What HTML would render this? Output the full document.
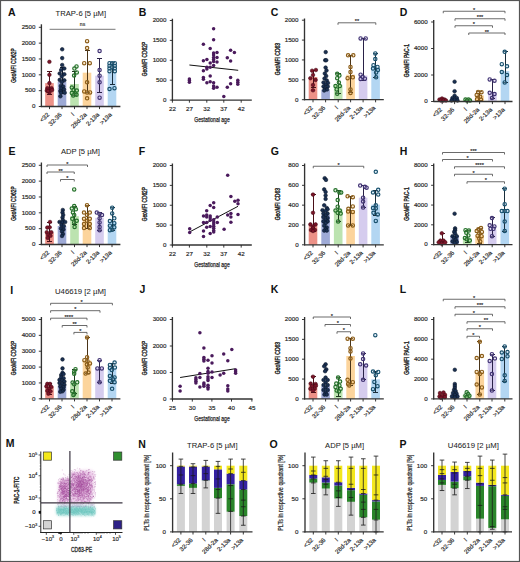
<!DOCTYPE html>
<html><head><meta charset="utf-8"><style>
html,body{margin:0;padding:0;background:#fff;}
svg{display:block;}
text{font-family:"Liberation Sans", sans-serif;stroke:#2a2a2a;stroke-width:0.18px;}
</style></head><body>
<svg width="520" height="562" viewBox="0 0 520 562">
<rect x="0" y="0" width="520" height="562" fill="#fff"/>
<text x="8.10" y="15.90" font-size="10.5" text-anchor="start" font-weight="bold" fill="#111"  style="stroke-width:0.04px">A</text>
<text x="80.80" y="15.60" font-size="7.4" text-anchor="middle" font-weight="normal" fill="#222" textLength="50.5" lengthAdjust="spacingAndGlyphs"  style="stroke-width:0.04px">TRAP-6 [5 µM]</text>
<line x1="41.40" y1="24.30" x2="41.40" y2="107.10" stroke="#333" stroke-width="1.35"/>
<line x1="38.80" y1="106.50" x2="41.40" y2="106.50" stroke="#222" stroke-width="0.9"/>
<text x="35.40" y="108.30" font-size="6.2" text-anchor="end" font-weight="normal" fill="#222" >0</text>
<line x1="38.80" y1="90.66" x2="41.40" y2="90.66" stroke="#222" stroke-width="0.9"/>
<text x="35.40" y="92.46" font-size="6.2" text-anchor="end" font-weight="normal" fill="#222" >500</text>
<line x1="38.80" y1="74.82" x2="41.40" y2="74.82" stroke="#222" stroke-width="0.9"/>
<text x="35.40" y="76.62" font-size="6.2" text-anchor="end" font-weight="normal" fill="#222" >1000</text>
<line x1="38.80" y1="58.98" x2="41.40" y2="58.98" stroke="#222" stroke-width="0.9"/>
<text x="35.40" y="60.78" font-size="6.2" text-anchor="end" font-weight="normal" fill="#222" >1500</text>
<line x1="38.80" y1="43.14" x2="41.40" y2="43.14" stroke="#222" stroke-width="0.9"/>
<text x="35.40" y="44.94" font-size="6.2" text-anchor="end" font-weight="normal" fill="#222" >2000</text>
<line x1="38.80" y1="27.30" x2="41.40" y2="27.30" stroke="#222" stroke-width="0.9"/>
<text x="35.40" y="29.10" font-size="6.2" text-anchor="end" font-weight="normal" fill="#222" >2500</text>
<text x="0" y="0" font-size="6.6" text-anchor="middle" fill="#222" textLength="34.3" lengthAdjust="spacingAndGlyphs" style="stroke-width:0.42px" transform="translate(15.60,65.50) rotate(-90)">GeoMFI CD62P</text>
<rect x="45.20" y="83.10" width="8.6" height="23.40" fill="#ec9187"/>
<rect x="57.70" y="81.70" width="8.6" height="24.80" fill="#9eaad6"/>
<rect x="70.20" y="84.00" width="8.6" height="22.50" fill="#bce3b0"/>
<rect x="82.70" y="72.70" width="8.6" height="33.80" fill="#fcd49c"/>
<rect x="95.20" y="75.70" width="8.6" height="30.80" fill="#d5ccee"/>
<rect x="107.70" y="72.50" width="8.6" height="34.00" fill="#b3d6f2"/>
<line x1="49.50" y1="71.50" x2="49.50" y2="94.50" stroke="#4a1018" stroke-width="1.0"/>
<line x1="47.00" y1="71.50" x2="52.00" y2="71.50" stroke="#4a1018" stroke-width="1.0"/>
<line x1="47.00" y1="94.50" x2="52.00" y2="94.50" stroke="#4a1018" stroke-width="1.0"/>
<line x1="62.50" y1="67.50" x2="62.50" y2="93.50" stroke="#101c30" stroke-width="1.0"/>
<line x1="60.00" y1="67.50" x2="65.00" y2="67.50" stroke="#101c30" stroke-width="1.0"/>
<line x1="60.00" y1="93.50" x2="65.00" y2="93.50" stroke="#101c30" stroke-width="1.0"/>
<line x1="74.50" y1="71.50" x2="74.50" y2="95.50" stroke="#1e3a1e" stroke-width="1.0"/>
<line x1="72.00" y1="71.50" x2="77.00" y2="71.50" stroke="#1e3a1e" stroke-width="1.0"/>
<line x1="72.00" y1="95.50" x2="77.00" y2="95.50" stroke="#1e3a1e" stroke-width="1.0"/>
<line x1="87.50" y1="50.50" x2="87.50" y2="92.50" stroke="#4a3418" stroke-width="1.0"/>
<line x1="85.00" y1="50.50" x2="90.00" y2="50.50" stroke="#4a3418" stroke-width="1.0"/>
<line x1="85.00" y1="92.50" x2="90.00" y2="92.50" stroke="#4a3418" stroke-width="1.0"/>
<line x1="99.50" y1="58.50" x2="99.50" y2="92.50" stroke="#2a2248" stroke-width="1.0"/>
<line x1="97.00" y1="58.50" x2="102.00" y2="58.50" stroke="#2a2248" stroke-width="1.0"/>
<line x1="97.00" y1="92.50" x2="102.00" y2="92.50" stroke="#2a2248" stroke-width="1.0"/>
<line x1="112.50" y1="62.50" x2="112.50" y2="84.50" stroke="#1a2e3c" stroke-width="1.0"/>
<line x1="110.00" y1="62.50" x2="115.00" y2="62.50" stroke="#1a2e3c" stroke-width="1.0"/>
<line x1="110.00" y1="84.50" x2="115.00" y2="84.50" stroke="#1a2e3c" stroke-width="1.0"/>
<circle cx="49.40" cy="61.80" r="1.8" fill="#7c1529" stroke="#480a16" stroke-width="0.6"/>
<circle cx="49.40" cy="74.80" r="1.8" fill="#7c1529" stroke="#480a16" stroke-width="0.6"/>
<circle cx="49.40" cy="83.10" r="1.8" fill="#7c1529" stroke="#480a16" stroke-width="0.6"/>
<circle cx="47.40" cy="88.20" r="1.8" fill="#7c1529" stroke="#480a16" stroke-width="0.6"/>
<circle cx="51.50" cy="88.20" r="1.8" fill="#7c1529" stroke="#480a16" stroke-width="0.6"/>
<circle cx="46.80" cy="90.60" r="1.8" fill="#7c1529" stroke="#480a16" stroke-width="0.6"/>
<circle cx="52.10" cy="90.00" r="1.8" fill="#7c1529" stroke="#480a16" stroke-width="0.6"/>
<circle cx="49.40" cy="92.40" r="1.8" fill="#7c1529" stroke="#480a16" stroke-width="0.6"/>
<circle cx="48.00" cy="91.00" r="1.8" fill="#7c1529" stroke="#480a16" stroke-width="0.6"/>
<circle cx="62.20" cy="49.30" r="1.8" fill="#1a3052" stroke="#0a1628" stroke-width="0.6"/>
<circle cx="62.20" cy="58.10" r="1.8" fill="#1a3052" stroke="#0a1628" stroke-width="0.6"/>
<circle cx="62.20" cy="65.00" r="1.8" fill="#1a3052" stroke="#0a1628" stroke-width="0.6"/>
<circle cx="64.30" cy="68.50" r="1.8" fill="#1a3052" stroke="#0a1628" stroke-width="0.6"/>
<circle cx="61.10" cy="70.00" r="1.8" fill="#1a3052" stroke="#0a1628" stroke-width="0.6"/>
<circle cx="59.70" cy="73.50" r="1.8" fill="#1a3052" stroke="#0a1628" stroke-width="0.6"/>
<circle cx="64.30" cy="74.20" r="1.8" fill="#1a3052" stroke="#0a1628" stroke-width="0.6"/>
<circle cx="61.80" cy="76.40" r="1.8" fill="#1a3052" stroke="#0a1628" stroke-width="0.6"/>
<circle cx="59.70" cy="79.90" r="1.8" fill="#1a3052" stroke="#0a1628" stroke-width="0.6"/>
<circle cx="64.30" cy="80.30" r="1.8" fill="#1a3052" stroke="#0a1628" stroke-width="0.6"/>
<circle cx="61.80" cy="82.00" r="1.8" fill="#1a3052" stroke="#0a1628" stroke-width="0.6"/>
<circle cx="60.80" cy="86.00" r="1.8" fill="#1a3052" stroke="#0a1628" stroke-width="0.6"/>
<circle cx="63.20" cy="86.50" r="1.8" fill="#1a3052" stroke="#0a1628" stroke-width="0.6"/>
<circle cx="61.10" cy="88.50" r="1.8" fill="#1a3052" stroke="#0a1628" stroke-width="0.6"/>
<circle cx="64.00" cy="89.50" r="1.8" fill="#1a3052" stroke="#0a1628" stroke-width="0.6"/>
<circle cx="60.40" cy="91.00" r="1.8" fill="#1a3052" stroke="#0a1628" stroke-width="0.6"/>
<circle cx="61.10" cy="92.80" r="1.8" fill="#1a3052" stroke="#0a1628" stroke-width="0.6"/>
<circle cx="64.70" cy="92.70" r="1.8" fill="#1a3052" stroke="#0a1628" stroke-width="0.6"/>
<circle cx="60.40" cy="96.30" r="1.8" fill="#1a3052" stroke="#0a1628" stroke-width="0.6"/>
<circle cx="76.50" cy="66.40" r="1.68" fill="#a8d89a" fill-opacity="0.35" stroke="#24702a" stroke-width="1.15"/>
<circle cx="74.40" cy="68.60" r="1.68" fill="#a8d89a" fill-opacity="0.35" stroke="#24702a" stroke-width="1.15"/>
<circle cx="76.80" cy="72.40" r="1.68" fill="#a8d89a" fill-opacity="0.35" stroke="#24702a" stroke-width="1.15"/>
<circle cx="74.10" cy="75.50" r="1.68" fill="#a8d89a" fill-opacity="0.35" stroke="#24702a" stroke-width="1.15"/>
<circle cx="71.80" cy="87.60" r="1.68" fill="#a8d89a" fill-opacity="0.35" stroke="#24702a" stroke-width="1.15"/>
<circle cx="73.60" cy="90.00" r="1.68" fill="#a8d89a" fill-opacity="0.35" stroke="#24702a" stroke-width="1.15"/>
<circle cx="76.80" cy="90.60" r="1.68" fill="#a8d89a" fill-opacity="0.35" stroke="#24702a" stroke-width="1.15"/>
<circle cx="71.80" cy="93.00" r="1.68" fill="#a8d89a" fill-opacity="0.35" stroke="#24702a" stroke-width="1.15"/>
<circle cx="75.30" cy="93.60" r="1.68" fill="#a8d89a" fill-opacity="0.35" stroke="#24702a" stroke-width="1.15"/>
<circle cx="73.20" cy="95.40" r="1.68" fill="#a8d89a" fill-opacity="0.35" stroke="#24702a" stroke-width="1.15"/>
<circle cx="76.50" cy="94.80" r="1.68" fill="#a8d89a" fill-opacity="0.35" stroke="#24702a" stroke-width="1.15"/>
<circle cx="87.10" cy="41.20" r="1.68" fill="#f8c880" fill-opacity="0.35" stroke="#8a5c18" stroke-width="1.15"/>
<circle cx="87.10" cy="48.10" r="1.68" fill="#f8c880" fill-opacity="0.35" stroke="#8a5c18" stroke-width="1.15"/>
<circle cx="84.20" cy="63.20" r="1.68" fill="#f8c880" fill-opacity="0.35" stroke="#8a5c18" stroke-width="1.15"/>
<circle cx="89.80" cy="63.20" r="1.68" fill="#f8c880" fill-opacity="0.35" stroke="#8a5c18" stroke-width="1.15"/>
<circle cx="87.10" cy="82.30" r="1.68" fill="#f8c880" fill-opacity="0.35" stroke="#8a5c18" stroke-width="1.15"/>
<circle cx="84.20" cy="91.40" r="1.68" fill="#f8c880" fill-opacity="0.35" stroke="#8a5c18" stroke-width="1.15"/>
<circle cx="87.10" cy="92.40" r="1.68" fill="#f8c880" fill-opacity="0.35" stroke="#8a5c18" stroke-width="1.15"/>
<circle cx="90.10" cy="92.40" r="1.68" fill="#f8c880" fill-opacity="0.35" stroke="#8a5c18" stroke-width="1.15"/>
<circle cx="87.10" cy="98.30" r="1.68" fill="#f8c880" fill-opacity="0.35" stroke="#8a5c18" stroke-width="1.15"/>
<circle cx="99.60" cy="51.00" r="1.68" fill="#cfc4ec" fill-opacity="0.35" stroke="#3f3272" stroke-width="1.15"/>
<circle cx="99.60" cy="70.00" r="1.68" fill="#cfc4ec" fill-opacity="0.35" stroke="#3f3272" stroke-width="1.15"/>
<circle cx="99.60" cy="75.70" r="1.68" fill="#cfc4ec" fill-opacity="0.35" stroke="#3f3272" stroke-width="1.15"/>
<circle cx="99.60" cy="82.30" r="1.68" fill="#cfc4ec" fill-opacity="0.35" stroke="#3f3272" stroke-width="1.15"/>
<circle cx="99.60" cy="97.70" r="1.68" fill="#cfc4ec" fill-opacity="0.35" stroke="#3f3272" stroke-width="1.15"/>
<circle cx="109.50" cy="63.20" r="1.68" fill="#a8d0f0" fill-opacity="0.35" stroke="#18506c" stroke-width="1.15"/>
<circle cx="112.10" cy="63.20" r="1.68" fill="#a8d0f0" fill-opacity="0.35" stroke="#18506c" stroke-width="1.15"/>
<circle cx="114.80" cy="63.20" r="1.68" fill="#a8d0f0" fill-opacity="0.35" stroke="#18506c" stroke-width="1.15"/>
<circle cx="109.50" cy="65.90" r="1.68" fill="#a8d0f0" fill-opacity="0.35" stroke="#18506c" stroke-width="1.15"/>
<circle cx="114.80" cy="65.90" r="1.68" fill="#a8d0f0" fill-opacity="0.35" stroke="#18506c" stroke-width="1.15"/>
<circle cx="112.10" cy="67.40" r="1.68" fill="#a8d0f0" fill-opacity="0.35" stroke="#18506c" stroke-width="1.15"/>
<circle cx="109.50" cy="68.60" r="1.68" fill="#a8d0f0" fill-opacity="0.35" stroke="#18506c" stroke-width="1.15"/>
<circle cx="114.80" cy="68.60" r="1.68" fill="#a8d0f0" fill-opacity="0.35" stroke="#18506c" stroke-width="1.15"/>
<circle cx="109.50" cy="71.20" r="1.68" fill="#a8d0f0" fill-opacity="0.35" stroke="#18506c" stroke-width="1.15"/>
<circle cx="114.80" cy="71.20" r="1.68" fill="#a8d0f0" fill-opacity="0.35" stroke="#18506c" stroke-width="1.15"/>
<circle cx="109.50" cy="89.00" r="1.68" fill="#a8d0f0" fill-opacity="0.35" stroke="#18506c" stroke-width="1.15"/>
<circle cx="114.50" cy="88.20" r="1.68" fill="#a8d0f0" fill-opacity="0.35" stroke="#18506c" stroke-width="1.15"/>
<line x1="40.60" y1="106.50" x2="120.40" y2="106.50" stroke="#333" stroke-width="1.3"/>
<line x1="49.50" y1="106.50" x2="49.50" y2="109.10" stroke="#222" stroke-width="0.9"/>
<text x="0" y="0" font-size="6.2" text-anchor="end" fill="#222" transform="translate(49.70,115.10) rotate(-45)">&lt;32</text>
<line x1="62.00" y1="106.50" x2="62.00" y2="109.10" stroke="#222" stroke-width="0.9"/>
<text x="0" y="0" font-size="6.2" text-anchor="end" fill="#222" transform="translate(62.20,115.10) rotate(-45)">32-36</text>
<line x1="74.50" y1="106.50" x2="74.50" y2="109.10" stroke="#222" stroke-width="0.9"/>
<text x="0" y="0" font-size="6.2" text-anchor="end" fill="#222" transform="translate(74.70,115.10) rotate(-45)">I</text>
<line x1="87.00" y1="106.50" x2="87.00" y2="109.10" stroke="#222" stroke-width="0.9"/>
<text x="0" y="0" font-size="6.2" text-anchor="end" fill="#222" transform="translate(87.20,115.10) rotate(-45)">28d-2a</text>
<line x1="99.50" y1="106.50" x2="99.50" y2="109.10" stroke="#222" stroke-width="0.9"/>
<text x="0" y="0" font-size="6.2" text-anchor="end" fill="#222" transform="translate(99.70,115.10) rotate(-45)">2-13a</text>
<line x1="112.00" y1="106.50" x2="112.00" y2="109.10" stroke="#222" stroke-width="0.9"/>
<text x="0" y="0" font-size="6.2" text-anchor="end" fill="#222" transform="translate(112.20,115.10) rotate(-45)">&gt;13a</text>
<line x1="49.60" y1="29.30" x2="115.50" y2="29.30" stroke="#555" stroke-width="0.8"/>
<text x="82.50" y="26.30" font-size="5.0" text-anchor="middle" font-weight="normal" fill="#444" >ns</text>
<text x="138.80" y="15.90" font-size="10.5" text-anchor="start" font-weight="bold" fill="#111"  style="stroke-width:0.04px">B</text>
<line x1="172.40" y1="18.70" x2="172.40" y2="100.70" stroke="#333" stroke-width="1.35"/>
<line x1="169.80" y1="100.10" x2="172.40" y2="100.10" stroke="#222" stroke-width="0.9"/>
<text x="166.40" y="101.90" font-size="6.2" text-anchor="end" font-weight="normal" fill="#222" >0</text>
<line x1="169.80" y1="80.20" x2="172.40" y2="80.20" stroke="#222" stroke-width="0.9"/>
<text x="166.40" y="82.00" font-size="6.2" text-anchor="end" font-weight="normal" fill="#222" >500</text>
<line x1="169.80" y1="60.30" x2="172.40" y2="60.30" stroke="#222" stroke-width="0.9"/>
<text x="166.40" y="62.10" font-size="6.2" text-anchor="end" font-weight="normal" fill="#222" >1000</text>
<line x1="169.80" y1="40.40" x2="172.40" y2="40.40" stroke="#222" stroke-width="0.9"/>
<text x="166.40" y="42.20" font-size="6.2" text-anchor="end" font-weight="normal" fill="#222" >1500</text>
<line x1="169.80" y1="20.50" x2="172.40" y2="20.50" stroke="#222" stroke-width="0.9"/>
<text x="166.40" y="22.30" font-size="6.2" text-anchor="end" font-weight="normal" fill="#222" >2000</text>
<text x="0" y="0" font-size="6.6" text-anchor="middle" fill="#222" textLength="34.3" lengthAdjust="spacingAndGlyphs" style="stroke-width:0.42px" transform="translate(147.40,59.00) rotate(-90)">GeoMFI CD62P</text>
<line x1="171.80" y1="100.10" x2="251.80" y2="100.10" stroke="#333" stroke-width="1.3"/>
<line x1="172.40" y1="100.10" x2="172.40" y2="102.70" stroke="#222" stroke-width="0.9"/>
<text x="172.40" y="110.70" font-size="6.2" text-anchor="middle" font-weight="normal" fill="#222" >22</text>
<line x1="189.40" y1="100.10" x2="189.40" y2="102.70" stroke="#222" stroke-width="0.9"/>
<text x="189.40" y="110.70" font-size="6.2" text-anchor="middle" font-weight="normal" fill="#222" >27</text>
<line x1="206.80" y1="100.10" x2="206.80" y2="102.70" stroke="#222" stroke-width="0.9"/>
<text x="206.80" y="110.70" font-size="6.2" text-anchor="middle" font-weight="normal" fill="#222" >32</text>
<line x1="223.80" y1="100.10" x2="223.80" y2="102.70" stroke="#222" stroke-width="0.9"/>
<text x="223.80" y="110.70" font-size="6.2" text-anchor="middle" font-weight="normal" fill="#222" >37</text>
<line x1="241.20" y1="100.10" x2="241.20" y2="102.70" stroke="#222" stroke-width="0.9"/>
<text x="241.20" y="110.70" font-size="6.2" text-anchor="middle" font-weight="normal" fill="#222" >42</text>
<text x="212.00" y="121.80" font-size="7.0" text-anchor="middle" font-weight="normal" fill="#222" textLength="35.5" lengthAdjust="spacingAndGlyphs" style="stroke-width:0.25px">Gestational age</text>
<line x1="189.40" y1="65.00" x2="238.20" y2="70.30" stroke="#111" stroke-width="1.0"/>
<circle cx="213.60" cy="28.80" r="1.75" fill="#4a1a5c"/>
<circle cx="213.60" cy="39.70" r="1.75" fill="#4a1a5c"/>
<circle cx="203.40" cy="44.20" r="1.75" fill="#4a1a5c"/>
<circle cx="210.20" cy="48.40" r="1.75" fill="#4a1a5c"/>
<circle cx="213.60" cy="53.00" r="1.75" fill="#4a1a5c"/>
<circle cx="217.00" cy="52.50" r="1.75" fill="#4a1a5c"/>
<circle cx="213.60" cy="55.10" r="1.75" fill="#4a1a5c"/>
<circle cx="213.60" cy="57.50" r="1.75" fill="#4a1a5c"/>
<circle cx="217.00" cy="57.50" r="1.75" fill="#4a1a5c"/>
<circle cx="213.60" cy="59.60" r="1.75" fill="#4a1a5c"/>
<circle cx="213.60" cy="61.60" r="1.75" fill="#4a1a5c"/>
<circle cx="217.00" cy="62.00" r="1.75" fill="#4a1a5c"/>
<circle cx="203.40" cy="60.80" r="1.75" fill="#4a1a5c"/>
<circle cx="206.90" cy="59.60" r="1.75" fill="#4a1a5c"/>
<circle cx="210.20" cy="63.10" r="1.75" fill="#4a1a5c"/>
<circle cx="213.60" cy="65.40" r="1.75" fill="#4a1a5c"/>
<circle cx="210.20" cy="67.20" r="1.75" fill="#4a1a5c"/>
<circle cx="206.90" cy="67.20" r="1.75" fill="#4a1a5c"/>
<circle cx="206.90" cy="69.10" r="1.75" fill="#4a1a5c"/>
<circle cx="203.40" cy="70.70" r="1.75" fill="#4a1a5c"/>
<circle cx="203.40" cy="77.50" r="1.75" fill="#4a1a5c"/>
<circle cx="203.40" cy="79.30" r="1.75" fill="#4a1a5c"/>
<circle cx="210.20" cy="76.00" r="1.75" fill="#4a1a5c"/>
<circle cx="206.90" cy="82.70" r="1.75" fill="#4a1a5c"/>
<circle cx="210.20" cy="81.70" r="1.75" fill="#4a1a5c"/>
<circle cx="213.60" cy="82.70" r="1.75" fill="#4a1a5c"/>
<circle cx="213.60" cy="88.30" r="1.75" fill="#4a1a5c"/>
<circle cx="217.00" cy="87.30" r="1.75" fill="#4a1a5c"/>
<circle cx="189.40" cy="79.00" r="1.75" fill="#4a1a5c"/>
<circle cx="189.40" cy="82.30" r="1.75" fill="#4a1a5c"/>
<circle cx="189.40" cy="80.50" r="1.75" fill="#4a1a5c"/>
<circle cx="230.60" cy="50.20" r="1.75" fill="#4a1a5c"/>
<circle cx="234.40" cy="52.50" r="1.75" fill="#4a1a5c"/>
<circle cx="227.30" cy="57.80" r="1.75" fill="#4a1a5c"/>
<circle cx="230.60" cy="61.10" r="1.75" fill="#4a1a5c"/>
<circle cx="230.60" cy="77.50" r="1.75" fill="#4a1a5c"/>
<circle cx="230.60" cy="83.80" r="1.75" fill="#4a1a5c"/>
<circle cx="227.30" cy="87.30" r="1.75" fill="#4a1a5c"/>
<circle cx="223.80" cy="96.40" r="1.75" fill="#4a1a5c"/>
<circle cx="237.80" cy="80.20" r="1.75" fill="#4a1a5c"/>
<circle cx="237.80" cy="82.30" r="1.75" fill="#4a1a5c"/>
<circle cx="237.80" cy="84.30" r="1.75" fill="#4a1a5c"/>
<circle cx="213.60" cy="86.00" r="1.75" fill="#4a1a5c"/>
<text x="270.80" y="15.90" font-size="10.5" text-anchor="start" font-weight="bold" fill="#111"  style="stroke-width:0.04px">C</text>
<line x1="304.50" y1="18.50" x2="304.50" y2="100.30" stroke="#333" stroke-width="1.35"/>
<line x1="301.90" y1="99.70" x2="304.50" y2="99.70" stroke="#222" stroke-width="0.9"/>
<text x="298.50" y="101.50" font-size="6.2" text-anchor="end" font-weight="normal" fill="#222" >0</text>
<line x1="301.90" y1="79.83" x2="304.50" y2="79.83" stroke="#222" stroke-width="0.9"/>
<text x="298.50" y="81.62" font-size="6.2" text-anchor="end" font-weight="normal" fill="#222" >500</text>
<line x1="301.90" y1="59.95" x2="304.50" y2="59.95" stroke="#222" stroke-width="0.9"/>
<text x="298.50" y="61.75" font-size="6.2" text-anchor="end" font-weight="normal" fill="#222" >1000</text>
<line x1="301.90" y1="40.08" x2="304.50" y2="40.08" stroke="#222" stroke-width="0.9"/>
<text x="298.50" y="41.88" font-size="6.2" text-anchor="end" font-weight="normal" fill="#222" >1500</text>
<line x1="301.90" y1="20.20" x2="304.50" y2="20.20" stroke="#222" stroke-width="0.9"/>
<text x="298.50" y="22.00" font-size="6.2" text-anchor="end" font-weight="normal" fill="#222" >2000</text>
<text x="0" y="0" font-size="6.6" text-anchor="middle" fill="#222" textLength="32.3" lengthAdjust="spacingAndGlyphs" style="stroke-width:0.42px" transform="translate(280.20,59.00) rotate(-90)">GeoMFI CD63</text>
<rect x="308.70" y="77.00" width="8.6" height="22.70" fill="#ec9187"/>
<rect x="321.30" y="89.50" width="8.6" height="10.20" fill="#9eaad6"/>
<rect x="333.90" y="85.00" width="8.6" height="14.70" fill="#bce3b0"/>
<rect x="346.30" y="74.70" width="8.6" height="25.00" fill="#fcd49c"/>
<rect x="358.80" y="75.50" width="8.6" height="24.20" fill="#d5ccee"/>
<rect x="371.30" y="67.80" width="8.6" height="31.90" fill="#b3d6f2"/>
<line x1="313.50" y1="70.50" x2="313.50" y2="87.50" stroke="#4a1018" stroke-width="1.0"/>
<line x1="311.00" y1="70.50" x2="316.00" y2="70.50" stroke="#4a1018" stroke-width="1.0"/>
<line x1="311.00" y1="87.50" x2="316.00" y2="87.50" stroke="#4a1018" stroke-width="1.0"/>
<line x1="338.50" y1="73.50" x2="338.50" y2="93.50" stroke="#1e3a1e" stroke-width="1.0"/>
<line x1="336.00" y1="73.50" x2="341.00" y2="73.50" stroke="#1e3a1e" stroke-width="1.0"/>
<line x1="336.00" y1="93.50" x2="341.00" y2="93.50" stroke="#1e3a1e" stroke-width="1.0"/>
<line x1="350.50" y1="55.50" x2="350.50" y2="92.50" stroke="#4a3418" stroke-width="1.0"/>
<line x1="348.00" y1="55.50" x2="353.00" y2="55.50" stroke="#4a3418" stroke-width="1.0"/>
<line x1="348.00" y1="92.50" x2="353.00" y2="92.50" stroke="#4a3418" stroke-width="1.0"/>
<line x1="363.50" y1="38.50" x2="363.50" y2="80.50" stroke="#2a2248" stroke-width="1.0"/>
<line x1="361.00" y1="38.50" x2="366.00" y2="38.50" stroke="#2a2248" stroke-width="1.0"/>
<line x1="361.00" y1="80.50" x2="366.00" y2="80.50" stroke="#2a2248" stroke-width="1.0"/>
<line x1="375.50" y1="53.50" x2="375.50" y2="77.50" stroke="#1a2e3c" stroke-width="1.0"/>
<line x1="373.00" y1="53.50" x2="378.00" y2="53.50" stroke="#1a2e3c" stroke-width="1.0"/>
<line x1="373.00" y1="77.50" x2="378.00" y2="77.50" stroke="#1a2e3c" stroke-width="1.0"/>
<circle cx="312.10" cy="70.70" r="1.8" fill="#7c1529" stroke="#480a16" stroke-width="0.6"/>
<circle cx="315.90" cy="70.00" r="1.8" fill="#7c1529" stroke="#480a16" stroke-width="0.6"/>
<circle cx="310.40" cy="78.20" r="1.8" fill="#7c1529" stroke="#480a16" stroke-width="0.6"/>
<circle cx="315.60" cy="79.90" r="1.8" fill="#7c1529" stroke="#480a16" stroke-width="0.6"/>
<circle cx="313.00" cy="75.00" r="1.8" fill="#7c1529" stroke="#480a16" stroke-width="0.6"/>
<circle cx="313.00" cy="85.00" r="1.8" fill="#7c1529" stroke="#480a16" stroke-width="0.6"/>
<circle cx="313.00" cy="90.30" r="1.8" fill="#7c1529" stroke="#480a16" stroke-width="0.6"/>
<circle cx="325.70" cy="52.10" r="1.8" fill="#1a3052" stroke="#0a1628" stroke-width="0.6"/>
<circle cx="325.20" cy="60.20" r="1.8" fill="#1a3052" stroke="#0a1628" stroke-width="0.6"/>
<circle cx="326.20" cy="60.20" r="1.8" fill="#1a3052" stroke="#0a1628" stroke-width="0.6"/>
<circle cx="325.60" cy="67.60" r="1.8" fill="#1a3052" stroke="#0a1628" stroke-width="0.6"/>
<circle cx="326.50" cy="70.50" r="1.8" fill="#1a3052" stroke="#0a1628" stroke-width="0.6"/>
<circle cx="324.80" cy="73.50" r="1.8" fill="#1a3052" stroke="#0a1628" stroke-width="0.6"/>
<circle cx="326.20" cy="76.00" r="1.8" fill="#1a3052" stroke="#0a1628" stroke-width="0.6"/>
<circle cx="324.50" cy="78.50" r="1.8" fill="#1a3052" stroke="#0a1628" stroke-width="0.6"/>
<circle cx="326.80" cy="80.50" r="1.8" fill="#1a3052" stroke="#0a1628" stroke-width="0.6"/>
<circle cx="323.50" cy="82.50" r="1.8" fill="#1a3052" stroke="#0a1628" stroke-width="0.6"/>
<circle cx="328.00" cy="83.00" r="1.8" fill="#1a3052" stroke="#0a1628" stroke-width="0.6"/>
<circle cx="325.60" cy="84.50" r="1.8" fill="#1a3052" stroke="#0a1628" stroke-width="0.6"/>
<circle cx="323.50" cy="86.50" r="1.8" fill="#1a3052" stroke="#0a1628" stroke-width="0.6"/>
<circle cx="327.80" cy="86.50" r="1.8" fill="#1a3052" stroke="#0a1628" stroke-width="0.6"/>
<circle cx="325.00" cy="88.50" r="1.8" fill="#1a3052" stroke="#0a1628" stroke-width="0.6"/>
<circle cx="327.00" cy="89.50" r="1.8" fill="#1a3052" stroke="#0a1628" stroke-width="0.6"/>
<circle cx="324.20" cy="90.50" r="1.8" fill="#1a3052" stroke="#0a1628" stroke-width="0.6"/>
<circle cx="337.20" cy="73.80" r="1.68" fill="#a8d89a" fill-opacity="0.35" stroke="#24702a" stroke-width="1.15"/>
<circle cx="339.40" cy="75.60" r="1.68" fill="#a8d89a" fill-opacity="0.35" stroke="#24702a" stroke-width="1.15"/>
<circle cx="337.20" cy="78.20" r="1.68" fill="#a8d89a" fill-opacity="0.35" stroke="#24702a" stroke-width="1.15"/>
<circle cx="338.90" cy="82.50" r="1.68" fill="#a8d89a" fill-opacity="0.35" stroke="#24702a" stroke-width="1.15"/>
<circle cx="335.50" cy="86.00" r="1.68" fill="#a8d89a" fill-opacity="0.35" stroke="#24702a" stroke-width="1.15"/>
<circle cx="339.80" cy="86.00" r="1.68" fill="#a8d89a" fill-opacity="0.35" stroke="#24702a" stroke-width="1.15"/>
<circle cx="336.70" cy="89.40" r="1.68" fill="#a8d89a" fill-opacity="0.35" stroke="#24702a" stroke-width="1.15"/>
<circle cx="337.20" cy="93.70" r="1.68" fill="#a8d89a" fill-opacity="0.35" stroke="#24702a" stroke-width="1.15"/>
<circle cx="348.10" cy="55.30" r="1.68" fill="#f8c880" fill-opacity="0.35" stroke="#8a5c18" stroke-width="1.15"/>
<circle cx="353.30" cy="55.30" r="1.68" fill="#f8c880" fill-opacity="0.35" stroke="#8a5c18" stroke-width="1.15"/>
<circle cx="350.50" cy="66.90" r="1.68" fill="#f8c880" fill-opacity="0.35" stroke="#8a5c18" stroke-width="1.15"/>
<circle cx="350.50" cy="72.10" r="1.68" fill="#f8c880" fill-opacity="0.35" stroke="#8a5c18" stroke-width="1.15"/>
<circle cx="347.60" cy="78.20" r="1.68" fill="#f8c880" fill-opacity="0.35" stroke="#8a5c18" stroke-width="1.15"/>
<circle cx="352.80" cy="77.30" r="1.68" fill="#f8c880" fill-opacity="0.35" stroke="#8a5c18" stroke-width="1.15"/>
<circle cx="350.50" cy="89.40" r="1.68" fill="#f8c880" fill-opacity="0.35" stroke="#8a5c18" stroke-width="1.15"/>
<circle cx="350.50" cy="92.90" r="1.68" fill="#f8c880" fill-opacity="0.35" stroke="#8a5c18" stroke-width="1.15"/>
<circle cx="360.60" cy="38.40" r="1.68" fill="#cfc4ec" fill-opacity="0.35" stroke="#3f3272" stroke-width="1.15"/>
<circle cx="365.70" cy="38.40" r="1.68" fill="#cfc4ec" fill-opacity="0.35" stroke="#3f3272" stroke-width="1.15"/>
<circle cx="360.60" cy="74.70" r="1.68" fill="#cfc4ec" fill-opacity="0.35" stroke="#3f3272" stroke-width="1.15"/>
<circle cx="362.70" cy="76.90" r="1.68" fill="#cfc4ec" fill-opacity="0.35" stroke="#3f3272" stroke-width="1.15"/>
<circle cx="364.90" cy="78.70" r="1.68" fill="#cfc4ec" fill-opacity="0.35" stroke="#3f3272" stroke-width="1.15"/>
<circle cx="360.60" cy="79.00" r="1.68" fill="#cfc4ec" fill-opacity="0.35" stroke="#3f3272" stroke-width="1.15"/>
<circle cx="375.30" cy="53.40" r="1.68" fill="#a8d0f0" fill-opacity="0.35" stroke="#18506c" stroke-width="1.15"/>
<circle cx="375.30" cy="59.10" r="1.68" fill="#a8d0f0" fill-opacity="0.35" stroke="#18506c" stroke-width="1.15"/>
<circle cx="373.50" cy="65.20" r="1.68" fill="#a8d0f0" fill-opacity="0.35" stroke="#18506c" stroke-width="1.15"/>
<circle cx="377.50" cy="66.90" r="1.68" fill="#a8d0f0" fill-opacity="0.35" stroke="#18506c" stroke-width="1.15"/>
<circle cx="373.00" cy="68.60" r="1.68" fill="#a8d0f0" fill-opacity="0.35" stroke="#18506c" stroke-width="1.15"/>
<circle cx="377.90" cy="70.00" r="1.68" fill="#a8d0f0" fill-opacity="0.35" stroke="#18506c" stroke-width="1.15"/>
<circle cx="376.10" cy="72.40" r="1.68" fill="#a8d0f0" fill-opacity="0.35" stroke="#18506c" stroke-width="1.15"/>
<circle cx="376.10" cy="77.30" r="1.68" fill="#a8d0f0" fill-opacity="0.35" stroke="#18506c" stroke-width="1.15"/>
<line x1="303.90" y1="99.70" x2="383.80" y2="99.70" stroke="#333" stroke-width="1.3"/>
<line x1="313.00" y1="99.70" x2="313.00" y2="102.30" stroke="#222" stroke-width="0.9"/>
<text x="0" y="0" font-size="6.2" text-anchor="end" fill="#222" transform="translate(313.20,108.30) rotate(-45)">&lt;32</text>
<line x1="325.60" y1="99.70" x2="325.60" y2="102.30" stroke="#222" stroke-width="0.9"/>
<text x="0" y="0" font-size="6.2" text-anchor="end" fill="#222" transform="translate(325.80,108.30) rotate(-45)">32-36</text>
<line x1="338.20" y1="99.70" x2="338.20" y2="102.30" stroke="#222" stroke-width="0.9"/>
<text x="0" y="0" font-size="6.2" text-anchor="end" fill="#222" transform="translate(338.40,108.30) rotate(-45)">I</text>
<line x1="350.60" y1="99.70" x2="350.60" y2="102.30" stroke="#222" stroke-width="0.9"/>
<text x="0" y="0" font-size="6.2" text-anchor="end" fill="#222" transform="translate(350.80,108.30) rotate(-45)">28d-2a</text>
<line x1="363.10" y1="99.70" x2="363.10" y2="102.30" stroke="#222" stroke-width="0.9"/>
<text x="0" y="0" font-size="6.2" text-anchor="end" fill="#222" transform="translate(363.30,108.30) rotate(-45)">2-13a</text>
<line x1="375.60" y1="99.70" x2="375.60" y2="102.30" stroke="#222" stroke-width="0.9"/>
<text x="0" y="0" font-size="6.2" text-anchor="end" fill="#222" transform="translate(375.80,108.30) rotate(-45)">&gt;13a</text>
<path d="M338.00,24.80 V22.80 H375.80 V24.80" fill="none" stroke="#505050" stroke-width="0.85"/>
<text x="356.90" y="23.40" font-size="5.6" text-anchor="middle" font-weight="normal" fill="#333" >**</text>
<text x="399.80" y="15.90" font-size="10.5" text-anchor="start" font-weight="bold" fill="#111"  style="stroke-width:0.04px">D</text>
<line x1="433.70" y1="20.00" x2="433.70" y2="102.10" stroke="#333" stroke-width="1.35"/>
<line x1="431.10" y1="101.50" x2="433.70" y2="101.50" stroke="#222" stroke-width="0.9"/>
<text x="427.70" y="103.30" font-size="6.2" text-anchor="end" font-weight="normal" fill="#222" >0</text>
<line x1="431.10" y1="75.00" x2="433.70" y2="75.00" stroke="#222" stroke-width="0.9"/>
<text x="427.70" y="76.80" font-size="6.2" text-anchor="end" font-weight="normal" fill="#222" >2000</text>
<line x1="431.10" y1="48.50" x2="433.70" y2="48.50" stroke="#222" stroke-width="0.9"/>
<text x="427.70" y="50.30" font-size="6.2" text-anchor="end" font-weight="normal" fill="#222" >4000</text>
<line x1="431.10" y1="22.00" x2="433.70" y2="22.00" stroke="#222" stroke-width="0.9"/>
<text x="427.70" y="23.80" font-size="6.2" text-anchor="end" font-weight="normal" fill="#222" >6000</text>
<text x="0" y="0" font-size="6.6" text-anchor="middle" fill="#222" textLength="33.3" lengthAdjust="spacingAndGlyphs" style="stroke-width:0.42px" transform="translate(408.60,60.60) rotate(-90)">GeoMFI PAC-1</text>
<rect x="437.90" y="99.50" width="8.6" height="2.00" fill="#ec9187"/>
<rect x="450.30" y="97.50" width="8.6" height="4.00" fill="#9eaad6"/>
<rect x="462.90" y="99.80" width="8.6" height="1.70" fill="#bce3b0"/>
<rect x="475.30" y="95.40" width="8.6" height="6.10" fill="#fcd49c"/>
<rect x="488.10" y="92.50" width="8.6" height="9.00" fill="#d5ccee"/>
<rect x="500.70" y="71.10" width="8.6" height="30.40" fill="#b3d6f2"/>
<line x1="479.50" y1="91.50" x2="479.50" y2="100.50" stroke="#4a3418" stroke-width="1.0"/>
<line x1="477.00" y1="91.50" x2="482.00" y2="91.50" stroke="#4a3418" stroke-width="1.0"/>
<line x1="477.00" y1="100.50" x2="482.00" y2="100.50" stroke="#4a3418" stroke-width="1.0"/>
<line x1="492.50" y1="79.50" x2="492.50" y2="98.50" stroke="#2a2248" stroke-width="1.0"/>
<line x1="490.00" y1="79.50" x2="495.00" y2="79.50" stroke="#2a2248" stroke-width="1.0"/>
<line x1="490.00" y1="98.50" x2="495.00" y2="98.50" stroke="#2a2248" stroke-width="1.0"/>
<line x1="505.50" y1="51.50" x2="505.50" y2="82.50" stroke="#1a2e3c" stroke-width="1.0"/>
<line x1="503.00" y1="51.50" x2="508.00" y2="51.50" stroke="#1a2e3c" stroke-width="1.0"/>
<line x1="503.00" y1="82.50" x2="508.00" y2="82.50" stroke="#1a2e3c" stroke-width="1.0"/>
<circle cx="439.50" cy="99.50" r="1.8" fill="#7c1529" stroke="#480a16" stroke-width="0.6"/>
<circle cx="442.00" cy="98.50" r="1.8" fill="#7c1529" stroke="#480a16" stroke-width="0.6"/>
<circle cx="444.50" cy="99.50" r="1.8" fill="#7c1529" stroke="#480a16" stroke-width="0.6"/>
<circle cx="441.00" cy="100.50" r="1.8" fill="#7c1529" stroke="#480a16" stroke-width="0.6"/>
<circle cx="443.50" cy="100.50" r="1.8" fill="#7c1529" stroke="#480a16" stroke-width="0.6"/>
<circle cx="446.00" cy="100.50" r="1.8" fill="#7c1529" stroke="#480a16" stroke-width="0.6"/>
<circle cx="454.60" cy="81.70" r="1.8" fill="#1a3052" stroke="#0a1628" stroke-width="0.6"/>
<circle cx="454.60" cy="91.20" r="1.8" fill="#1a3052" stroke="#0a1628" stroke-width="0.6"/>
<circle cx="454.60" cy="95.70" r="1.8" fill="#1a3052" stroke="#0a1628" stroke-width="0.6"/>
<circle cx="452.50" cy="98.00" r="1.8" fill="#1a3052" stroke="#0a1628" stroke-width="0.6"/>
<circle cx="456.80" cy="98.00" r="1.8" fill="#1a3052" stroke="#0a1628" stroke-width="0.6"/>
<circle cx="454.60" cy="99.70" r="1.8" fill="#1a3052" stroke="#0a1628" stroke-width="0.6"/>
<circle cx="451.50" cy="100.50" r="1.8" fill="#1a3052" stroke="#0a1628" stroke-width="0.6"/>
<circle cx="457.50" cy="100.50" r="1.8" fill="#1a3052" stroke="#0a1628" stroke-width="0.6"/>
<circle cx="465.50" cy="99.50" r="1.68" fill="#a8d89a" fill-opacity="0.35" stroke="#24702a" stroke-width="1.15"/>
<circle cx="468.50" cy="99.50" r="1.68" fill="#a8d89a" fill-opacity="0.35" stroke="#24702a" stroke-width="1.15"/>
<circle cx="467.00" cy="100.50" r="1.68" fill="#a8d89a" fill-opacity="0.35" stroke="#24702a" stroke-width="1.15"/>
<circle cx="470.00" cy="100.50" r="1.68" fill="#a8d89a" fill-opacity="0.35" stroke="#24702a" stroke-width="1.15"/>
<circle cx="478.10" cy="91.90" r="1.68" fill="#f8c880" fill-opacity="0.35" stroke="#8a5c18" stroke-width="1.15"/>
<circle cx="481.50" cy="92.20" r="1.68" fill="#f8c880" fill-opacity="0.35" stroke="#8a5c18" stroke-width="1.15"/>
<circle cx="476.70" cy="95.00" r="1.68" fill="#f8c880" fill-opacity="0.35" stroke="#8a5c18" stroke-width="1.15"/>
<circle cx="480.20" cy="96.80" r="1.68" fill="#f8c880" fill-opacity="0.35" stroke="#8a5c18" stroke-width="1.15"/>
<circle cx="477.00" cy="99.30" r="1.68" fill="#f8c880" fill-opacity="0.35" stroke="#8a5c18" stroke-width="1.15"/>
<circle cx="481.00" cy="99.70" r="1.68" fill="#f8c880" fill-opacity="0.35" stroke="#8a5c18" stroke-width="1.15"/>
<circle cx="489.70" cy="79.40" r="1.68" fill="#cfc4ec" fill-opacity="0.35" stroke="#3f3272" stroke-width="1.15"/>
<circle cx="494.50" cy="80.70" r="1.68" fill="#cfc4ec" fill-opacity="0.35" stroke="#3f3272" stroke-width="1.15"/>
<circle cx="489.70" cy="92.80" r="1.68" fill="#cfc4ec" fill-opacity="0.35" stroke="#3f3272" stroke-width="1.15"/>
<circle cx="494.50" cy="94.00" r="1.68" fill="#cfc4ec" fill-opacity="0.35" stroke="#3f3272" stroke-width="1.15"/>
<circle cx="492.00" cy="98.00" r="1.68" fill="#cfc4ec" fill-opacity="0.35" stroke="#3f3272" stroke-width="1.15"/>
<circle cx="504.70" cy="51.80" r="1.68" fill="#a8d0f0" fill-opacity="0.35" stroke="#18506c" stroke-width="1.15"/>
<circle cx="501.80" cy="64.20" r="1.68" fill="#a8d0f0" fill-opacity="0.35" stroke="#18506c" stroke-width="1.15"/>
<circle cx="507.00" cy="66.30" r="1.68" fill="#a8d0f0" fill-opacity="0.35" stroke="#18506c" stroke-width="1.15"/>
<circle cx="501.80" cy="72.00" r="1.68" fill="#a8d0f0" fill-opacity="0.35" stroke="#18506c" stroke-width="1.15"/>
<circle cx="507.00" cy="75.00" r="1.68" fill="#a8d0f0" fill-opacity="0.35" stroke="#18506c" stroke-width="1.15"/>
<circle cx="504.70" cy="82.40" r="1.68" fill="#a8d0f0" fill-opacity="0.35" stroke="#18506c" stroke-width="1.15"/>
<line x1="433.40" y1="101.50" x2="512.50" y2="101.50" stroke="#333" stroke-width="1.3"/>
<line x1="442.20" y1="101.50" x2="442.20" y2="104.10" stroke="#222" stroke-width="0.9"/>
<text x="0" y="0" font-size="6.2" text-anchor="end" fill="#222" transform="translate(442.40,110.10) rotate(-45)">&lt;32</text>
<line x1="454.60" y1="101.50" x2="454.60" y2="104.10" stroke="#222" stroke-width="0.9"/>
<text x="0" y="0" font-size="6.2" text-anchor="end" fill="#222" transform="translate(454.80,110.10) rotate(-45)">32-36</text>
<line x1="467.20" y1="101.50" x2="467.20" y2="104.10" stroke="#222" stroke-width="0.9"/>
<text x="0" y="0" font-size="6.2" text-anchor="end" fill="#222" transform="translate(467.40,110.10) rotate(-45)">I</text>
<line x1="479.60" y1="101.50" x2="479.60" y2="104.10" stroke="#222" stroke-width="0.9"/>
<text x="0" y="0" font-size="6.2" text-anchor="end" fill="#222" transform="translate(479.80,110.10) rotate(-45)">28d-2a</text>
<line x1="492.40" y1="101.50" x2="492.40" y2="104.10" stroke="#222" stroke-width="0.9"/>
<text x="0" y="0" font-size="6.2" text-anchor="end" fill="#222" transform="translate(492.60,110.10) rotate(-45)">2-13a</text>
<line x1="505.00" y1="101.50" x2="505.00" y2="104.10" stroke="#222" stroke-width="0.9"/>
<text x="0" y="0" font-size="6.2" text-anchor="end" fill="#222" transform="translate(505.20,110.10) rotate(-45)">&gt;13a</text>
<path d="M443.25,13.25 V11.25 H505.00 V13.25" fill="none" stroke="#505050" stroke-width="0.85"/>
<text x="474.12" y="11.85" font-size="5.6" text-anchor="middle" font-weight="normal" fill="#333" >*</text>
<path d="M455.00,20.75 V18.75 H505.00 V20.75" fill="none" stroke="#505050" stroke-width="0.85"/>
<text x="480.00" y="19.35" font-size="5.6" text-anchor="middle" font-weight="normal" fill="#333" >***</text>
<path d="M455.00,27.75 V25.75 H492.50 V27.75" fill="none" stroke="#505050" stroke-width="0.85"/>
<text x="473.75" y="26.35" font-size="5.6" text-anchor="middle" font-weight="normal" fill="#333" >*</text>
<path d="M468.75,35.00 V33.00 H505.00 V35.00" fill="none" stroke="#505050" stroke-width="0.85"/>
<text x="486.88" y="33.60" font-size="5.6" text-anchor="middle" font-weight="normal" fill="#333" >**</text>
<text x="8.60" y="155.30" font-size="10.5" text-anchor="start" font-weight="bold" fill="#111"  style="stroke-width:0.04px">E</text>
<text x="80.50" y="154.40" font-size="7.4" text-anchor="middle" font-weight="normal" fill="#222" textLength="39.0" lengthAdjust="spacingAndGlyphs"  style="stroke-width:0.04px">ADP [5 µM]</text>
<line x1="41.40" y1="162.50" x2="41.40" y2="245.10" stroke="#333" stroke-width="1.35"/>
<line x1="38.80" y1="244.50" x2="41.40" y2="244.50" stroke="#222" stroke-width="0.9"/>
<text x="35.40" y="246.30" font-size="6.2" text-anchor="end" font-weight="normal" fill="#222" >0</text>
<line x1="38.80" y1="228.66" x2="41.40" y2="228.66" stroke="#222" stroke-width="0.9"/>
<text x="35.40" y="230.46" font-size="6.2" text-anchor="end" font-weight="normal" fill="#222" >500</text>
<line x1="38.80" y1="212.82" x2="41.40" y2="212.82" stroke="#222" stroke-width="0.9"/>
<text x="35.40" y="214.62" font-size="6.2" text-anchor="end" font-weight="normal" fill="#222" >1000</text>
<line x1="38.80" y1="196.98" x2="41.40" y2="196.98" stroke="#222" stroke-width="0.9"/>
<text x="35.40" y="198.78" font-size="6.2" text-anchor="end" font-weight="normal" fill="#222" >1500</text>
<line x1="38.80" y1="181.14" x2="41.40" y2="181.14" stroke="#222" stroke-width="0.9"/>
<text x="35.40" y="182.94" font-size="6.2" text-anchor="end" font-weight="normal" fill="#222" >2000</text>
<line x1="38.80" y1="165.30" x2="41.40" y2="165.30" stroke="#222" stroke-width="0.9"/>
<text x="35.40" y="167.10" font-size="6.2" text-anchor="end" font-weight="normal" fill="#222" >2500</text>
<text x="0" y="0" font-size="6.6" text-anchor="middle" fill="#222" textLength="34.3" lengthAdjust="spacingAndGlyphs" style="stroke-width:0.42px" transform="translate(15.60,203.50) rotate(-90)">GeoMFI CD62P</text>
<rect x="45.20" y="233.00" width="8.6" height="11.50" fill="#ec9187"/>
<rect x="57.70" y="226.00" width="8.6" height="18.50" fill="#9eaad6"/>
<rect x="70.20" y="216.20" width="8.6" height="28.30" fill="#bce3b0"/>
<rect x="82.70" y="218.80" width="8.6" height="25.70" fill="#fcd49c"/>
<rect x="95.20" y="217.80" width="8.6" height="26.70" fill="#d5ccee"/>
<rect x="107.70" y="221.60" width="8.6" height="22.90" fill="#b3d6f2"/>
<line x1="49.50" y1="222.50" x2="49.50" y2="241.50" stroke="#4a1018" stroke-width="1.0"/>
<line x1="47.00" y1="222.50" x2="52.00" y2="222.50" stroke="#4a1018" stroke-width="1.0"/>
<line x1="47.00" y1="241.50" x2="52.00" y2="241.50" stroke="#4a1018" stroke-width="1.0"/>
<line x1="74.50" y1="206.50" x2="74.50" y2="224.50" stroke="#1e3a1e" stroke-width="1.0"/>
<line x1="72.00" y1="206.50" x2="77.00" y2="206.50" stroke="#1e3a1e" stroke-width="1.0"/>
<line x1="72.00" y1="224.50" x2="77.00" y2="224.50" stroke="#1e3a1e" stroke-width="1.0"/>
<line x1="87.50" y1="205.50" x2="87.50" y2="228.50" stroke="#4a3418" stroke-width="1.0"/>
<line x1="85.00" y1="205.50" x2="90.00" y2="205.50" stroke="#4a3418" stroke-width="1.0"/>
<line x1="85.00" y1="228.50" x2="90.00" y2="228.50" stroke="#4a3418" stroke-width="1.0"/>
<line x1="99.50" y1="212.50" x2="99.50" y2="230.50" stroke="#2a2248" stroke-width="1.0"/>
<line x1="97.00" y1="212.50" x2="102.00" y2="212.50" stroke="#2a2248" stroke-width="1.0"/>
<line x1="97.00" y1="230.50" x2="102.00" y2="230.50" stroke="#2a2248" stroke-width="1.0"/>
<line x1="112.50" y1="207.50" x2="112.50" y2="230.50" stroke="#1a2e3c" stroke-width="1.0"/>
<line x1="110.00" y1="207.50" x2="115.00" y2="207.50" stroke="#1a2e3c" stroke-width="1.0"/>
<line x1="110.00" y1="230.50" x2="115.00" y2="230.50" stroke="#1a2e3c" stroke-width="1.0"/>
<circle cx="50.00" cy="222.00" r="1.8" fill="#7c1529" stroke="#480a16" stroke-width="0.6"/>
<circle cx="49.70" cy="227.30" r="1.8" fill="#7c1529" stroke="#480a16" stroke-width="0.6"/>
<circle cx="47.30" cy="227.60" r="1.8" fill="#7c1529" stroke="#480a16" stroke-width="0.6"/>
<circle cx="46.80" cy="232.20" r="1.8" fill="#7c1529" stroke="#480a16" stroke-width="0.6"/>
<circle cx="51.30" cy="232.20" r="1.8" fill="#7c1529" stroke="#480a16" stroke-width="0.6"/>
<circle cx="48.10" cy="234.70" r="1.8" fill="#7c1529" stroke="#480a16" stroke-width="0.6"/>
<circle cx="50.50" cy="235.80" r="1.8" fill="#7c1529" stroke="#480a16" stroke-width="0.6"/>
<circle cx="47.70" cy="237.90" r="1.8" fill="#7c1529" stroke="#480a16" stroke-width="0.6"/>
<circle cx="62.80" cy="210.00" r="1.8" fill="#1a3052" stroke="#0a1628" stroke-width="0.6"/>
<circle cx="62.50" cy="212.50" r="1.8" fill="#1a3052" stroke="#0a1628" stroke-width="0.6"/>
<circle cx="63.20" cy="215.00" r="1.8" fill="#1a3052" stroke="#0a1628" stroke-width="0.6"/>
<circle cx="62.50" cy="217.50" r="1.8" fill="#1a3052" stroke="#0a1628" stroke-width="0.6"/>
<circle cx="62.80" cy="220.00" r="1.8" fill="#1a3052" stroke="#0a1628" stroke-width="0.6"/>
<circle cx="59.50" cy="222.00" r="1.8" fill="#1a3052" stroke="#0a1628" stroke-width="0.6"/>
<circle cx="62.50" cy="222.50" r="1.8" fill="#1a3052" stroke="#0a1628" stroke-width="0.6"/>
<circle cx="65.20" cy="222.00" r="1.8" fill="#1a3052" stroke="#0a1628" stroke-width="0.6"/>
<circle cx="61.50" cy="225.00" r="1.8" fill="#1a3052" stroke="#0a1628" stroke-width="0.6"/>
<circle cx="63.80" cy="226.00" r="1.8" fill="#1a3052" stroke="#0a1628" stroke-width="0.6"/>
<circle cx="61.00" cy="228.50" r="1.8" fill="#1a3052" stroke="#0a1628" stroke-width="0.6"/>
<circle cx="63.50" cy="229.50" r="1.8" fill="#1a3052" stroke="#0a1628" stroke-width="0.6"/>
<circle cx="62.00" cy="231.50" r="1.8" fill="#1a3052" stroke="#0a1628" stroke-width="0.6"/>
<circle cx="63.00" cy="234.00" r="1.8" fill="#1a3052" stroke="#0a1628" stroke-width="0.6"/>
<circle cx="62.00" cy="236.00" r="1.8" fill="#1a3052" stroke="#0a1628" stroke-width="0.6"/>
<circle cx="74.20" cy="189.40" r="1.68" fill="#a8d89a" fill-opacity="0.35" stroke="#24702a" stroke-width="1.15"/>
<circle cx="74.20" cy="206.00" r="1.68" fill="#a8d89a" fill-opacity="0.35" stroke="#24702a" stroke-width="1.15"/>
<circle cx="71.80" cy="208.50" r="1.68" fill="#a8d89a" fill-opacity="0.35" stroke="#24702a" stroke-width="1.15"/>
<circle cx="75.90" cy="209.30" r="1.68" fill="#a8d89a" fill-opacity="0.35" stroke="#24702a" stroke-width="1.15"/>
<circle cx="72.90" cy="212.60" r="1.68" fill="#a8d89a" fill-opacity="0.35" stroke="#24702a" stroke-width="1.15"/>
<circle cx="74.20" cy="215.00" r="1.68" fill="#a8d89a" fill-opacity="0.35" stroke="#24702a" stroke-width="1.15"/>
<circle cx="72.30" cy="218.80" r="1.68" fill="#a8d89a" fill-opacity="0.35" stroke="#24702a" stroke-width="1.15"/>
<circle cx="76.70" cy="220.80" r="1.68" fill="#a8d89a" fill-opacity="0.35" stroke="#24702a" stroke-width="1.15"/>
<circle cx="74.20" cy="222.40" r="1.68" fill="#a8d89a" fill-opacity="0.35" stroke="#24702a" stroke-width="1.15"/>
<circle cx="74.60" cy="227.00" r="1.68" fill="#a8d89a" fill-opacity="0.35" stroke="#24702a" stroke-width="1.15"/>
<circle cx="87.00" cy="205.20" r="1.68" fill="#f8c880" fill-opacity="0.35" stroke="#8a5c18" stroke-width="1.15"/>
<circle cx="84.00" cy="212.60" r="1.68" fill="#f8c880" fill-opacity="0.35" stroke="#8a5c18" stroke-width="1.15"/>
<circle cx="89.80" cy="212.60" r="1.68" fill="#f8c880" fill-opacity="0.35" stroke="#8a5c18" stroke-width="1.15"/>
<circle cx="87.00" cy="215.00" r="1.68" fill="#f8c880" fill-opacity="0.35" stroke="#8a5c18" stroke-width="1.15"/>
<circle cx="84.00" cy="218.80" r="1.68" fill="#f8c880" fill-opacity="0.35" stroke="#8a5c18" stroke-width="1.15"/>
<circle cx="89.80" cy="218.80" r="1.68" fill="#f8c880" fill-opacity="0.35" stroke="#8a5c18" stroke-width="1.15"/>
<circle cx="87.00" cy="220.80" r="1.68" fill="#f8c880" fill-opacity="0.35" stroke="#8a5c18" stroke-width="1.15"/>
<circle cx="84.00" cy="224.00" r="1.68" fill="#f8c880" fill-opacity="0.35" stroke="#8a5c18" stroke-width="1.15"/>
<circle cx="89.80" cy="224.00" r="1.68" fill="#f8c880" fill-opacity="0.35" stroke="#8a5c18" stroke-width="1.15"/>
<circle cx="84.00" cy="228.10" r="1.68" fill="#f8c880" fill-opacity="0.35" stroke="#8a5c18" stroke-width="1.15"/>
<circle cx="89.80" cy="228.10" r="1.68" fill="#f8c880" fill-opacity="0.35" stroke="#8a5c18" stroke-width="1.15"/>
<circle cx="96.80" cy="212.60" r="1.68" fill="#cfc4ec" fill-opacity="0.35" stroke="#3f3272" stroke-width="1.15"/>
<circle cx="99.60" cy="213.90" r="1.68" fill="#cfc4ec" fill-opacity="0.35" stroke="#3f3272" stroke-width="1.15"/>
<circle cx="102.00" cy="215.00" r="1.68" fill="#cfc4ec" fill-opacity="0.35" stroke="#3f3272" stroke-width="1.15"/>
<circle cx="99.60" cy="218.30" r="1.68" fill="#cfc4ec" fill-opacity="0.35" stroke="#3f3272" stroke-width="1.15"/>
<circle cx="99.60" cy="222.40" r="1.68" fill="#cfc4ec" fill-opacity="0.35" stroke="#3f3272" stroke-width="1.15"/>
<circle cx="99.60" cy="227.00" r="1.68" fill="#cfc4ec" fill-opacity="0.35" stroke="#3f3272" stroke-width="1.15"/>
<circle cx="99.60" cy="230.20" r="1.68" fill="#cfc4ec" fill-opacity="0.35" stroke="#3f3272" stroke-width="1.15"/>
<circle cx="112.20" cy="207.70" r="1.68" fill="#a8d0f0" fill-opacity="0.35" stroke="#18506c" stroke-width="1.15"/>
<circle cx="112.20" cy="213.40" r="1.68" fill="#a8d0f0" fill-opacity="0.35" stroke="#18506c" stroke-width="1.15"/>
<circle cx="114.30" cy="218.30" r="1.68" fill="#a8d0f0" fill-opacity="0.35" stroke="#18506c" stroke-width="1.15"/>
<circle cx="109.90" cy="221.10" r="1.68" fill="#a8d0f0" fill-opacity="0.35" stroke="#18506c" stroke-width="1.15"/>
<circle cx="114.30" cy="223.20" r="1.68" fill="#a8d0f0" fill-opacity="0.35" stroke="#18506c" stroke-width="1.15"/>
<circle cx="109.90" cy="225.70" r="1.68" fill="#a8d0f0" fill-opacity="0.35" stroke="#18506c" stroke-width="1.15"/>
<circle cx="114.30" cy="227.30" r="1.68" fill="#a8d0f0" fill-opacity="0.35" stroke="#18506c" stroke-width="1.15"/>
<circle cx="112.20" cy="229.80" r="1.68" fill="#a8d0f0" fill-opacity="0.35" stroke="#18506c" stroke-width="1.15"/>
<circle cx="109.90" cy="230.20" r="1.68" fill="#a8d0f0" fill-opacity="0.35" stroke="#18506c" stroke-width="1.15"/>
<line x1="40.60" y1="244.50" x2="120.40" y2="244.50" stroke="#333" stroke-width="1.3"/>
<line x1="49.50" y1="244.50" x2="49.50" y2="247.10" stroke="#222" stroke-width="0.9"/>
<text x="0" y="0" font-size="6.2" text-anchor="end" fill="#222" transform="translate(49.70,253.10) rotate(-45)">&lt;32</text>
<line x1="62.00" y1="244.50" x2="62.00" y2="247.10" stroke="#222" stroke-width="0.9"/>
<text x="0" y="0" font-size="6.2" text-anchor="end" fill="#222" transform="translate(62.20,253.10) rotate(-45)">32-36</text>
<line x1="74.50" y1="244.50" x2="74.50" y2="247.10" stroke="#222" stroke-width="0.9"/>
<text x="0" y="0" font-size="6.2" text-anchor="end" fill="#222" transform="translate(74.70,253.10) rotate(-45)">I</text>
<line x1="87.00" y1="244.50" x2="87.00" y2="247.10" stroke="#222" stroke-width="0.9"/>
<text x="0" y="0" font-size="6.2" text-anchor="end" fill="#222" transform="translate(87.20,253.10) rotate(-45)">28d-2a</text>
<line x1="99.50" y1="244.50" x2="99.50" y2="247.10" stroke="#222" stroke-width="0.9"/>
<text x="0" y="0" font-size="6.2" text-anchor="end" fill="#222" transform="translate(99.70,253.10) rotate(-45)">2-13a</text>
<line x1="112.00" y1="244.50" x2="112.00" y2="247.10" stroke="#222" stroke-width="0.9"/>
<text x="0" y="0" font-size="6.2" text-anchor="end" fill="#222" transform="translate(112.20,253.10) rotate(-45)">&gt;13a</text>
<path d="M47.00,167.00 V165.00 H87.50 V167.00" fill="none" stroke="#505050" stroke-width="0.85"/>
<text x="67.25" y="165.60" font-size="5.6" text-anchor="middle" font-weight="normal" fill="#333" >*</text>
<path d="M47.00,174.00 V172.00 H74.25 V174.00" fill="none" stroke="#505050" stroke-width="0.85"/>
<text x="60.62" y="172.60" font-size="5.6" text-anchor="middle" font-weight="normal" fill="#333" >**</text>
<path d="M60.50,181.50 V179.50 H74.25 V181.50" fill="none" stroke="#505050" stroke-width="0.85"/>
<text x="67.38" y="180.10" font-size="5.6" text-anchor="middle" font-weight="normal" fill="#333" >*</text>
<text x="138.80" y="155.30" font-size="10.5" text-anchor="start" font-weight="bold" fill="#111"  style="stroke-width:0.04px">F</text>
<line x1="172.40" y1="163.50" x2="172.40" y2="245.60" stroke="#333" stroke-width="1.35"/>
<line x1="169.80" y1="245.00" x2="172.40" y2="245.00" stroke="#222" stroke-width="0.9"/>
<text x="166.40" y="246.80" font-size="6.2" text-anchor="end" font-weight="normal" fill="#222" >0</text>
<line x1="169.80" y1="225.12" x2="172.40" y2="225.12" stroke="#222" stroke-width="0.9"/>
<text x="166.40" y="226.93" font-size="6.2" text-anchor="end" font-weight="normal" fill="#222" >500</text>
<line x1="169.80" y1="205.25" x2="172.40" y2="205.25" stroke="#222" stroke-width="0.9"/>
<text x="166.40" y="207.05" font-size="6.2" text-anchor="end" font-weight="normal" fill="#222" >1000</text>
<line x1="169.80" y1="185.38" x2="172.40" y2="185.38" stroke="#222" stroke-width="0.9"/>
<text x="166.40" y="187.18" font-size="6.2" text-anchor="end" font-weight="normal" fill="#222" >1500</text>
<line x1="169.80" y1="165.50" x2="172.40" y2="165.50" stroke="#222" stroke-width="0.9"/>
<text x="166.40" y="167.30" font-size="6.2" text-anchor="end" font-weight="normal" fill="#222" >2000</text>
<text x="0" y="0" font-size="6.6" text-anchor="middle" fill="#222" textLength="34.3" lengthAdjust="spacingAndGlyphs" style="stroke-width:0.42px" transform="translate(147.40,204.20) rotate(-90)">GeoMFI CD62P</text>
<line x1="171.80" y1="245.00" x2="251.80" y2="245.00" stroke="#333" stroke-width="1.3"/>
<line x1="172.40" y1="245.00" x2="172.40" y2="247.60" stroke="#222" stroke-width="0.9"/>
<text x="172.40" y="255.60" font-size="6.2" text-anchor="middle" font-weight="normal" fill="#222" >22</text>
<line x1="189.40" y1="245.00" x2="189.40" y2="247.60" stroke="#222" stroke-width="0.9"/>
<text x="189.40" y="255.60" font-size="6.2" text-anchor="middle" font-weight="normal" fill="#222" >27</text>
<line x1="206.80" y1="245.00" x2="206.80" y2="247.60" stroke="#222" stroke-width="0.9"/>
<text x="206.80" y="255.60" font-size="6.2" text-anchor="middle" font-weight="normal" fill="#222" >32</text>
<line x1="223.80" y1="245.00" x2="223.80" y2="247.60" stroke="#222" stroke-width="0.9"/>
<text x="223.80" y="255.60" font-size="6.2" text-anchor="middle" font-weight="normal" fill="#222" >37</text>
<line x1="241.20" y1="245.00" x2="241.20" y2="247.60" stroke="#222" stroke-width="0.9"/>
<text x="241.20" y="255.60" font-size="6.2" text-anchor="middle" font-weight="normal" fill="#222" >42</text>
<text x="212.00" y="266.60" font-size="7.0" text-anchor="middle" font-weight="normal" fill="#222" textLength="35.5" lengthAdjust="spacingAndGlyphs" style="stroke-width:0.25px">Gestational age</text>
<line x1="189.70" y1="231.90" x2="238.00" y2="206.30" stroke="#111" stroke-width="1.0"/>
<circle cx="227.70" cy="175.20" r="1.75" fill="#4a1a5c"/>
<circle cx="230.90" cy="196.60" r="1.75" fill="#4a1a5c"/>
<circle cx="234.80" cy="201.30" r="1.75" fill="#4a1a5c"/>
<circle cx="238.00" cy="200.30" r="1.75" fill="#4a1a5c"/>
<circle cx="238.00" cy="203.70" r="1.75" fill="#4a1a5c"/>
<circle cx="210.20" cy="205.50" r="1.75" fill="#4a1a5c"/>
<circle cx="213.70" cy="202.70" r="1.75" fill="#4a1a5c"/>
<circle cx="213.70" cy="207.40" r="1.75" fill="#4a1a5c"/>
<circle cx="206.70" cy="210.80" r="1.75" fill="#4a1a5c"/>
<circle cx="203.50" cy="215.90" r="1.75" fill="#4a1a5c"/>
<circle cx="206.70" cy="215.10" r="1.75" fill="#4a1a5c"/>
<circle cx="206.70" cy="216.90" r="1.75" fill="#4a1a5c"/>
<circle cx="210.20" cy="215.90" r="1.75" fill="#4a1a5c"/>
<circle cx="210.20" cy="217.90" r="1.75" fill="#4a1a5c"/>
<circle cx="217.30" cy="216.90" r="1.75" fill="#4a1a5c"/>
<circle cx="227.70" cy="215.10" r="1.75" fill="#4a1a5c"/>
<circle cx="230.90" cy="213.40" r="1.75" fill="#4a1a5c"/>
<circle cx="230.90" cy="216.90" r="1.75" fill="#4a1a5c"/>
<circle cx="238.00" cy="214.50" r="1.75" fill="#4a1a5c"/>
<circle cx="203.50" cy="222.60" r="1.75" fill="#4a1a5c"/>
<circle cx="206.70" cy="222.60" r="1.75" fill="#4a1a5c"/>
<circle cx="210.20" cy="220.20" r="1.75" fill="#4a1a5c"/>
<circle cx="213.70" cy="219.80" r="1.75" fill="#4a1a5c"/>
<circle cx="213.70" cy="221.90" r="1.75" fill="#4a1a5c"/>
<circle cx="213.70" cy="224.00" r="1.75" fill="#4a1a5c"/>
<circle cx="213.70" cy="226.20" r="1.75" fill="#4a1a5c"/>
<circle cx="213.70" cy="228.30" r="1.75" fill="#4a1a5c"/>
<circle cx="213.70" cy="230.40" r="1.75" fill="#4a1a5c"/>
<circle cx="213.70" cy="232.10" r="1.75" fill="#4a1a5c"/>
<circle cx="217.30" cy="222.60" r="1.75" fill="#4a1a5c"/>
<circle cx="230.90" cy="222.20" r="1.75" fill="#4a1a5c"/>
<circle cx="206.70" cy="227.30" r="1.75" fill="#4a1a5c"/>
<circle cx="210.20" cy="226.50" r="1.75" fill="#4a1a5c"/>
<circle cx="203.50" cy="231.10" r="1.75" fill="#4a1a5c"/>
<circle cx="210.20" cy="233.60" r="1.75" fill="#4a1a5c"/>
<circle cx="203.50" cy="236.40" r="1.75" fill="#4a1a5c"/>
<circle cx="189.70" cy="228.70" r="1.75" fill="#4a1a5c"/>
<circle cx="189.70" cy="232.60" r="1.75" fill="#4a1a5c"/>
<circle cx="224.10" cy="229.30" r="1.75" fill="#4a1a5c"/>
<text x="270.80" y="155.30" font-size="10.5" text-anchor="start" font-weight="bold" fill="#111"  style="stroke-width:0.04px">G</text>
<line x1="304.60" y1="163.50" x2="304.60" y2="245.40" stroke="#333" stroke-width="1.35"/>
<line x1="302.00" y1="244.80" x2="304.60" y2="244.80" stroke="#222" stroke-width="0.9"/>
<text x="298.60" y="246.60" font-size="6.2" text-anchor="end" font-weight="normal" fill="#222" >0</text>
<line x1="302.00" y1="224.98" x2="304.60" y2="224.98" stroke="#222" stroke-width="0.9"/>
<text x="298.60" y="226.78" font-size="6.2" text-anchor="end" font-weight="normal" fill="#222" >200</text>
<line x1="302.00" y1="205.15" x2="304.60" y2="205.15" stroke="#222" stroke-width="0.9"/>
<text x="298.60" y="206.95" font-size="6.2" text-anchor="end" font-weight="normal" fill="#222" >400</text>
<line x1="302.00" y1="185.32" x2="304.60" y2="185.32" stroke="#222" stroke-width="0.9"/>
<text x="298.60" y="187.12" font-size="6.2" text-anchor="end" font-weight="normal" fill="#222" >600</text>
<line x1="302.00" y1="165.50" x2="304.60" y2="165.50" stroke="#222" stroke-width="0.9"/>
<text x="298.60" y="167.30" font-size="6.2" text-anchor="end" font-weight="normal" fill="#222" >800</text>
<text x="0" y="0" font-size="6.6" text-anchor="middle" fill="#222" textLength="32.3" lengthAdjust="spacingAndGlyphs" style="stroke-width:0.42px" transform="translate(280.20,204.20) rotate(-90)">GeoMFI CD63</text>
<rect x="308.70" y="225.40" width="8.6" height="19.40" fill="#ec9187"/>
<rect x="321.30" y="215.00" width="8.6" height="29.80" fill="#9eaad6"/>
<rect x="333.90" y="209.30" width="8.6" height="35.50" fill="#bce3b0"/>
<rect x="346.30" y="210.00" width="8.6" height="34.80" fill="#fcd49c"/>
<rect x="358.80" y="197.70" width="8.6" height="47.10" fill="#d5ccee"/>
<rect x="371.30" y="204.60" width="8.6" height="40.20" fill="#b3d6f2"/>
<line x1="313.50" y1="194.50" x2="313.50" y2="231.50" stroke="#4a1018" stroke-width="1.0"/>
<line x1="311.00" y1="194.50" x2="316.00" y2="194.50" stroke="#4a1018" stroke-width="1.0"/>
<line x1="311.00" y1="231.50" x2="316.00" y2="231.50" stroke="#4a1018" stroke-width="1.0"/>
<line x1="338.50" y1="190.50" x2="338.50" y2="221.50" stroke="#1e3a1e" stroke-width="1.0"/>
<line x1="336.00" y1="190.50" x2="341.00" y2="190.50" stroke="#1e3a1e" stroke-width="1.0"/>
<line x1="336.00" y1="221.50" x2="341.00" y2="221.50" stroke="#1e3a1e" stroke-width="1.0"/>
<line x1="350.50" y1="196.50" x2="350.50" y2="225.50" stroke="#4a3418" stroke-width="1.0"/>
<line x1="348.00" y1="196.50" x2="353.00" y2="196.50" stroke="#4a3418" stroke-width="1.0"/>
<line x1="348.00" y1="225.50" x2="353.00" y2="225.50" stroke="#4a3418" stroke-width="1.0"/>
<line x1="363.50" y1="185.50" x2="363.50" y2="207.50" stroke="#2a2248" stroke-width="1.0"/>
<line x1="361.00" y1="185.50" x2="366.00" y2="185.50" stroke="#2a2248" stroke-width="1.0"/>
<line x1="361.00" y1="207.50" x2="366.00" y2="207.50" stroke="#2a2248" stroke-width="1.0"/>
<line x1="375.50" y1="190.50" x2="375.50" y2="215.50" stroke="#1a2e3c" stroke-width="1.0"/>
<line x1="373.00" y1="190.50" x2="378.00" y2="190.50" stroke="#1a2e3c" stroke-width="1.0"/>
<line x1="373.00" y1="215.50" x2="378.00" y2="215.50" stroke="#1a2e3c" stroke-width="1.0"/>
<circle cx="313.00" cy="194.60" r="1.8" fill="#7c1529" stroke="#480a16" stroke-width="0.6"/>
<circle cx="313.00" cy="212.80" r="1.8" fill="#7c1529" stroke="#480a16" stroke-width="0.6"/>
<circle cx="310.40" cy="224.40" r="1.8" fill="#7c1529" stroke="#480a16" stroke-width="0.6"/>
<circle cx="315.60" cy="224.40" r="1.8" fill="#7c1529" stroke="#480a16" stroke-width="0.6"/>
<circle cx="313.00" cy="226.60" r="1.8" fill="#7c1529" stroke="#480a16" stroke-width="0.6"/>
<circle cx="313.00" cy="228.30" r="1.8" fill="#7c1529" stroke="#480a16" stroke-width="0.6"/>
<circle cx="311.00" cy="230.00" r="1.8" fill="#7c1529" stroke="#480a16" stroke-width="0.6"/>
<circle cx="315.00" cy="230.00" r="1.8" fill="#7c1529" stroke="#480a16" stroke-width="0.6"/>
<circle cx="313.00" cy="231.00" r="1.8" fill="#7c1529" stroke="#480a16" stroke-width="0.6"/>
<circle cx="324.70" cy="178.20" r="1.8" fill="#1a3052" stroke="#0a1628" stroke-width="0.6"/>
<circle cx="326.00" cy="179.90" r="1.8" fill="#1a3052" stroke="#0a1628" stroke-width="0.6"/>
<circle cx="324.20" cy="189.40" r="1.8" fill="#1a3052" stroke="#0a1628" stroke-width="0.6"/>
<circle cx="325.60" cy="192.00" r="1.8" fill="#1a3052" stroke="#0a1628" stroke-width="0.6"/>
<circle cx="325.60" cy="195.50" r="1.8" fill="#1a3052" stroke="#0a1628" stroke-width="0.6"/>
<circle cx="325.60" cy="198.90" r="1.8" fill="#1a3052" stroke="#0a1628" stroke-width="0.6"/>
<circle cx="324.20" cy="205.30" r="1.8" fill="#1a3052" stroke="#0a1628" stroke-width="0.6"/>
<circle cx="326.80" cy="208.00" r="1.8" fill="#1a3052" stroke="#0a1628" stroke-width="0.6"/>
<circle cx="327.60" cy="209.30" r="1.8" fill="#1a3052" stroke="#0a1628" stroke-width="0.6"/>
<circle cx="322.50" cy="210.20" r="1.8" fill="#1a3052" stroke="#0a1628" stroke-width="0.6"/>
<circle cx="325.60" cy="211.00" r="1.8" fill="#1a3052" stroke="#0a1628" stroke-width="0.6"/>
<circle cx="323.40" cy="213.60" r="1.8" fill="#1a3052" stroke="#0a1628" stroke-width="0.6"/>
<circle cx="327.60" cy="213.60" r="1.8" fill="#1a3052" stroke="#0a1628" stroke-width="0.6"/>
<circle cx="325.60" cy="215.40" r="1.8" fill="#1a3052" stroke="#0a1628" stroke-width="0.6"/>
<circle cx="323.40" cy="217.10" r="1.8" fill="#1a3052" stroke="#0a1628" stroke-width="0.6"/>
<circle cx="327.60" cy="218.00" r="1.8" fill="#1a3052" stroke="#0a1628" stroke-width="0.6"/>
<circle cx="325.60" cy="219.70" r="1.8" fill="#1a3052" stroke="#0a1628" stroke-width="0.6"/>
<circle cx="323.40" cy="221.40" r="1.8" fill="#1a3052" stroke="#0a1628" stroke-width="0.6"/>
<circle cx="327.60" cy="221.40" r="1.8" fill="#1a3052" stroke="#0a1628" stroke-width="0.6"/>
<circle cx="325.60" cy="223.20" r="1.8" fill="#1a3052" stroke="#0a1628" stroke-width="0.6"/>
<circle cx="324.20" cy="225.70" r="1.8" fill="#1a3052" stroke="#0a1628" stroke-width="0.6"/>
<circle cx="326.80" cy="227.50" r="1.8" fill="#1a3052" stroke="#0a1628" stroke-width="0.6"/>
<circle cx="325.60" cy="229.20" r="1.8" fill="#1a3052" stroke="#0a1628" stroke-width="0.6"/>
<circle cx="324.20" cy="230.60" r="1.8" fill="#1a3052" stroke="#0a1628" stroke-width="0.6"/>
<circle cx="326.80" cy="230.60" r="1.8" fill="#1a3052" stroke="#0a1628" stroke-width="0.6"/>
<circle cx="335.50" cy="190.30" r="1.68" fill="#a8d89a" fill-opacity="0.35" stroke="#24702a" stroke-width="1.15"/>
<circle cx="339.40" cy="192.50" r="1.68" fill="#a8d89a" fill-opacity="0.35" stroke="#24702a" stroke-width="1.15"/>
<circle cx="341.20" cy="192.50" r="1.68" fill="#a8d89a" fill-opacity="0.35" stroke="#24702a" stroke-width="1.15"/>
<circle cx="337.70" cy="200.10" r="1.68" fill="#a8d89a" fill-opacity="0.35" stroke="#24702a" stroke-width="1.15"/>
<circle cx="337.70" cy="206.70" r="1.68" fill="#a8d89a" fill-opacity="0.35" stroke="#24702a" stroke-width="1.15"/>
<circle cx="335.50" cy="210.50" r="1.68" fill="#a8d89a" fill-opacity="0.35" stroke="#24702a" stroke-width="1.15"/>
<circle cx="339.80" cy="210.50" r="1.68" fill="#a8d89a" fill-opacity="0.35" stroke="#24702a" stroke-width="1.15"/>
<circle cx="337.70" cy="212.80" r="1.68" fill="#a8d89a" fill-opacity="0.35" stroke="#24702a" stroke-width="1.15"/>
<circle cx="340.70" cy="213.60" r="1.68" fill="#a8d89a" fill-opacity="0.35" stroke="#24702a" stroke-width="1.15"/>
<circle cx="338.10" cy="221.40" r="1.68" fill="#a8d89a" fill-opacity="0.35" stroke="#24702a" stroke-width="1.15"/>
<circle cx="347.60" cy="196.30" r="1.68" fill="#f8c880" fill-opacity="0.35" stroke="#8a5c18" stroke-width="1.15"/>
<circle cx="352.80" cy="197.20" r="1.68" fill="#f8c880" fill-opacity="0.35" stroke="#8a5c18" stroke-width="1.15"/>
<circle cx="348.40" cy="208.80" r="1.68" fill="#f8c880" fill-opacity="0.35" stroke="#8a5c18" stroke-width="1.15"/>
<circle cx="352.80" cy="206.40" r="1.68" fill="#f8c880" fill-opacity="0.35" stroke="#8a5c18" stroke-width="1.15"/>
<circle cx="348.10" cy="211.60" r="1.68" fill="#f8c880" fill-opacity="0.35" stroke="#8a5c18" stroke-width="1.15"/>
<circle cx="352.80" cy="211.90" r="1.68" fill="#f8c880" fill-opacity="0.35" stroke="#8a5c18" stroke-width="1.15"/>
<circle cx="348.10" cy="225.40" r="1.68" fill="#f8c880" fill-opacity="0.35" stroke="#8a5c18" stroke-width="1.15"/>
<circle cx="352.80" cy="225.40" r="1.68" fill="#f8c880" fill-opacity="0.35" stroke="#8a5c18" stroke-width="1.15"/>
<circle cx="360.20" cy="185.60" r="1.68" fill="#cfc4ec" fill-opacity="0.35" stroke="#3f3272" stroke-width="1.15"/>
<circle cx="364.90" cy="186.80" r="1.68" fill="#cfc4ec" fill-opacity="0.35" stroke="#3f3272" stroke-width="1.15"/>
<circle cx="366.60" cy="187.70" r="1.68" fill="#cfc4ec" fill-opacity="0.35" stroke="#3f3272" stroke-width="1.15"/>
<circle cx="363.10" cy="197.70" r="1.68" fill="#cfc4ec" fill-opacity="0.35" stroke="#3f3272" stroke-width="1.15"/>
<circle cx="363.10" cy="201.50" r="1.68" fill="#cfc4ec" fill-opacity="0.35" stroke="#3f3272" stroke-width="1.15"/>
<circle cx="363.10" cy="207.60" r="1.68" fill="#cfc4ec" fill-opacity="0.35" stroke="#3f3272" stroke-width="1.15"/>
<circle cx="375.80" cy="171.80" r="1.68" fill="#a8d0f0" fill-opacity="0.35" stroke="#18506c" stroke-width="1.15"/>
<circle cx="373.00" cy="192.50" r="1.68" fill="#a8d0f0" fill-opacity="0.35" stroke="#18506c" stroke-width="1.15"/>
<circle cx="378.20" cy="189.80" r="1.68" fill="#a8d0f0" fill-opacity="0.35" stroke="#18506c" stroke-width="1.15"/>
<circle cx="378.20" cy="194.60" r="1.68" fill="#a8d0f0" fill-opacity="0.35" stroke="#18506c" stroke-width="1.15"/>
<circle cx="375.80" cy="205.30" r="1.68" fill="#a8d0f0" fill-opacity="0.35" stroke="#18506c" stroke-width="1.15"/>
<circle cx="373.00" cy="208.10" r="1.68" fill="#a8d0f0" fill-opacity="0.35" stroke="#18506c" stroke-width="1.15"/>
<circle cx="375.80" cy="208.40" r="1.68" fill="#a8d0f0" fill-opacity="0.35" stroke="#18506c" stroke-width="1.15"/>
<circle cx="373.50" cy="212.80" r="1.68" fill="#a8d0f0" fill-opacity="0.35" stroke="#18506c" stroke-width="1.15"/>
<circle cx="377.80" cy="214.50" r="1.68" fill="#a8d0f0" fill-opacity="0.35" stroke="#18506c" stroke-width="1.15"/>
<circle cx="375.80" cy="220.90" r="1.68" fill="#a8d0f0" fill-opacity="0.35" stroke="#18506c" stroke-width="1.15"/>
<line x1="304.00" y1="244.80" x2="383.80" y2="244.80" stroke="#333" stroke-width="1.3"/>
<line x1="313.00" y1="244.80" x2="313.00" y2="247.40" stroke="#222" stroke-width="0.9"/>
<text x="0" y="0" font-size="6.2" text-anchor="end" fill="#222" transform="translate(313.20,253.40) rotate(-45)">&lt;32</text>
<line x1="325.60" y1="244.80" x2="325.60" y2="247.40" stroke="#222" stroke-width="0.9"/>
<text x="0" y="0" font-size="6.2" text-anchor="end" fill="#222" transform="translate(325.80,253.40) rotate(-45)">32-36</text>
<line x1="338.20" y1="244.80" x2="338.20" y2="247.40" stroke="#222" stroke-width="0.9"/>
<text x="0" y="0" font-size="6.2" text-anchor="end" fill="#222" transform="translate(338.40,253.40) rotate(-45)">I</text>
<line x1="350.60" y1="244.80" x2="350.60" y2="247.40" stroke="#222" stroke-width="0.9"/>
<text x="0" y="0" font-size="6.2" text-anchor="end" fill="#222" transform="translate(350.80,253.40) rotate(-45)">28d-2a</text>
<line x1="363.10" y1="244.80" x2="363.10" y2="247.40" stroke="#222" stroke-width="0.9"/>
<text x="0" y="0" font-size="6.2" text-anchor="end" fill="#222" transform="translate(363.30,253.40) rotate(-45)">2-13a</text>
<line x1="375.60" y1="244.80" x2="375.60" y2="247.40" stroke="#222" stroke-width="0.9"/>
<text x="0" y="0" font-size="6.2" text-anchor="end" fill="#222" transform="translate(375.80,253.40) rotate(-45)">&gt;13a</text>
<path d="M313.25,168.25 V166.25 H363.75 V168.25" fill="none" stroke="#505050" stroke-width="0.85"/>
<text x="338.50" y="166.85" font-size="5.6" text-anchor="middle" font-weight="normal" fill="#333" >*</text>
<text x="399.80" y="155.30" font-size="10.5" text-anchor="start" font-weight="bold" fill="#111"  style="stroke-width:0.04px">H</text>
<line x1="433.70" y1="163.50" x2="433.70" y2="245.20" stroke="#333" stroke-width="1.35"/>
<line x1="431.10" y1="244.60" x2="433.70" y2="244.60" stroke="#222" stroke-width="0.9"/>
<text x="427.70" y="246.40" font-size="6.2" text-anchor="end" font-weight="normal" fill="#222" >0</text>
<line x1="431.10" y1="224.82" x2="433.70" y2="224.82" stroke="#222" stroke-width="0.9"/>
<text x="427.70" y="226.62" font-size="6.2" text-anchor="end" font-weight="normal" fill="#222" >2000</text>
<line x1="431.10" y1="205.05" x2="433.70" y2="205.05" stroke="#222" stroke-width="0.9"/>
<text x="427.70" y="206.85" font-size="6.2" text-anchor="end" font-weight="normal" fill="#222" >4000</text>
<line x1="431.10" y1="185.28" x2="433.70" y2="185.28" stroke="#222" stroke-width="0.9"/>
<text x="427.70" y="187.08" font-size="6.2" text-anchor="end" font-weight="normal" fill="#222" >6000</text>
<line x1="431.10" y1="165.50" x2="433.70" y2="165.50" stroke="#222" stroke-width="0.9"/>
<text x="427.70" y="167.30" font-size="6.2" text-anchor="end" font-weight="normal" fill="#222" >8000</text>
<text x="0" y="0" font-size="6.6" text-anchor="middle" fill="#222" textLength="33.3" lengthAdjust="spacingAndGlyphs" style="stroke-width:0.42px" transform="translate(408.60,204.00) rotate(-90)">GeoMFI PAC-1</text>
<rect x="437.90" y="240.60" width="8.6" height="4.00" fill="#ec9187"/>
<rect x="450.30" y="236.20" width="8.6" height="8.40" fill="#9eaad6"/>
<rect x="462.90" y="238.00" width="8.6" height="6.60" fill="#bce3b0"/>
<rect x="475.30" y="235.40" width="8.6" height="9.20" fill="#fcd49c"/>
<rect x="487.90" y="229.80" width="8.6" height="14.80" fill="#d5ccee"/>
<rect x="500.50" y="211.50" width="8.6" height="33.10" fill="#b3d6f2"/>
<line x1="442.50" y1="233.50" x2="442.50" y2="244.50" stroke="#4a1018" stroke-width="1.0"/>
<line x1="440.00" y1="233.50" x2="445.00" y2="233.50" stroke="#4a1018" stroke-width="1.0"/>
<line x1="440.00" y1="244.50" x2="445.00" y2="244.50" stroke="#4a1018" stroke-width="1.0"/>
<line x1="467.50" y1="230.50" x2="467.50" y2="242.50" stroke="#1e3a1e" stroke-width="1.0"/>
<line x1="465.00" y1="230.50" x2="470.00" y2="230.50" stroke="#1e3a1e" stroke-width="1.0"/>
<line x1="465.00" y1="242.50" x2="470.00" y2="242.50" stroke="#1e3a1e" stroke-width="1.0"/>
<line x1="479.50" y1="228.50" x2="479.50" y2="243.50" stroke="#4a3418" stroke-width="1.0"/>
<line x1="477.00" y1="228.50" x2="482.00" y2="228.50" stroke="#4a3418" stroke-width="1.0"/>
<line x1="477.00" y1="243.50" x2="482.00" y2="243.50" stroke="#4a3418" stroke-width="1.0"/>
<line x1="492.50" y1="217.50" x2="492.50" y2="236.50" stroke="#2a2248" stroke-width="1.0"/>
<line x1="490.00" y1="217.50" x2="495.00" y2="217.50" stroke="#2a2248" stroke-width="1.0"/>
<line x1="490.00" y1="236.50" x2="495.00" y2="236.50" stroke="#2a2248" stroke-width="1.0"/>
<line x1="504.50" y1="188.50" x2="504.50" y2="231.50" stroke="#1a2e3c" stroke-width="1.0"/>
<line x1="502.00" y1="188.50" x2="507.00" y2="188.50" stroke="#1a2e3c" stroke-width="1.0"/>
<line x1="502.00" y1="231.50" x2="507.00" y2="231.50" stroke="#1a2e3c" stroke-width="1.0"/>
<circle cx="441.80" cy="233.30" r="1.8" fill="#7c1529" stroke="#480a16" stroke-width="0.6"/>
<circle cx="440.40" cy="240.60" r="1.8" fill="#7c1529" stroke="#480a16" stroke-width="0.6"/>
<circle cx="443.50" cy="240.60" r="1.8" fill="#7c1529" stroke="#480a16" stroke-width="0.6"/>
<circle cx="438.70" cy="242.30" r="1.8" fill="#7c1529" stroke="#480a16" stroke-width="0.6"/>
<circle cx="445.20" cy="242.30" r="1.8" fill="#7c1529" stroke="#480a16" stroke-width="0.6"/>
<circle cx="441.80" cy="243.70" r="1.8" fill="#7c1529" stroke="#480a16" stroke-width="0.6"/>
<circle cx="454.60" cy="213.70" r="1.8" fill="#1a3052" stroke="#0a1628" stroke-width="0.6"/>
<circle cx="455.10" cy="228.40" r="1.8" fill="#1a3052" stroke="#0a1628" stroke-width="0.6"/>
<circle cx="455.10" cy="230.20" r="1.8" fill="#1a3052" stroke="#0a1628" stroke-width="0.6"/>
<circle cx="454.20" cy="231.90" r="1.8" fill="#1a3052" stroke="#0a1628" stroke-width="0.6"/>
<circle cx="455.10" cy="233.60" r="1.8" fill="#1a3052" stroke="#0a1628" stroke-width="0.6"/>
<circle cx="452.50" cy="236.20" r="1.8" fill="#1a3052" stroke="#0a1628" stroke-width="0.6"/>
<circle cx="456.80" cy="236.20" r="1.8" fill="#1a3052" stroke="#0a1628" stroke-width="0.6"/>
<circle cx="454.20" cy="238.00" r="1.8" fill="#1a3052" stroke="#0a1628" stroke-width="0.6"/>
<circle cx="455.90" cy="239.70" r="1.8" fill="#1a3052" stroke="#0a1628" stroke-width="0.6"/>
<circle cx="452.50" cy="241.40" r="1.8" fill="#1a3052" stroke="#0a1628" stroke-width="0.6"/>
<circle cx="456.80" cy="241.90" r="1.8" fill="#1a3052" stroke="#0a1628" stroke-width="0.6"/>
<circle cx="454.60" cy="243.10" r="1.8" fill="#1a3052" stroke="#0a1628" stroke-width="0.6"/>
<circle cx="465.50" cy="230.20" r="1.68" fill="#a8d89a" fill-opacity="0.35" stroke="#24702a" stroke-width="1.15"/>
<circle cx="468.90" cy="230.50" r="1.68" fill="#a8d89a" fill-opacity="0.35" stroke="#24702a" stroke-width="1.15"/>
<circle cx="466.30" cy="232.80" r="1.68" fill="#a8d89a" fill-opacity="0.35" stroke="#24702a" stroke-width="1.15"/>
<circle cx="468.40" cy="235.40" r="1.68" fill="#a8d89a" fill-opacity="0.35" stroke="#24702a" stroke-width="1.15"/>
<circle cx="464.90" cy="238.00" r="1.68" fill="#a8d89a" fill-opacity="0.35" stroke="#24702a" stroke-width="1.15"/>
<circle cx="469.80" cy="240.60" r="1.68" fill="#a8d89a" fill-opacity="0.35" stroke="#24702a" stroke-width="1.15"/>
<circle cx="466.70" cy="239.20" r="1.68" fill="#a8d89a" fill-opacity="0.35" stroke="#24702a" stroke-width="1.15"/>
<circle cx="478.40" cy="229.30" r="1.68" fill="#f8c880" fill-opacity="0.35" stroke="#8a5c18" stroke-width="1.15"/>
<circle cx="481.00" cy="228.10" r="1.68" fill="#f8c880" fill-opacity="0.35" stroke="#8a5c18" stroke-width="1.15"/>
<circle cx="476.70" cy="231.00" r="1.68" fill="#f8c880" fill-opacity="0.35" stroke="#8a5c18" stroke-width="1.15"/>
<circle cx="481.90" cy="231.90" r="1.68" fill="#f8c880" fill-opacity="0.35" stroke="#8a5c18" stroke-width="1.15"/>
<circle cx="479.30" cy="233.60" r="1.68" fill="#f8c880" fill-opacity="0.35" stroke="#8a5c18" stroke-width="1.15"/>
<circle cx="477.60" cy="235.70" r="1.68" fill="#f8c880" fill-opacity="0.35" stroke="#8a5c18" stroke-width="1.15"/>
<circle cx="481.60" cy="236.20" r="1.68" fill="#f8c880" fill-opacity="0.35" stroke="#8a5c18" stroke-width="1.15"/>
<circle cx="479.30" cy="238.80" r="1.68" fill="#f8c880" fill-opacity="0.35" stroke="#8a5c18" stroke-width="1.15"/>
<circle cx="480.20" cy="241.40" r="1.68" fill="#f8c880" fill-opacity="0.35" stroke="#8a5c18" stroke-width="1.15"/>
<circle cx="492.00" cy="218.00" r="1.68" fill="#cfc4ec" fill-opacity="0.35" stroke="#3f3272" stroke-width="1.15"/>
<circle cx="489.70" cy="225.30" r="1.68" fill="#cfc4ec" fill-opacity="0.35" stroke="#3f3272" stroke-width="1.15"/>
<circle cx="494.40" cy="226.40" r="1.68" fill="#cfc4ec" fill-opacity="0.35" stroke="#3f3272" stroke-width="1.15"/>
<circle cx="490.50" cy="228.80" r="1.68" fill="#cfc4ec" fill-opacity="0.35" stroke="#3f3272" stroke-width="1.15"/>
<circle cx="493.50" cy="228.80" r="1.68" fill="#cfc4ec" fill-opacity="0.35" stroke="#3f3272" stroke-width="1.15"/>
<circle cx="492.00" cy="236.20" r="1.68" fill="#cfc4ec" fill-opacity="0.35" stroke="#3f3272" stroke-width="1.15"/>
<circle cx="504.70" cy="188.70" r="1.68" fill="#a8d0f0" fill-opacity="0.35" stroke="#18506c" stroke-width="1.15"/>
<circle cx="504.70" cy="204.20" r="1.68" fill="#a8d0f0" fill-opacity="0.35" stroke="#18506c" stroke-width="1.15"/>
<circle cx="501.80" cy="211.10" r="1.68" fill="#a8d0f0" fill-opacity="0.35" stroke="#18506c" stroke-width="1.15"/>
<circle cx="504.70" cy="211.10" r="1.68" fill="#a8d0f0" fill-opacity="0.35" stroke="#18506c" stroke-width="1.15"/>
<circle cx="507.50" cy="211.10" r="1.68" fill="#a8d0f0" fill-opacity="0.35" stroke="#18506c" stroke-width="1.15"/>
<circle cx="504.70" cy="221.50" r="1.68" fill="#a8d0f0" fill-opacity="0.35" stroke="#18506c" stroke-width="1.15"/>
<circle cx="504.70" cy="231.00" r="1.68" fill="#a8d0f0" fill-opacity="0.35" stroke="#18506c" stroke-width="1.15"/>
<line x1="433.00" y1="244.60" x2="512.50" y2="244.60" stroke="#333" stroke-width="1.3"/>
<line x1="442.20" y1="244.60" x2="442.20" y2="247.20" stroke="#222" stroke-width="0.9"/>
<text x="0" y="0" font-size="6.2" text-anchor="end" fill="#222" transform="translate(442.40,253.20) rotate(-45)">&lt;32</text>
<line x1="454.60" y1="244.60" x2="454.60" y2="247.20" stroke="#222" stroke-width="0.9"/>
<text x="0" y="0" font-size="6.2" text-anchor="end" fill="#222" transform="translate(454.80,253.20) rotate(-45)">32-36</text>
<line x1="467.20" y1="244.60" x2="467.20" y2="247.20" stroke="#222" stroke-width="0.9"/>
<text x="0" y="0" font-size="6.2" text-anchor="end" fill="#222" transform="translate(467.40,253.20) rotate(-45)">I</text>
<line x1="479.60" y1="244.60" x2="479.60" y2="247.20" stroke="#222" stroke-width="0.9"/>
<text x="0" y="0" font-size="6.2" text-anchor="end" fill="#222" transform="translate(479.80,253.20) rotate(-45)">28d-2a</text>
<line x1="492.20" y1="244.60" x2="492.20" y2="247.20" stroke="#222" stroke-width="0.9"/>
<text x="0" y="0" font-size="6.2" text-anchor="end" fill="#222" transform="translate(492.40,253.20) rotate(-45)">2-13a</text>
<line x1="504.80" y1="244.60" x2="504.80" y2="247.20" stroke="#222" stroke-width="0.9"/>
<text x="0" y="0" font-size="6.2" text-anchor="end" fill="#222" transform="translate(505.00,253.20) rotate(-45)">&gt;13a</text>
<path d="M442.50,154.50 V152.50 H504.50 V154.50" fill="none" stroke="#505050" stroke-width="0.85"/>
<text x="473.50" y="153.10" font-size="5.6" text-anchor="middle" font-weight="normal" fill="#333" >***</text>
<path d="M442.50,161.50 V159.50 H492.50 V161.50" fill="none" stroke="#505050" stroke-width="0.85"/>
<text x="467.50" y="160.10" font-size="5.6" text-anchor="middle" font-weight="normal" fill="#333" >*</text>
<path d="M454.50,168.75 V166.75 H504.50 V168.75" fill="none" stroke="#505050" stroke-width="0.85"/>
<text x="479.50" y="167.35" font-size="5.6" text-anchor="middle" font-weight="normal" fill="#333" >****</text>
<path d="M454.50,176.25 V174.25 H492.50 V176.25" fill="none" stroke="#505050" stroke-width="0.85"/>
<text x="473.50" y="174.85" font-size="5.6" text-anchor="middle" font-weight="normal" fill="#333" >*</text>
<path d="M467.00,183.75 V181.75 H504.50 V183.75" fill="none" stroke="#505050" stroke-width="0.85"/>
<text x="485.75" y="182.35" font-size="5.6" text-anchor="middle" font-weight="normal" fill="#333" >*</text>
<text x="10.20" y="293.60" font-size="10.5" text-anchor="start" font-weight="bold" fill="#111"  style="stroke-width:0.04px">I</text>
<text x="80.50" y="293.60" font-size="7.4" text-anchor="middle" font-weight="normal" fill="#222" textLength="51.0" lengthAdjust="spacingAndGlyphs"  style="stroke-width:0.04px">U46619 [2 µM]</text>
<line x1="41.40" y1="317.00" x2="41.40" y2="399.40" stroke="#333" stroke-width="1.35"/>
<line x1="38.80" y1="398.80" x2="41.40" y2="398.80" stroke="#222" stroke-width="0.9"/>
<text x="35.40" y="400.60" font-size="6.2" text-anchor="end" font-weight="normal" fill="#222" >0</text>
<line x1="38.80" y1="382.94" x2="41.40" y2="382.94" stroke="#222" stroke-width="0.9"/>
<text x="35.40" y="384.74" font-size="6.2" text-anchor="end" font-weight="normal" fill="#222" >1000</text>
<line x1="38.80" y1="367.08" x2="41.40" y2="367.08" stroke="#222" stroke-width="0.9"/>
<text x="35.40" y="368.88" font-size="6.2" text-anchor="end" font-weight="normal" fill="#222" >2000</text>
<line x1="38.80" y1="351.22" x2="41.40" y2="351.22" stroke="#222" stroke-width="0.9"/>
<text x="35.40" y="353.02" font-size="6.2" text-anchor="end" font-weight="normal" fill="#222" >3000</text>
<line x1="38.80" y1="335.36" x2="41.40" y2="335.36" stroke="#222" stroke-width="0.9"/>
<text x="35.40" y="337.16" font-size="6.2" text-anchor="end" font-weight="normal" fill="#222" >4000</text>
<line x1="38.80" y1="319.50" x2="41.40" y2="319.50" stroke="#222" stroke-width="0.9"/>
<text x="35.40" y="321.30" font-size="6.2" text-anchor="end" font-weight="normal" fill="#222" >5000</text>
<text x="0" y="0" font-size="6.6" text-anchor="middle" fill="#222" textLength="34.3" lengthAdjust="spacingAndGlyphs" style="stroke-width:0.42px" transform="translate(15.60,358.00) rotate(-90)">GeoMFI CD62P</text>
<rect x="45.20" y="386.40" width="8.6" height="12.40" fill="#ec9187"/>
<rect x="57.70" y="385.60" width="8.6" height="13.20" fill="#9eaad6"/>
<rect x="70.20" y="384.00" width="8.6" height="14.80" fill="#bce3b0"/>
<rect x="82.70" y="360.50" width="8.6" height="38.30" fill="#fcd49c"/>
<rect x="95.20" y="367.40" width="8.6" height="31.40" fill="#d5ccee"/>
<rect x="107.70" y="368.00" width="8.6" height="30.80" fill="#b3d6f2"/>
<line x1="49.50" y1="383.50" x2="49.50" y2="394.50" stroke="#4a1018" stroke-width="1.0"/>
<line x1="47.00" y1="383.50" x2="52.00" y2="383.50" stroke="#4a1018" stroke-width="1.0"/>
<line x1="47.00" y1="394.50" x2="52.00" y2="394.50" stroke="#4a1018" stroke-width="1.0"/>
<line x1="74.50" y1="369.50" x2="74.50" y2="393.50" stroke="#1e3a1e" stroke-width="1.0"/>
<line x1="72.00" y1="369.50" x2="77.00" y2="369.50" stroke="#1e3a1e" stroke-width="1.0"/>
<line x1="72.00" y1="393.50" x2="77.00" y2="393.50" stroke="#1e3a1e" stroke-width="1.0"/>
<line x1="87.50" y1="337.50" x2="87.50" y2="373.50" stroke="#4a3418" stroke-width="1.0"/>
<line x1="85.00" y1="337.50" x2="90.00" y2="337.50" stroke="#4a3418" stroke-width="1.0"/>
<line x1="85.00" y1="373.50" x2="90.00" y2="373.50" stroke="#4a3418" stroke-width="1.0"/>
<line x1="99.50" y1="360.50" x2="99.50" y2="382.50" stroke="#2a2248" stroke-width="1.0"/>
<line x1="97.00" y1="360.50" x2="102.00" y2="360.50" stroke="#2a2248" stroke-width="1.0"/>
<line x1="97.00" y1="382.50" x2="102.00" y2="382.50" stroke="#2a2248" stroke-width="1.0"/>
<line x1="112.50" y1="363.50" x2="112.50" y2="383.50" stroke="#1a2e3c" stroke-width="1.0"/>
<line x1="110.00" y1="363.50" x2="115.00" y2="363.50" stroke="#1a2e3c" stroke-width="1.0"/>
<line x1="110.00" y1="383.50" x2="115.00" y2="383.50" stroke="#1a2e3c" stroke-width="1.0"/>
<circle cx="47.30" cy="383.90" r="1.8" fill="#7c1529" stroke="#480a16" stroke-width="0.6"/>
<circle cx="50.00" cy="383.90" r="1.8" fill="#7c1529" stroke="#480a16" stroke-width="0.6"/>
<circle cx="46.40" cy="386.40" r="1.8" fill="#7c1529" stroke="#480a16" stroke-width="0.6"/>
<circle cx="51.30" cy="386.90" r="1.8" fill="#7c1529" stroke="#480a16" stroke-width="0.6"/>
<circle cx="48.90" cy="388.80" r="1.8" fill="#7c1529" stroke="#480a16" stroke-width="0.6"/>
<circle cx="47.30" cy="390.80" r="1.8" fill="#7c1529" stroke="#480a16" stroke-width="0.6"/>
<circle cx="50.50" cy="391.30" r="1.8" fill="#7c1529" stroke="#480a16" stroke-width="0.6"/>
<circle cx="48.40" cy="393.70" r="1.8" fill="#7c1529" stroke="#480a16" stroke-width="0.6"/>
<circle cx="62.50" cy="359.40" r="1.8" fill="#1a3052" stroke="#0a1628" stroke-width="0.6"/>
<circle cx="62.50" cy="368.40" r="1.8" fill="#1a3052" stroke="#0a1628" stroke-width="0.6"/>
<circle cx="62.50" cy="372.80" r="1.8" fill="#1a3052" stroke="#0a1628" stroke-width="0.6"/>
<circle cx="61.20" cy="375.00" r="1.8" fill="#1a3052" stroke="#0a1628" stroke-width="0.6"/>
<circle cx="63.60" cy="374.10" r="1.8" fill="#1a3052" stroke="#0a1628" stroke-width="0.6"/>
<circle cx="61.20" cy="377.40" r="1.8" fill="#1a3052" stroke="#0a1628" stroke-width="0.6"/>
<circle cx="63.60" cy="378.20" r="1.8" fill="#1a3052" stroke="#0a1628" stroke-width="0.6"/>
<circle cx="59.50" cy="379.90" r="1.8" fill="#1a3052" stroke="#0a1628" stroke-width="0.6"/>
<circle cx="62.50" cy="380.70" r="1.8" fill="#1a3052" stroke="#0a1628" stroke-width="0.6"/>
<circle cx="64.40" cy="381.50" r="1.8" fill="#1a3052" stroke="#0a1628" stroke-width="0.6"/>
<circle cx="59.50" cy="383.10" r="1.8" fill="#1a3052" stroke="#0a1628" stroke-width="0.6"/>
<circle cx="62.50" cy="383.90" r="1.8" fill="#1a3052" stroke="#0a1628" stroke-width="0.6"/>
<circle cx="64.40" cy="384.80" r="1.8" fill="#1a3052" stroke="#0a1628" stroke-width="0.6"/>
<circle cx="60.30" cy="386.40" r="1.8" fill="#1a3052" stroke="#0a1628" stroke-width="0.6"/>
<circle cx="63.60" cy="387.20" r="1.8" fill="#1a3052" stroke="#0a1628" stroke-width="0.6"/>
<circle cx="61.20" cy="388.80" r="1.8" fill="#1a3052" stroke="#0a1628" stroke-width="0.6"/>
<circle cx="63.60" cy="389.70" r="1.8" fill="#1a3052" stroke="#0a1628" stroke-width="0.6"/>
<circle cx="62.50" cy="391.30" r="1.8" fill="#1a3052" stroke="#0a1628" stroke-width="0.6"/>
<circle cx="60.30" cy="391.80" r="1.8" fill="#1a3052" stroke="#0a1628" stroke-width="0.6"/>
<circle cx="75.50" cy="369.20" r="1.68" fill="#a8d89a" fill-opacity="0.35" stroke="#24702a" stroke-width="1.15"/>
<circle cx="74.20" cy="371.70" r="1.68" fill="#a8d89a" fill-opacity="0.35" stroke="#24702a" stroke-width="1.15"/>
<circle cx="74.20" cy="373.80" r="1.68" fill="#a8d89a" fill-opacity="0.35" stroke="#24702a" stroke-width="1.15"/>
<circle cx="72.60" cy="382.60" r="1.68" fill="#a8d89a" fill-opacity="0.35" stroke="#24702a" stroke-width="1.15"/>
<circle cx="77.20" cy="382.30" r="1.68" fill="#a8d89a" fill-opacity="0.35" stroke="#24702a" stroke-width="1.15"/>
<circle cx="74.20" cy="384.30" r="1.68" fill="#a8d89a" fill-opacity="0.35" stroke="#24702a" stroke-width="1.15"/>
<circle cx="72.30" cy="391.30" r="1.68" fill="#a8d89a" fill-opacity="0.35" stroke="#24702a" stroke-width="1.15"/>
<circle cx="74.20" cy="393.70" r="1.68" fill="#a8d89a" fill-opacity="0.35" stroke="#24702a" stroke-width="1.15"/>
<circle cx="73.40" cy="395.00" r="1.68" fill="#a8d89a" fill-opacity="0.35" stroke="#24702a" stroke-width="1.15"/>
<circle cx="87.10" cy="337.50" r="1.68" fill="#f8c880" fill-opacity="0.35" stroke="#8a5c18" stroke-width="1.15"/>
<circle cx="87.10" cy="357.20" r="1.68" fill="#f8c880" fill-opacity="0.35" stroke="#8a5c18" stroke-width="1.15"/>
<circle cx="84.40" cy="360.20" r="1.68" fill="#f8c880" fill-opacity="0.35" stroke="#8a5c18" stroke-width="1.15"/>
<circle cx="87.50" cy="361.20" r="1.68" fill="#f8c880" fill-opacity="0.35" stroke="#8a5c18" stroke-width="1.15"/>
<circle cx="90.00" cy="363.40" r="1.68" fill="#f8c880" fill-opacity="0.35" stroke="#8a5c18" stroke-width="1.15"/>
<circle cx="86.90" cy="364.60" r="1.68" fill="#f8c880" fill-opacity="0.35" stroke="#8a5c18" stroke-width="1.15"/>
<circle cx="87.70" cy="367.40" r="1.68" fill="#f8c880" fill-opacity="0.35" stroke="#8a5c18" stroke-width="1.15"/>
<circle cx="88.50" cy="372.60" r="1.68" fill="#f8c880" fill-opacity="0.35" stroke="#8a5c18" stroke-width="1.15"/>
<circle cx="85.60" cy="373.60" r="1.68" fill="#f8c880" fill-opacity="0.35" stroke="#8a5c18" stroke-width="1.15"/>
<circle cx="99.60" cy="360.20" r="1.68" fill="#cfc4ec" fill-opacity="0.35" stroke="#3f3272" stroke-width="1.15"/>
<circle cx="97.40" cy="368.40" r="1.68" fill="#cfc4ec" fill-opacity="0.35" stroke="#3f3272" stroke-width="1.15"/>
<circle cx="101.80" cy="368.40" r="1.68" fill="#cfc4ec" fill-opacity="0.35" stroke="#3f3272" stroke-width="1.15"/>
<circle cx="99.60" cy="382.30" r="1.68" fill="#cfc4ec" fill-opacity="0.35" stroke="#3f3272" stroke-width="1.15"/>
<circle cx="114.60" cy="362.60" r="1.68" fill="#a8d0f0" fill-opacity="0.35" stroke="#18506c" stroke-width="1.15"/>
<circle cx="109.90" cy="364.90" r="1.68" fill="#a8d0f0" fill-opacity="0.35" stroke="#18506c" stroke-width="1.15"/>
<circle cx="114.90" cy="367.60" r="1.68" fill="#a8d0f0" fill-opacity="0.35" stroke="#18506c" stroke-width="1.15"/>
<circle cx="109.90" cy="368.00" r="1.68" fill="#a8d0f0" fill-opacity="0.35" stroke="#18506c" stroke-width="1.15"/>
<circle cx="111.80" cy="369.90" r="1.68" fill="#a8d0f0" fill-opacity="0.35" stroke="#18506c" stroke-width="1.15"/>
<circle cx="109.90" cy="375.90" r="1.68" fill="#a8d0f0" fill-opacity="0.35" stroke="#18506c" stroke-width="1.15"/>
<circle cx="114.60" cy="377.40" r="1.68" fill="#a8d0f0" fill-opacity="0.35" stroke="#18506c" stroke-width="1.15"/>
<circle cx="109.90" cy="380.80" r="1.68" fill="#a8d0f0" fill-opacity="0.35" stroke="#18506c" stroke-width="1.15"/>
<circle cx="113.00" cy="379.20" r="1.68" fill="#a8d0f0" fill-opacity="0.35" stroke="#18506c" stroke-width="1.15"/>
<circle cx="114.60" cy="382.30" r="1.68" fill="#a8d0f0" fill-opacity="0.35" stroke="#18506c" stroke-width="1.15"/>
<circle cx="112.10" cy="388.80" r="1.68" fill="#a8d0f0" fill-opacity="0.35" stroke="#18506c" stroke-width="1.15"/>
<line x1="40.60" y1="398.80" x2="120.40" y2="398.80" stroke="#333" stroke-width="1.3"/>
<line x1="49.50" y1="398.80" x2="49.50" y2="401.40" stroke="#222" stroke-width="0.9"/>
<text x="0" y="0" font-size="6.2" text-anchor="end" fill="#222" transform="translate(49.70,407.40) rotate(-45)">&lt;32</text>
<line x1="62.00" y1="398.80" x2="62.00" y2="401.40" stroke="#222" stroke-width="0.9"/>
<text x="0" y="0" font-size="6.2" text-anchor="end" fill="#222" transform="translate(62.20,407.40) rotate(-45)">32-36</text>
<line x1="74.50" y1="398.80" x2="74.50" y2="401.40" stroke="#222" stroke-width="0.9"/>
<text x="0" y="0" font-size="6.2" text-anchor="end" fill="#222" transform="translate(74.70,407.40) rotate(-45)">I</text>
<line x1="87.00" y1="398.80" x2="87.00" y2="401.40" stroke="#222" stroke-width="0.9"/>
<text x="0" y="0" font-size="6.2" text-anchor="end" fill="#222" transform="translate(87.20,407.40) rotate(-45)">28d-2a</text>
<line x1="99.50" y1="398.80" x2="99.50" y2="401.40" stroke="#222" stroke-width="0.9"/>
<text x="0" y="0" font-size="6.2" text-anchor="end" fill="#222" transform="translate(99.70,407.40) rotate(-45)">2-13a</text>
<line x1="112.00" y1="398.80" x2="112.00" y2="401.40" stroke="#222" stroke-width="0.9"/>
<text x="0" y="0" font-size="6.2" text-anchor="end" fill="#222" transform="translate(112.20,407.40) rotate(-45)">&gt;13a</text>
<path d="M50.60,305.30 V303.30 H112.40 V305.30" fill="none" stroke="#505050" stroke-width="0.85"/>
<text x="81.50" y="303.90" font-size="5.6" text-anchor="middle" font-weight="normal" fill="#333" >*</text>
<path d="M50.60,312.70 V310.70 H100.00 V312.70" fill="none" stroke="#505050" stroke-width="0.85"/>
<text x="75.30" y="311.30" font-size="5.6" text-anchor="middle" font-weight="normal" fill="#333" >*</text>
<path d="M50.60,320.20 V318.20 H87.00 V320.20" fill="none" stroke="#505050" stroke-width="0.85"/>
<text x="68.80" y="318.80" font-size="5.6" text-anchor="middle" font-weight="normal" fill="#333" >****</text>
<path d="M62.20,327.50 V325.50 H87.00 V327.50" fill="none" stroke="#505050" stroke-width="0.85"/>
<text x="74.60" y="326.10" font-size="5.6" text-anchor="middle" font-weight="normal" fill="#333" >**</text>
<path d="M73.90,334.40 V332.40 H87.00 V334.40" fill="none" stroke="#505050" stroke-width="0.85"/>
<text x="80.45" y="333.00" font-size="5.6" text-anchor="middle" font-weight="normal" fill="#333" >*</text>
<text x="139.50" y="293.30" font-size="10.5" text-anchor="start" font-weight="bold" fill="#111"  style="stroke-width:0.04px">J</text>
<line x1="172.40" y1="317.00" x2="172.40" y2="399.60" stroke="#333" stroke-width="1.35"/>
<line x1="169.80" y1="399.00" x2="172.40" y2="399.00" stroke="#222" stroke-width="0.9"/>
<text x="166.40" y="400.80" font-size="6.2" text-anchor="end" font-weight="normal" fill="#222" >0</text>
<line x1="169.80" y1="372.50" x2="172.40" y2="372.50" stroke="#222" stroke-width="0.9"/>
<text x="166.40" y="374.30" font-size="6.2" text-anchor="end" font-weight="normal" fill="#222" >1000</text>
<line x1="169.80" y1="346.00" x2="172.40" y2="346.00" stroke="#222" stroke-width="0.9"/>
<text x="166.40" y="347.80" font-size="6.2" text-anchor="end" font-weight="normal" fill="#222" >2000</text>
<line x1="169.80" y1="319.50" x2="172.40" y2="319.50" stroke="#222" stroke-width="0.9"/>
<text x="166.40" y="321.30" font-size="6.2" text-anchor="end" font-weight="normal" fill="#222" >3000</text>
<text x="0" y="0" font-size="6.6" text-anchor="middle" fill="#222" textLength="34.3" lengthAdjust="spacingAndGlyphs" style="stroke-width:0.42px" transform="translate(147.40,358.00) rotate(-90)">GeoMFI CD62P</text>
<line x1="171.80" y1="399.00" x2="252.50" y2="399.00" stroke="#333" stroke-width="1.3"/>
<line x1="172.50" y1="399.00" x2="172.50" y2="401.60" stroke="#222" stroke-width="0.9"/>
<text x="172.50" y="409.60" font-size="6.2" text-anchor="middle" font-weight="normal" fill="#222" >25</text>
<line x1="192.30" y1="399.00" x2="192.30" y2="401.60" stroke="#222" stroke-width="0.9"/>
<text x="192.30" y="409.60" font-size="6.2" text-anchor="middle" font-weight="normal" fill="#222" >30</text>
<line x1="211.90" y1="399.00" x2="211.90" y2="401.60" stroke="#222" stroke-width="0.9"/>
<text x="211.90" y="409.60" font-size="6.2" text-anchor="middle" font-weight="normal" fill="#222" >35</text>
<line x1="231.50" y1="399.00" x2="231.50" y2="401.60" stroke="#222" stroke-width="0.9"/>
<text x="231.50" y="409.60" font-size="6.2" text-anchor="middle" font-weight="normal" fill="#222" >40</text>
<line x1="251.90" y1="399.00" x2="251.90" y2="401.60" stroke="#222" stroke-width="0.9"/>
<text x="251.90" y="409.60" font-size="6.2" text-anchor="middle" font-weight="normal" fill="#222" >45</text>
<text x="212.00" y="421.40" font-size="7.0" text-anchor="middle" font-weight="normal" fill="#222" textLength="35.5" lengthAdjust="spacingAndGlyphs" style="stroke-width:0.25px">Gestational age</text>
<line x1="180.10" y1="377.50" x2="235.60" y2="368.70" stroke="#111" stroke-width="1.0"/>
<circle cx="199.90" cy="332.80" r="1.75" fill="#4a1a5c"/>
<circle cx="203.90" cy="348.10" r="1.75" fill="#4a1a5c"/>
<circle cx="231.80" cy="349.50" r="1.75" fill="#4a1a5c"/>
<circle cx="223.70" cy="353.90" r="1.75" fill="#4a1a5c"/>
<circle cx="212.00" cy="355.70" r="1.75" fill="#4a1a5c"/>
<circle cx="203.90" cy="357.60" r="1.75" fill="#4a1a5c"/>
<circle cx="203.90" cy="359.30" r="1.75" fill="#4a1a5c"/>
<circle cx="203.90" cy="361.10" r="1.75" fill="#4a1a5c"/>
<circle cx="208.00" cy="360.30" r="1.75" fill="#4a1a5c"/>
<circle cx="212.00" cy="363.00" r="1.75" fill="#4a1a5c"/>
<circle cx="227.80" cy="360.70" r="1.75" fill="#4a1a5c"/>
<circle cx="208.00" cy="368.30" r="1.75" fill="#4a1a5c"/>
<circle cx="208.00" cy="371.40" r="1.75" fill="#4a1a5c"/>
<circle cx="208.00" cy="373.20" r="1.75" fill="#4a1a5c"/>
<circle cx="212.00" cy="372.10" r="1.75" fill="#4a1a5c"/>
<circle cx="199.90" cy="373.50" r="1.75" fill="#4a1a5c"/>
<circle cx="199.90" cy="377.50" r="1.75" fill="#4a1a5c"/>
<circle cx="195.90" cy="377.80" r="1.75" fill="#4a1a5c"/>
<circle cx="195.90" cy="379.50" r="1.75" fill="#4a1a5c"/>
<circle cx="195.90" cy="381.30" r="1.75" fill="#4a1a5c"/>
<circle cx="195.90" cy="382.90" r="1.75" fill="#4a1a5c"/>
<circle cx="208.00" cy="376.80" r="1.75" fill="#4a1a5c"/>
<circle cx="208.00" cy="378.80" r="1.75" fill="#4a1a5c"/>
<circle cx="208.00" cy="380.50" r="1.75" fill="#4a1a5c"/>
<circle cx="212.00" cy="377.50" r="1.75" fill="#4a1a5c"/>
<circle cx="220.10" cy="375.10" r="1.75" fill="#4a1a5c"/>
<circle cx="223.70" cy="373.20" r="1.75" fill="#4a1a5c"/>
<circle cx="235.60" cy="370.10" r="1.75" fill="#4a1a5c"/>
<circle cx="235.60" cy="371.80" r="1.75" fill="#4a1a5c"/>
<circle cx="235.60" cy="373.20" r="1.75" fill="#4a1a5c"/>
<circle cx="203.90" cy="382.90" r="1.75" fill="#4a1a5c"/>
<circle cx="203.90" cy="384.50" r="1.75" fill="#4a1a5c"/>
<circle cx="203.90" cy="386.20" r="1.75" fill="#4a1a5c"/>
<circle cx="199.90" cy="386.90" r="1.75" fill="#4a1a5c"/>
<circle cx="208.00" cy="385.30" r="1.75" fill="#4a1a5c"/>
<circle cx="208.00" cy="387.20" r="1.75" fill="#4a1a5c"/>
<circle cx="208.00" cy="388.90" r="1.75" fill="#4a1a5c"/>
<circle cx="180.10" cy="386.20" r="1.75" fill="#4a1a5c"/>
<circle cx="180.10" cy="391.00" r="1.75" fill="#4a1a5c"/>
<circle cx="227.80" cy="385.80" r="1.75" fill="#4a1a5c"/>
<circle cx="227.80" cy="388.90" r="1.75" fill="#4a1a5c"/>
<circle cx="227.80" cy="391.00" r="1.75" fill="#4a1a5c"/>
<text x="270.80" y="293.30" font-size="10.5" text-anchor="start" font-weight="bold" fill="#111"  style="stroke-width:0.04px">K</text>
<line x1="304.60" y1="317.00" x2="304.60" y2="399.50" stroke="#333" stroke-width="1.35"/>
<line x1="302.00" y1="398.90" x2="304.60" y2="398.90" stroke="#222" stroke-width="0.9"/>
<text x="298.60" y="400.70" font-size="6.2" text-anchor="end" font-weight="normal" fill="#222" >0</text>
<line x1="302.00" y1="379.05" x2="304.60" y2="379.05" stroke="#222" stroke-width="0.9"/>
<text x="298.60" y="380.85" font-size="6.2" text-anchor="end" font-weight="normal" fill="#222" >500</text>
<line x1="302.00" y1="359.20" x2="304.60" y2="359.20" stroke="#222" stroke-width="0.9"/>
<text x="298.60" y="361.00" font-size="6.2" text-anchor="end" font-weight="normal" fill="#222" >1000</text>
<line x1="302.00" y1="339.35" x2="304.60" y2="339.35" stroke="#222" stroke-width="0.9"/>
<text x="298.60" y="341.15" font-size="6.2" text-anchor="end" font-weight="normal" fill="#222" >1500</text>
<line x1="302.00" y1="319.50" x2="304.60" y2="319.50" stroke="#222" stroke-width="0.9"/>
<text x="298.60" y="321.30" font-size="6.2" text-anchor="end" font-weight="normal" fill="#222" >2000</text>
<text x="0" y="0" font-size="6.6" text-anchor="middle" fill="#222" textLength="32.3" lengthAdjust="spacingAndGlyphs" style="stroke-width:0.42px" transform="translate(280.20,358.00) rotate(-90)">GeoMFI CD63</text>
<rect x="308.70" y="384.50" width="8.6" height="14.40" fill="#ec9187"/>
<rect x="321.30" y="386.00" width="8.6" height="12.90" fill="#9eaad6"/>
<rect x="333.90" y="389.20" width="8.6" height="9.70" fill="#bce3b0"/>
<rect x="346.30" y="356.00" width="8.6" height="42.90" fill="#fcd49c"/>
<rect x="358.80" y="363.70" width="8.6" height="35.20" fill="#d5ccee"/>
<rect x="371.30" y="379.30" width="8.6" height="19.60" fill="#b3d6f2"/>
<line x1="313.50" y1="376.50" x2="313.50" y2="392.50" stroke="#4a1018" stroke-width="1.0"/>
<line x1="311.00" y1="376.50" x2="316.00" y2="376.50" stroke="#4a1018" stroke-width="1.0"/>
<line x1="311.00" y1="392.50" x2="316.00" y2="392.50" stroke="#4a1018" stroke-width="1.0"/>
<line x1="338.50" y1="377.50" x2="338.50" y2="396.50" stroke="#1e3a1e" stroke-width="1.0"/>
<line x1="336.00" y1="377.50" x2="341.00" y2="377.50" stroke="#1e3a1e" stroke-width="1.0"/>
<line x1="336.00" y1="396.50" x2="341.00" y2="396.50" stroke="#1e3a1e" stroke-width="1.0"/>
<line x1="350.50" y1="338.50" x2="350.50" y2="385.50" stroke="#4a3418" stroke-width="1.0"/>
<line x1="348.00" y1="338.50" x2="353.00" y2="338.50" stroke="#4a3418" stroke-width="1.0"/>
<line x1="348.00" y1="385.50" x2="353.00" y2="385.50" stroke="#4a3418" stroke-width="1.0"/>
<line x1="363.50" y1="353.50" x2="363.50" y2="379.50" stroke="#2a2248" stroke-width="1.0"/>
<line x1="361.00" y1="353.50" x2="366.00" y2="353.50" stroke="#2a2248" stroke-width="1.0"/>
<line x1="361.00" y1="379.50" x2="366.00" y2="379.50" stroke="#2a2248" stroke-width="1.0"/>
<line x1="375.50" y1="371.50" x2="375.50" y2="392.50" stroke="#1a2e3c" stroke-width="1.0"/>
<line x1="373.00" y1="371.50" x2="378.00" y2="371.50" stroke="#1a2e3c" stroke-width="1.0"/>
<line x1="373.00" y1="392.50" x2="378.00" y2="392.50" stroke="#1a2e3c" stroke-width="1.0"/>
<circle cx="313.00" cy="376.70" r="1.8" fill="#7c1529" stroke="#480a16" stroke-width="0.6"/>
<circle cx="310.70" cy="383.60" r="1.8" fill="#7c1529" stroke="#480a16" stroke-width="0.6"/>
<circle cx="315.60" cy="384.00" r="1.8" fill="#7c1529" stroke="#480a16" stroke-width="0.6"/>
<circle cx="312.10" cy="386.20" r="1.8" fill="#7c1529" stroke="#480a16" stroke-width="0.6"/>
<circle cx="315.90" cy="385.70" r="1.8" fill="#7c1529" stroke="#480a16" stroke-width="0.6"/>
<circle cx="310.40" cy="388.80" r="1.8" fill="#7c1529" stroke="#480a16" stroke-width="0.6"/>
<circle cx="314.70" cy="388.80" r="1.8" fill="#7c1529" stroke="#480a16" stroke-width="0.6"/>
<circle cx="313.00" cy="390.60" r="1.8" fill="#7c1529" stroke="#480a16" stroke-width="0.6"/>
<circle cx="325.60" cy="364.30" r="1.8" fill="#1a3052" stroke="#0a1628" stroke-width="0.6"/>
<circle cx="324.20" cy="366.30" r="1.8" fill="#1a3052" stroke="#0a1628" stroke-width="0.6"/>
<circle cx="326.30" cy="369.40" r="1.8" fill="#1a3052" stroke="#0a1628" stroke-width="0.6"/>
<circle cx="325.10" cy="371.20" r="1.8" fill="#1a3052" stroke="#0a1628" stroke-width="0.6"/>
<circle cx="325.60" cy="377.60" r="1.8" fill="#1a3052" stroke="#0a1628" stroke-width="0.6"/>
<circle cx="323.50" cy="380.00" r="1.8" fill="#1a3052" stroke="#0a1628" stroke-width="0.6"/>
<circle cx="327.70" cy="380.00" r="1.8" fill="#1a3052" stroke="#0a1628" stroke-width="0.6"/>
<circle cx="325.60" cy="382.50" r="1.8" fill="#1a3052" stroke="#0a1628" stroke-width="0.6"/>
<circle cx="323.50" cy="385.00" r="1.8" fill="#1a3052" stroke="#0a1628" stroke-width="0.6"/>
<circle cx="327.70" cy="385.00" r="1.8" fill="#1a3052" stroke="#0a1628" stroke-width="0.6"/>
<circle cx="325.60" cy="387.50" r="1.8" fill="#1a3052" stroke="#0a1628" stroke-width="0.6"/>
<circle cx="323.50" cy="390.00" r="1.8" fill="#1a3052" stroke="#0a1628" stroke-width="0.6"/>
<circle cx="327.70" cy="390.00" r="1.8" fill="#1a3052" stroke="#0a1628" stroke-width="0.6"/>
<circle cx="325.60" cy="392.50" r="1.8" fill="#1a3052" stroke="#0a1628" stroke-width="0.6"/>
<circle cx="324.50" cy="394.60" r="1.8" fill="#1a3052" stroke="#0a1628" stroke-width="0.6"/>
<circle cx="326.80" cy="394.60" r="1.8" fill="#1a3052" stroke="#0a1628" stroke-width="0.6"/>
<circle cx="338.10" cy="377.60" r="1.68" fill="#a8d89a" fill-opacity="0.35" stroke="#24702a" stroke-width="1.15"/>
<circle cx="340.10" cy="381.60" r="1.68" fill="#a8d89a" fill-opacity="0.35" stroke="#24702a" stroke-width="1.15"/>
<circle cx="336.30" cy="383.60" r="1.68" fill="#a8d89a" fill-opacity="0.35" stroke="#24702a" stroke-width="1.15"/>
<circle cx="339.40" cy="385.40" r="1.68" fill="#a8d89a" fill-opacity="0.35" stroke="#24702a" stroke-width="1.15"/>
<circle cx="335.50" cy="387.10" r="1.68" fill="#a8d89a" fill-opacity="0.35" stroke="#24702a" stroke-width="1.15"/>
<circle cx="340.70" cy="388.80" r="1.68" fill="#a8d89a" fill-opacity="0.35" stroke="#24702a" stroke-width="1.15"/>
<circle cx="336.70" cy="390.60" r="1.68" fill="#a8d89a" fill-opacity="0.35" stroke="#24702a" stroke-width="1.15"/>
<circle cx="338.90" cy="391.40" r="1.68" fill="#a8d89a" fill-opacity="0.35" stroke="#24702a" stroke-width="1.15"/>
<circle cx="347.60" cy="338.70" r="1.68" fill="#f8c880" fill-opacity="0.35" stroke="#8a5c18" stroke-width="1.15"/>
<circle cx="352.80" cy="338.70" r="1.68" fill="#f8c880" fill-opacity="0.35" stroke="#8a5c18" stroke-width="1.15"/>
<circle cx="350.50" cy="348.20" r="1.68" fill="#f8c880" fill-opacity="0.35" stroke="#8a5c18" stroke-width="1.15"/>
<circle cx="350.50" cy="351.60" r="1.68" fill="#f8c880" fill-opacity="0.35" stroke="#8a5c18" stroke-width="1.15"/>
<circle cx="350.50" cy="358.50" r="1.68" fill="#f8c880" fill-opacity="0.35" stroke="#8a5c18" stroke-width="1.15"/>
<circle cx="347.60" cy="379.80" r="1.68" fill="#f8c880" fill-opacity="0.35" stroke="#8a5c18" stroke-width="1.15"/>
<circle cx="348.10" cy="384.00" r="1.68" fill="#f8c880" fill-opacity="0.35" stroke="#8a5c18" stroke-width="1.15"/>
<circle cx="352.80" cy="382.20" r="1.68" fill="#f8c880" fill-opacity="0.35" stroke="#8a5c18" stroke-width="1.15"/>
<circle cx="349.30" cy="385.40" r="1.68" fill="#f8c880" fill-opacity="0.35" stroke="#8a5c18" stroke-width="1.15"/>
<circle cx="363.10" cy="353.40" r="1.68" fill="#cfc4ec" fill-opacity="0.35" stroke="#3f3272" stroke-width="1.15"/>
<circle cx="363.10" cy="359.10" r="1.68" fill="#cfc4ec" fill-opacity="0.35" stroke="#3f3272" stroke-width="1.15"/>
<circle cx="360.20" cy="364.30" r="1.68" fill="#cfc4ec" fill-opacity="0.35" stroke="#3f3272" stroke-width="1.15"/>
<circle cx="366.10" cy="365.50" r="1.68" fill="#cfc4ec" fill-opacity="0.35" stroke="#3f3272" stroke-width="1.15"/>
<circle cx="363.10" cy="379.80" r="1.68" fill="#cfc4ec" fill-opacity="0.35" stroke="#3f3272" stroke-width="1.15"/>
<circle cx="375.30" cy="335.20" r="1.68" fill="#a8d0f0" fill-opacity="0.35" stroke="#18506c" stroke-width="1.15"/>
<circle cx="373.00" cy="371.50" r="1.68" fill="#a8d0f0" fill-opacity="0.35" stroke="#18506c" stroke-width="1.15"/>
<circle cx="378.20" cy="371.90" r="1.68" fill="#a8d0f0" fill-opacity="0.35" stroke="#18506c" stroke-width="1.15"/>
<circle cx="375.80" cy="375.30" r="1.68" fill="#a8d0f0" fill-opacity="0.35" stroke="#18506c" stroke-width="1.15"/>
<circle cx="374.40" cy="381.90" r="1.68" fill="#a8d0f0" fill-opacity="0.35" stroke="#18506c" stroke-width="1.15"/>
<circle cx="377.50" cy="386.20" r="1.68" fill="#a8d0f0" fill-opacity="0.35" stroke="#18506c" stroke-width="1.15"/>
<circle cx="373.00" cy="389.20" r="1.68" fill="#a8d0f0" fill-opacity="0.35" stroke="#18506c" stroke-width="1.15"/>
<line x1="304.00" y1="398.90" x2="383.80" y2="398.90" stroke="#333" stroke-width="1.3"/>
<line x1="313.00" y1="398.90" x2="313.00" y2="401.50" stroke="#222" stroke-width="0.9"/>
<text x="0" y="0" font-size="6.2" text-anchor="end" fill="#222" transform="translate(313.20,407.50) rotate(-45)">&lt;32</text>
<line x1="325.60" y1="398.90" x2="325.60" y2="401.50" stroke="#222" stroke-width="0.9"/>
<text x="0" y="0" font-size="6.2" text-anchor="end" fill="#222" transform="translate(325.80,407.50) rotate(-45)">32-36</text>
<line x1="338.20" y1="398.90" x2="338.20" y2="401.50" stroke="#222" stroke-width="0.9"/>
<text x="0" y="0" font-size="6.2" text-anchor="end" fill="#222" transform="translate(338.40,407.50) rotate(-45)">I</text>
<line x1="350.60" y1="398.90" x2="350.60" y2="401.50" stroke="#222" stroke-width="0.9"/>
<text x="0" y="0" font-size="6.2" text-anchor="end" fill="#222" transform="translate(350.80,407.50) rotate(-45)">28d-2a</text>
<line x1="363.10" y1="398.90" x2="363.10" y2="401.50" stroke="#222" stroke-width="0.9"/>
<text x="0" y="0" font-size="6.2" text-anchor="end" fill="#222" transform="translate(363.30,407.50) rotate(-45)">2-13a</text>
<line x1="375.60" y1="398.90" x2="375.60" y2="401.50" stroke="#222" stroke-width="0.9"/>
<text x="0" y="0" font-size="6.2" text-anchor="end" fill="#222" transform="translate(375.80,407.50) rotate(-45)">&gt;13a</text>
<path d="M313.25,319.00 V317.00 H350.50 V319.00" fill="none" stroke="#505050" stroke-width="0.85"/>
<text x="331.88" y="317.60" font-size="5.6" text-anchor="middle" font-weight="normal" fill="#333" >*</text>
<path d="M325.00,326.50 V324.50 H350.50 V326.50" fill="none" stroke="#505050" stroke-width="0.85"/>
<text x="337.75" y="325.10" font-size="5.6" text-anchor="middle" font-weight="normal" fill="#333" >*</text>
<path d="M337.00,333.75 V331.75 H350.50 V333.75" fill="none" stroke="#505050" stroke-width="0.85"/>
<text x="343.75" y="332.35" font-size="5.6" text-anchor="middle" font-weight="normal" fill="#333" >*</text>
<text x="399.80" y="293.30" font-size="10.5" text-anchor="start" font-weight="bold" fill="#111"  style="stroke-width:0.04px">L</text>
<line x1="433.70" y1="317.00" x2="433.70" y2="399.50" stroke="#333" stroke-width="1.35"/>
<line x1="431.10" y1="398.90" x2="433.70" y2="398.90" stroke="#222" stroke-width="0.9"/>
<text x="427.70" y="400.70" font-size="6.2" text-anchor="end" font-weight="normal" fill="#222" >0</text>
<line x1="431.10" y1="379.05" x2="433.70" y2="379.05" stroke="#222" stroke-width="0.9"/>
<text x="427.70" y="380.85" font-size="6.2" text-anchor="end" font-weight="normal" fill="#222" >2000</text>
<line x1="431.10" y1="359.20" x2="433.70" y2="359.20" stroke="#222" stroke-width="0.9"/>
<text x="427.70" y="361.00" font-size="6.2" text-anchor="end" font-weight="normal" fill="#222" >4000</text>
<line x1="431.10" y1="339.35" x2="433.70" y2="339.35" stroke="#222" stroke-width="0.9"/>
<text x="427.70" y="341.15" font-size="6.2" text-anchor="end" font-weight="normal" fill="#222" >6000</text>
<line x1="431.10" y1="319.50" x2="433.70" y2="319.50" stroke="#222" stroke-width="0.9"/>
<text x="427.70" y="321.30" font-size="6.2" text-anchor="end" font-weight="normal" fill="#222" >8000</text>
<text x="0" y="0" font-size="6.6" text-anchor="middle" fill="#222" textLength="33.3" lengthAdjust="spacingAndGlyphs" style="stroke-width:0.42px" transform="translate(408.60,358.00) rotate(-90)">GeoMFI PAC-1</text>
<rect x="438.10" y="393.10" width="8.6" height="5.80" fill="#ec9187"/>
<rect x="450.50" y="394.00" width="8.6" height="4.90" fill="#9eaad6"/>
<rect x="462.70" y="395.00" width="8.6" height="3.90" fill="#bce3b0"/>
<rect x="475.50" y="372.40" width="8.6" height="26.50" fill="#fcd49c"/>
<rect x="487.70" y="361.10" width="8.6" height="37.80" fill="#d5ccee"/>
<rect x="500.50" y="352.50" width="8.6" height="46.40" fill="#b3d6f2"/>
<line x1="479.50" y1="341.50" x2="479.50" y2="394.50" stroke="#4a3418" stroke-width="1.0"/>
<line x1="477.00" y1="341.50" x2="482.00" y2="341.50" stroke="#4a3418" stroke-width="1.0"/>
<line x1="477.00" y1="394.50" x2="482.00" y2="394.50" stroke="#4a3418" stroke-width="1.0"/>
<line x1="492.50" y1="354.50" x2="492.50" y2="390.50" stroke="#2a2248" stroke-width="1.0"/>
<line x1="490.00" y1="354.50" x2="495.00" y2="354.50" stroke="#2a2248" stroke-width="1.0"/>
<line x1="490.00" y1="390.50" x2="495.00" y2="390.50" stroke="#2a2248" stroke-width="1.0"/>
<line x1="504.50" y1="346.50" x2="504.50" y2="381.50" stroke="#1a2e3c" stroke-width="1.0"/>
<line x1="502.00" y1="346.50" x2="507.00" y2="346.50" stroke="#1a2e3c" stroke-width="1.0"/>
<line x1="502.00" y1="381.50" x2="507.00" y2="381.50" stroke="#1a2e3c" stroke-width="1.0"/>
<circle cx="440.00" cy="393.00" r="1.8" fill="#7c1529" stroke="#480a16" stroke-width="0.6"/>
<circle cx="443.50" cy="392.50" r="1.8" fill="#7c1529" stroke="#480a16" stroke-width="0.6"/>
<circle cx="445.00" cy="395.00" r="1.8" fill="#7c1529" stroke="#480a16" stroke-width="0.6"/>
<circle cx="439.50" cy="396.50" r="1.8" fill="#7c1529" stroke="#480a16" stroke-width="0.6"/>
<circle cx="442.20" cy="396.20" r="1.8" fill="#7c1529" stroke="#480a16" stroke-width="0.6"/>
<circle cx="444.80" cy="397.20" r="1.8" fill="#7c1529" stroke="#480a16" stroke-width="0.6"/>
<circle cx="441.00" cy="397.80" r="1.8" fill="#7c1529" stroke="#480a16" stroke-width="0.6"/>
<circle cx="454.80" cy="369.80" r="1.8" fill="#1a3052" stroke="#0a1628" stroke-width="0.6"/>
<circle cx="454.80" cy="384.00" r="1.8" fill="#1a3052" stroke="#0a1628" stroke-width="0.6"/>
<circle cx="454.80" cy="386.00" r="1.8" fill="#1a3052" stroke="#0a1628" stroke-width="0.6"/>
<circle cx="454.80" cy="388.00" r="1.8" fill="#1a3052" stroke="#0a1628" stroke-width="0.6"/>
<circle cx="454.00" cy="390.00" r="1.8" fill="#1a3052" stroke="#0a1628" stroke-width="0.6"/>
<circle cx="455.60" cy="391.00" r="1.8" fill="#1a3052" stroke="#0a1628" stroke-width="0.6"/>
<circle cx="453.00" cy="393.00" r="1.8" fill="#1a3052" stroke="#0a1628" stroke-width="0.6"/>
<circle cx="456.50" cy="393.50" r="1.8" fill="#1a3052" stroke="#0a1628" stroke-width="0.6"/>
<circle cx="454.80" cy="395.00" r="1.8" fill="#1a3052" stroke="#0a1628" stroke-width="0.6"/>
<circle cx="452.00" cy="396.50" r="1.8" fill="#1a3052" stroke="#0a1628" stroke-width="0.6"/>
<circle cx="457.50" cy="396.50" r="1.8" fill="#1a3052" stroke="#0a1628" stroke-width="0.6"/>
<circle cx="454.80" cy="397.50" r="1.8" fill="#1a3052" stroke="#0a1628" stroke-width="0.6"/>
<circle cx="466.70" cy="392.30" r="1.68" fill="#a8d89a" fill-opacity="0.35" stroke="#24702a" stroke-width="1.15"/>
<circle cx="468.10" cy="394.00" r="1.68" fill="#a8d89a" fill-opacity="0.35" stroke="#24702a" stroke-width="1.15"/>
<circle cx="465.50" cy="395.40" r="1.68" fill="#a8d89a" fill-opacity="0.35" stroke="#24702a" stroke-width="1.15"/>
<circle cx="469.40" cy="395.70" r="1.68" fill="#a8d89a" fill-opacity="0.35" stroke="#24702a" stroke-width="1.15"/>
<circle cx="466.70" cy="397.10" r="1.68" fill="#a8d89a" fill-opacity="0.35" stroke="#24702a" stroke-width="1.15"/>
<circle cx="479.80" cy="341.80" r="1.68" fill="#f8c880" fill-opacity="0.35" stroke="#8a5c18" stroke-width="1.15"/>
<circle cx="476.70" cy="358.00" r="1.68" fill="#f8c880" fill-opacity="0.35" stroke="#8a5c18" stroke-width="1.15"/>
<circle cx="481.90" cy="356.00" r="1.68" fill="#f8c880" fill-opacity="0.35" stroke="#8a5c18" stroke-width="1.15"/>
<circle cx="476.70" cy="371.90" r="1.68" fill="#f8c880" fill-opacity="0.35" stroke="#8a5c18" stroke-width="1.15"/>
<circle cx="481.90" cy="371.90" r="1.68" fill="#f8c880" fill-opacity="0.35" stroke="#8a5c18" stroke-width="1.15"/>
<circle cx="479.80" cy="374.10" r="1.68" fill="#f8c880" fill-opacity="0.35" stroke="#8a5c18" stroke-width="1.15"/>
<circle cx="476.70" cy="384.50" r="1.68" fill="#f8c880" fill-opacity="0.35" stroke="#8a5c18" stroke-width="1.15"/>
<circle cx="481.90" cy="387.40" r="1.68" fill="#f8c880" fill-opacity="0.35" stroke="#8a5c18" stroke-width="1.15"/>
<circle cx="479.80" cy="394.40" r="1.68" fill="#f8c880" fill-opacity="0.35" stroke="#8a5c18" stroke-width="1.15"/>
<circle cx="491.90" cy="354.20" r="1.68" fill="#cfc4ec" fill-opacity="0.35" stroke="#3f3272" stroke-width="1.15"/>
<circle cx="489.70" cy="361.10" r="1.68" fill="#cfc4ec" fill-opacity="0.35" stroke="#3f3272" stroke-width="1.15"/>
<circle cx="494.90" cy="358.50" r="1.68" fill="#cfc4ec" fill-opacity="0.35" stroke="#3f3272" stroke-width="1.15"/>
<circle cx="491.90" cy="374.10" r="1.68" fill="#cfc4ec" fill-opacity="0.35" stroke="#3f3272" stroke-width="1.15"/>
<circle cx="491.90" cy="390.60" r="1.68" fill="#cfc4ec" fill-opacity="0.35" stroke="#3f3272" stroke-width="1.15"/>
<circle cx="504.70" cy="346.40" r="1.68" fill="#a8d0f0" fill-opacity="0.35" stroke="#18506c" stroke-width="1.15"/>
<circle cx="501.80" cy="352.50" r="1.68" fill="#a8d0f0" fill-opacity="0.35" stroke="#18506c" stroke-width="1.15"/>
<circle cx="507.50" cy="352.10" r="1.68" fill="#a8d0f0" fill-opacity="0.35" stroke="#18506c" stroke-width="1.15"/>
<circle cx="501.80" cy="359.10" r="1.68" fill="#a8d0f0" fill-opacity="0.35" stroke="#18506c" stroke-width="1.15"/>
<circle cx="507.50" cy="356.30" r="1.68" fill="#a8d0f0" fill-opacity="0.35" stroke="#18506c" stroke-width="1.15"/>
<circle cx="504.70" cy="375.30" r="1.68" fill="#a8d0f0" fill-opacity="0.35" stroke="#18506c" stroke-width="1.15"/>
<circle cx="504.70" cy="381.00" r="1.68" fill="#a8d0f0" fill-opacity="0.35" stroke="#18506c" stroke-width="1.15"/>
<line x1="433.20" y1="398.90" x2="512.50" y2="398.90" stroke="#333" stroke-width="1.3"/>
<line x1="442.40" y1="398.90" x2="442.40" y2="401.50" stroke="#222" stroke-width="0.9"/>
<text x="0" y="0" font-size="6.2" text-anchor="end" fill="#222" transform="translate(442.60,407.50) rotate(-45)">&lt;32</text>
<line x1="454.80" y1="398.90" x2="454.80" y2="401.50" stroke="#222" stroke-width="0.9"/>
<text x="0" y="0" font-size="6.2" text-anchor="end" fill="#222" transform="translate(455.00,407.50) rotate(-45)">32-36</text>
<line x1="467.00" y1="398.90" x2="467.00" y2="401.50" stroke="#222" stroke-width="0.9"/>
<text x="0" y="0" font-size="6.2" text-anchor="end" fill="#222" transform="translate(467.20,407.50) rotate(-45)">I</text>
<line x1="479.80" y1="398.90" x2="479.80" y2="401.50" stroke="#222" stroke-width="0.9"/>
<text x="0" y="0" font-size="6.2" text-anchor="end" fill="#222" transform="translate(480.00,407.50) rotate(-45)">28d-2a</text>
<line x1="492.00" y1="398.90" x2="492.00" y2="401.50" stroke="#222" stroke-width="0.9"/>
<text x="0" y="0" font-size="6.2" text-anchor="end" fill="#222" transform="translate(492.20,407.50) rotate(-45)">2-13a</text>
<line x1="504.80" y1="398.90" x2="504.80" y2="401.50" stroke="#222" stroke-width="0.9"/>
<text x="0" y="0" font-size="6.2" text-anchor="end" fill="#222" transform="translate(505.00,407.50) rotate(-45)">&gt;13a</text>
<path d="M443.25,301.25 V299.25 H505.00 V301.25" fill="none" stroke="#505050" stroke-width="0.85"/>
<text x="474.12" y="299.85" font-size="5.6" text-anchor="middle" font-weight="normal" fill="#333" >*</text>
<path d="M455.00,308.75 V306.75 H505.00 V308.75" fill="none" stroke="#505050" stroke-width="0.85"/>
<text x="480.00" y="307.35" font-size="5.6" text-anchor="middle" font-weight="normal" fill="#333" >***</text>
<path d="M455.00,316.25 V314.25 H492.50 V316.25" fill="none" stroke="#505050" stroke-width="0.85"/>
<text x="473.75" y="314.85" font-size="5.6" text-anchor="middle" font-weight="normal" fill="#333" >*</text>
<path d="M467.00,323.75 V321.75 H505.00 V323.75" fill="none" stroke="#505050" stroke-width="0.85"/>
<text x="486.00" y="322.35" font-size="5.6" text-anchor="middle" font-weight="normal" fill="#333" >**</text>
<path d="M467.00,330.75 V328.75 H492.50 V330.75" fill="none" stroke="#505050" stroke-width="0.85"/>
<text x="479.75" y="329.35" font-size="5.6" text-anchor="middle" font-weight="normal" fill="#333" >*</text>
<path d="M467.00,338.25 V336.25 H479.50 V338.25" fill="none" stroke="#505050" stroke-width="0.85"/>
<text x="473.25" y="336.85" font-size="5.6" text-anchor="middle" font-weight="normal" fill="#333" >*</text>
<text x="5.80" y="447.30" font-size="10.5" text-anchor="start" font-weight="bold" fill="#111"  style="stroke-width:0.04px">M</text>
<line x1="40.80" y1="451.50" x2="40.80" y2="533.00" stroke="#222" stroke-width="1.0"/>
<line x1="40.30" y1="532.50" x2="122.50" y2="532.50" stroke="#222" stroke-width="1.0"/>
<line x1="38.60" y1="455.00" x2="40.80" y2="455.00" stroke="#222" stroke-width="0.8"/>
<text x="37.2" y="457.10" font-size="6.0" text-anchor="end" fill="#222">10<tspan font-size="3.6" dy="-2.6">5</tspan></text>
<line x1="38.60" y1="475.80" x2="40.80" y2="475.80" stroke="#222" stroke-width="0.8"/>
<text x="37.2" y="477.90" font-size="6.0" text-anchor="end" fill="#222">10<tspan font-size="3.6" dy="-2.6">4</tspan></text>
<line x1="38.60" y1="498.00" x2="40.80" y2="498.00" stroke="#222" stroke-width="0.8"/>
<text x="37.2" y="500.10" font-size="6.0" text-anchor="end" fill="#222">10<tspan font-size="3.6" dy="-2.6">3</tspan></text>
<line x1="38.60" y1="512.00" x2="40.80" y2="512.00" stroke="#222" stroke-width="0.8"/>
<text x="35.60" y="514.10" font-size="6.0" text-anchor="end" font-weight="normal" fill="#222" >0</text>
<line x1="38.60" y1="526.30" x2="40.80" y2="526.30" stroke="#222" stroke-width="0.8"/>
<text x="37.2" y="528.40" font-size="6.0" text-anchor="end" fill="#222">−10<tspan font-size="3.6" dy="-2.6">3</tspan></text>
<line x1="39.60" y1="457.00" x2="40.80" y2="457.00" stroke="#222" stroke-width="0.5"/>
<line x1="39.60" y1="459.00" x2="40.80" y2="459.00" stroke="#222" stroke-width="0.5"/>
<line x1="39.60" y1="461.00" x2="40.80" y2="461.00" stroke="#222" stroke-width="0.5"/>
<line x1="39.60" y1="463.00" x2="40.80" y2="463.00" stroke="#222" stroke-width="0.5"/>
<line x1="39.60" y1="466.00" x2="40.80" y2="466.00" stroke="#222" stroke-width="0.5"/>
<line x1="39.60" y1="469.00" x2="40.80" y2="469.00" stroke="#222" stroke-width="0.5"/>
<line x1="39.60" y1="478.00" x2="40.80" y2="478.00" stroke="#222" stroke-width="0.5"/>
<line x1="39.60" y1="480.00" x2="40.80" y2="480.00" stroke="#222" stroke-width="0.5"/>
<line x1="39.60" y1="482.00" x2="40.80" y2="482.00" stroke="#222" stroke-width="0.5"/>
<line x1="39.60" y1="484.00" x2="40.80" y2="484.00" stroke="#222" stroke-width="0.5"/>
<line x1="39.60" y1="487.00" x2="40.80" y2="487.00" stroke="#222" stroke-width="0.5"/>
<line x1="39.60" y1="490.00" x2="40.80" y2="490.00" stroke="#222" stroke-width="0.5"/>
<line x1="39.60" y1="500.00" x2="40.80" y2="500.00" stroke="#222" stroke-width="0.5"/>
<line x1="39.60" y1="501.50" x2="40.80" y2="501.50" stroke="#222" stroke-width="0.5"/>
<line x1="46.30" y1="532.50" x2="46.30" y2="534.80" stroke="#222" stroke-width="0.8"/>
<text x="47.90" y="540.5" font-size="6.0" text-anchor="middle" fill="#222">−10<tspan font-size="3.6" dy="-2.6">3</tspan></text>
<line x1="60.80" y1="532.50" x2="60.80" y2="534.80" stroke="#222" stroke-width="0.8"/>
<text x="60.80" y="540.50" font-size="6.0" text-anchor="middle" font-weight="normal" fill="#222" >0</text>
<line x1="73.80" y1="532.50" x2="73.80" y2="534.80" stroke="#222" stroke-width="0.8"/>
<text x="74.80" y="540.5" font-size="6.0" text-anchor="middle" fill="#222">10<tspan font-size="3.6" dy="-2.6">3</tspan></text>
<line x1="96.30" y1="532.50" x2="96.30" y2="534.80" stroke="#222" stroke-width="0.8"/>
<text x="97.30" y="540.5" font-size="6.0" text-anchor="middle" fill="#222">10<tspan font-size="3.6" dy="-2.6">4</tspan></text>
<line x1="115.50" y1="532.50" x2="115.50" y2="534.80" stroke="#222" stroke-width="0.8"/>
<text x="116.50" y="540.5" font-size="6.0" text-anchor="middle" fill="#222">10<tspan font-size="3.6" dy="-2.6">5</tspan></text>
<line x1="76.00" y1="532.50" x2="76.00" y2="533.80" stroke="#222" stroke-width="0.5"/>
<line x1="78.00" y1="532.50" x2="78.00" y2="533.80" stroke="#222" stroke-width="0.5"/>
<line x1="80.00" y1="532.50" x2="80.00" y2="533.80" stroke="#222" stroke-width="0.5"/>
<line x1="82.00" y1="532.50" x2="82.00" y2="533.80" stroke="#222" stroke-width="0.5"/>
<line x1="85.00" y1="532.50" x2="85.00" y2="533.80" stroke="#222" stroke-width="0.5"/>
<line x1="88.00" y1="532.50" x2="88.00" y2="533.80" stroke="#222" stroke-width="0.5"/>
<line x1="98.00" y1="532.50" x2="98.00" y2="533.80" stroke="#222" stroke-width="0.5"/>
<line x1="100.00" y1="532.50" x2="100.00" y2="533.80" stroke="#222" stroke-width="0.5"/>
<line x1="102.00" y1="532.50" x2="102.00" y2="533.80" stroke="#222" stroke-width="0.5"/>
<line x1="104.00" y1="532.50" x2="104.00" y2="533.80" stroke="#222" stroke-width="0.5"/>
<line x1="107.00" y1="532.50" x2="107.00" y2="533.80" stroke="#222" stroke-width="0.5"/>
<line x1="110.00" y1="532.50" x2="110.00" y2="533.80" stroke="#222" stroke-width="0.5"/>
<text x="81.50" y="552.00" font-size="7.0" text-anchor="middle" font-weight="normal" fill="#222" textLength="21.2" lengthAdjust="spacingAndGlyphs" style="stroke-width:0.3px">CD63-PE</text>
<text x="0" y="0" font-size="7.0" text-anchor="middle" fill="#222" textLength="27.3" lengthAdjust="spacingAndGlyphs" style="stroke-width:0.42px" transform="translate(19.40,490.20) rotate(-90)">PAC-1-FITC</text>
<defs><filter id="bl1" x="-20%" y="-20%" width="140%" height="140%"><feGaussianBlur stdDeviation="1.6"/></filter></defs>
<path d="M58.5,482 L62,478.5 L69,478 L71,472.5 L80,470.5 L90,470 L94,472 L94,488 L92,500 L90,503 L58,503 Z" fill="#e6bce2" filter="url(#bl1)" opacity="0.75"/>
<path d="M56.5,507.5 Q56,505.8 60,505.8 L92,505.8 Q95.5,506.3 95,510 L94.6,514.2 Q93.5,515.6 88,515.4 L60,515.6 Q56.5,515.6 56.3,512 Z" fill="#9cdad6" filter="url(#bl1)"/>
<path d="M86.5 494.9h0.85v0.85h-0.85zM78.7 486.7h0.85v0.85h-0.85zM78.8 484.6h0.85v0.85h-0.85zM65.8 497.1h0.85v0.85h-0.85zM85.3 489.0h0.85v0.85h-0.85zM73.7 493.3h0.85v0.85h-0.85zM77.6 489.5h0.85v0.85h-0.85zM72.0 484.4h0.85v0.85h-0.85zM89.5 482.0h0.85v0.85h-0.85zM60.4 485.7h0.85v0.85h-0.85zM61.6 489.8h0.85v0.85h-0.85zM62.0 500.1h0.85v0.85h-0.85zM70.5 486.1h0.85v0.85h-0.85zM77.1 493.3h0.85v0.85h-0.85zM74.3 473.7h0.85v0.85h-0.85zM84.2 473.2h0.85v0.85h-0.85zM70.7 487.6h0.85v0.85h-0.85zM72.8 484.3h0.85v0.85h-0.85zM65.6 492.1h0.85v0.85h-0.85zM59.1 490.1h0.85v0.85h-0.85zM86.1 491.5h0.85v0.85h-0.85zM94.8 493.8h0.85v0.85h-0.85zM69.3 497.4h0.85v0.85h-0.85zM64.4 490.4h0.85v0.85h-0.85zM83.4 492.1h0.85v0.85h-0.85zM76.6 485.4h0.85v0.85h-0.85zM82.5 481.4h0.85v0.85h-0.85zM78.2 496.2h0.85v0.85h-0.85zM64.2 487.0h0.85v0.85h-0.85zM89.9 488.5h0.85v0.85h-0.85zM79.0 486.3h0.85v0.85h-0.85zM77.8 477.1h0.85v0.85h-0.85zM94.7 493.4h0.85v0.85h-0.85zM85.5 482.0h0.85v0.85h-0.85zM85.8 487.9h0.85v0.85h-0.85zM69.2 501.4h0.85v0.85h-0.85zM65.2 486.0h0.85v0.85h-0.85zM64.3 483.3h0.85v0.85h-0.85zM76.5 499.1h0.85v0.85h-0.85zM82.5 496.2h0.85v0.85h-0.85zM87.0 479.9h0.85v0.85h-0.85zM75.5 480.8h0.85v0.85h-0.85zM62.0 491.7h0.85v0.85h-0.85zM71.3 501.5h0.85v0.85h-0.85zM58.4 483.3h0.85v0.85h-0.85zM66.2 496.6h0.85v0.85h-0.85zM63.5 493.1h0.85v0.85h-0.85zM66.2 490.1h0.85v0.85h-0.85zM66.4 482.0h0.85v0.85h-0.85zM86.9 490.8h0.85v0.85h-0.85zM66.2 492.0h0.85v0.85h-0.85zM82.5 473.8h0.85v0.85h-0.85zM74.7 493.5h0.85v0.85h-0.85zM83.3 475.8h0.85v0.85h-0.85zM79.8 492.2h0.85v0.85h-0.85zM79.4 495.0h0.85v0.85h-0.85zM73.8 478.4h0.85v0.85h-0.85zM74.4 488.3h0.85v0.85h-0.85zM86.9 490.2h0.85v0.85h-0.85zM81.3 483.7h0.85v0.85h-0.85zM59.6 493.0h0.85v0.85h-0.85zM85.1 488.3h0.85v0.85h-0.85zM73.9 489.5h0.85v0.85h-0.85zM82.3 497.0h0.85v0.85h-0.85zM82.6 484.1h0.85v0.85h-0.85zM81.2 488.3h0.85v0.85h-0.85zM78.7 481.4h0.85v0.85h-0.85zM93.4 478.1h0.85v0.85h-0.85zM80.3 485.3h0.85v0.85h-0.85zM82.0 487.0h0.85v0.85h-0.85zM79.8 483.6h0.85v0.85h-0.85zM88.7 482.7h0.85v0.85h-0.85zM81.9 489.2h0.85v0.85h-0.85zM68.3 484.3h0.85v0.85h-0.85zM61.6 486.3h0.85v0.85h-0.85zM87.0 490.7h0.85v0.85h-0.85zM83.7 501.1h0.85v0.85h-0.85zM63.7 494.7h0.85v0.85h-0.85zM89.3 484.9h0.85v0.85h-0.85zM63.4 483.2h0.85v0.85h-0.85zM72.7 478.7h0.85v0.85h-0.85zM79.0 490.1h0.85v0.85h-0.85zM65.1 498.2h0.85v0.85h-0.85zM78.9 493.0h0.85v0.85h-0.85zM76.2 494.2h0.85v0.85h-0.85zM85.9 488.4h0.85v0.85h-0.85zM85.9 492.7h0.85v0.85h-0.85zM68.4 481.6h0.85v0.85h-0.85zM78.3 490.6h0.85v0.85h-0.85zM80.2 481.4h0.85v0.85h-0.85zM86.2 487.6h0.85v0.85h-0.85zM84.2 477.3h0.85v0.85h-0.85zM78.1 475.3h0.85v0.85h-0.85zM81.7 487.5h0.85v0.85h-0.85zM82.3 485.8h0.85v0.85h-0.85zM87.2 481.2h0.85v0.85h-0.85zM82.0 475.5h0.85v0.85h-0.85zM81.9 490.0h0.85v0.85h-0.85zM90.7 486.2h0.85v0.85h-0.85zM85.5 483.0h0.85v0.85h-0.85zM64.1 490.6h0.85v0.85h-0.85zM61.5 491.3h0.85v0.85h-0.85zM60.9 488.1h0.85v0.85h-0.85zM89.0 500.5h0.85v0.85h-0.85zM67.5 486.3h0.85v0.85h-0.85zM87.7 481.1h0.85v0.85h-0.85zM76.6 493.5h0.85v0.85h-0.85zM67.5 493.7h0.85v0.85h-0.85zM78.4 495.7h0.85v0.85h-0.85zM67.0 501.5h0.85v0.85h-0.85zM77.3 486.0h0.85v0.85h-0.85zM77.6 502.0h0.85v0.85h-0.85zM65.4 490.0h0.85v0.85h-0.85zM64.0 493.2h0.85v0.85h-0.85zM78.5 475.5h0.85v0.85h-0.85zM66.5 483.7h0.85v0.85h-0.85zM73.1 483.6h0.85v0.85h-0.85zM81.0 500.2h0.85v0.85h-0.85zM74.0 489.4h0.85v0.85h-0.85zM85.9 470.0h0.85v0.85h-0.85zM81.6 483.5h0.85v0.85h-0.85zM74.1 484.4h0.85v0.85h-0.85zM77.8 496.4h0.85v0.85h-0.85zM81.5 480.8h0.85v0.85h-0.85zM86.3 490.5h0.85v0.85h-0.85zM62.6 500.1h0.85v0.85h-0.85zM68.2 493.3h0.85v0.85h-0.85zM61.7 482.9h0.85v0.85h-0.85zM67.1 485.0h0.85v0.85h-0.85zM88.8 489.3h0.85v0.85h-0.85zM90.2 485.1h0.85v0.85h-0.85zM81.5 485.5h0.85v0.85h-0.85zM62.3 492.4h0.85v0.85h-0.85zM79.4 485.4h0.85v0.85h-0.85zM81.4 491.9h0.85v0.85h-0.85zM92.4 495.6h0.85v0.85h-0.85zM74.9 487.9h0.85v0.85h-0.85zM72.2 493.8h0.85v0.85h-0.85zM77.4 481.3h0.85v0.85h-0.85zM77.6 482.9h0.85v0.85h-0.85zM72.8 493.0h0.85v0.85h-0.85zM81.1 487.6h0.85v0.85h-0.85zM86.7 495.9h0.85v0.85h-0.85zM77.6 485.2h0.85v0.85h-0.85zM80.3 481.1h0.85v0.85h-0.85zM84.5 479.4h0.85v0.85h-0.85zM81.2 480.8h0.85v0.85h-0.85zM59.4 478.0h0.85v0.85h-0.85zM90.3 478.7h0.85v0.85h-0.85zM65.0 496.1h0.85v0.85h-0.85zM85.3 489.9h0.85v0.85h-0.85zM90.5 491.8h0.85v0.85h-0.85zM63.5 492.9h0.85v0.85h-0.85zM68.1 490.2h0.85v0.85h-0.85zM68.1 488.2h0.85v0.85h-0.85zM86.8 500.7h0.85v0.85h-0.85zM78.1 483.8h0.85v0.85h-0.85zM58.4 487.0h0.85v0.85h-0.85zM81.6 481.2h0.85v0.85h-0.85zM83.5 488.5h0.85v0.85h-0.85zM80.8 478.2h0.85v0.85h-0.85zM68.0 493.1h0.85v0.85h-0.85zM76.9 495.1h0.85v0.85h-0.85zM82.9 476.6h0.85v0.85h-0.85zM79.7 489.4h0.85v0.85h-0.85zM76.4 490.3h0.85v0.85h-0.85zM65.6 495.9h0.85v0.85h-0.85zM67.8 492.4h0.85v0.85h-0.85zM64.2 480.7h0.85v0.85h-0.85zM88.6 480.5h0.85v0.85h-0.85zM82.1 477.1h0.85v0.85h-0.85zM62.7 498.6h0.85v0.85h-0.85zM66.2 490.7h0.85v0.85h-0.85zM88.6 474.7h0.85v0.85h-0.85zM85.4 486.1h0.85v0.85h-0.85zM76.5 479.6h0.85v0.85h-0.85zM61.7 493.6h0.85v0.85h-0.85zM66.4 490.3h0.85v0.85h-0.85zM85.8 496.1h0.85v0.85h-0.85zM81.8 493.9h0.85v0.85h-0.85zM70.4 494.9h0.85v0.85h-0.85zM65.9 489.6h0.85v0.85h-0.85zM83.3 491.1h0.85v0.85h-0.85zM62.8 487.9h0.85v0.85h-0.85zM80.7 477.7h0.85v0.85h-0.85zM78.9 481.2h0.85v0.85h-0.85zM83.8 490.5h0.85v0.85h-0.85zM63.4 499.4h0.85v0.85h-0.85zM62.8 483.8h0.85v0.85h-0.85zM66.2 483.1h0.85v0.85h-0.85zM73.5 484.0h0.85v0.85h-0.85zM88.2 495.5h0.85v0.85h-0.85zM80.6 477.4h0.85v0.85h-0.85zM65.3 493.8h0.85v0.85h-0.85zM65.7 496.0h0.85v0.85h-0.85zM65.4 495.5h0.85v0.85h-0.85zM73.4 483.2h0.85v0.85h-0.85zM82.4 480.4h0.85v0.85h-0.85zM72.5 490.1h0.85v0.85h-0.85zM76.7 486.6h0.85v0.85h-0.85zM60.2 493.1h0.85v0.85h-0.85zM92.3 487.1h0.85v0.85h-0.85zM80.0 492.2h0.85v0.85h-0.85zM78.4 495.5h0.85v0.85h-0.85zM78.0 492.2h0.85v0.85h-0.85zM88.6 487.5h0.85v0.85h-0.85zM72.9 485.7h0.85v0.85h-0.85zM81.2 495.9h0.85v0.85h-0.85zM86.9 499.0h0.85v0.85h-0.85zM78.8 482.8h0.85v0.85h-0.85zM76.8 482.7h0.85v0.85h-0.85zM66.3 493.3h0.85v0.85h-0.85zM61.4 480.4h0.85v0.85h-0.85zM79.8 488.2h0.85v0.85h-0.85zM59.4 484.8h0.85v0.85h-0.85zM93.5 478.7h0.85v0.85h-0.85zM79.8 485.6h0.85v0.85h-0.85zM66.8 489.1h0.85v0.85h-0.85zM75.2 474.6h0.85v0.85h-0.85zM80.6 484.1h0.85v0.85h-0.85zM86.5 502.0h0.85v0.85h-0.85zM81.6 499.3h0.85v0.85h-0.85zM84.8 477.4h0.85v0.85h-0.85zM62.4 493.6h0.85v0.85h-0.85zM79.2 472.5h0.85v0.85h-0.85zM83.2 484.1h0.85v0.85h-0.85zM75.8 473.7h0.85v0.85h-0.85zM87.6 488.7h0.85v0.85h-0.85zM89.4 483.8h0.85v0.85h-0.85zM89.5 489.9h0.85v0.85h-0.85zM69.9 497.4h0.85v0.85h-0.85zM70.7 485.5h0.85v0.85h-0.85zM81.8 480.2h0.85v0.85h-0.85zM72.8 498.6h0.85v0.85h-0.85zM80.9 483.3h0.85v0.85h-0.85zM81.7 486.8h0.85v0.85h-0.85zM65.6 497.7h0.85v0.85h-0.85zM87.1 483.4h0.85v0.85h-0.85zM90.2 487.6h0.85v0.85h-0.85zM74.6 478.1h0.85v0.85h-0.85zM91.7 486.1h0.85v0.85h-0.85zM85.1 488.6h0.85v0.85h-0.85zM62.8 478.1h0.85v0.85h-0.85zM81.0 493.7h0.85v0.85h-0.85zM79.8 488.0h0.85v0.85h-0.85zM57.2 499.0h0.85v0.85h-0.85zM83.2 498.6h0.85v0.85h-0.85zM63.5 495.9h0.85v0.85h-0.85zM80.0 475.7h0.85v0.85h-0.85zM85.2 485.8h0.85v0.85h-0.85zM82.8 488.3h0.85v0.85h-0.85zM85.0 481.6h0.85v0.85h-0.85zM73.6 487.1h0.85v0.85h-0.85zM80.3 482.1h0.85v0.85h-0.85zM81.4 492.8h0.85v0.85h-0.85zM75.3 485.0h0.85v0.85h-0.85zM90.4 486.3h0.85v0.85h-0.85zM88.2 486.4h0.85v0.85h-0.85zM59.3 496.6h0.85v0.85h-0.85zM84.0 492.9h0.85v0.85h-0.85zM81.6 479.6h0.85v0.85h-0.85zM65.5 495.1h0.85v0.85h-0.85zM69.9 491.3h0.85v0.85h-0.85zM61.2 483.6h0.85v0.85h-0.85zM65.7 489.4h0.85v0.85h-0.85zM58.2 482.4h0.85v0.85h-0.85zM63.3 496.0h0.85v0.85h-0.85zM76.8 485.8h0.85v0.85h-0.85zM64.1 485.6h0.85v0.85h-0.85zM59.9 491.8h0.85v0.85h-0.85zM64.9 488.3h0.85v0.85h-0.85zM77.7 481.1h0.85v0.85h-0.85zM75.5 486.5h0.85v0.85h-0.85zM80.3 483.5h0.85v0.85h-0.85zM61.8 485.1h0.85v0.85h-0.85zM77.7 473.5h0.85v0.85h-0.85zM89.2 479.1h0.85v0.85h-0.85zM79.8 483.2h0.85v0.85h-0.85zM64.8 487.9h0.85v0.85h-0.85zM87.8 492.1h0.85v0.85h-0.85zM77.0 491.3h0.85v0.85h-0.85zM83.4 475.0h0.85v0.85h-0.85zM88.0 480.1h0.85v0.85h-0.85zM79.5 483.6h0.85v0.85h-0.85zM84.6 482.5h0.85v0.85h-0.85zM62.1 491.5h0.85v0.85h-0.85zM83.4 490.3h0.85v0.85h-0.85zM83.4 489.3h0.85v0.85h-0.85zM79.2 487.5h0.85v0.85h-0.85zM69.0 488.8h0.85v0.85h-0.85zM62.1 487.7h0.85v0.85h-0.85zM90.2 498.6h0.85v0.85h-0.85zM69.2 479.2h0.85v0.85h-0.85zM76.3 490.4h0.85v0.85h-0.85zM77.9 487.1h0.85v0.85h-0.85zM64.6 491.1h0.85v0.85h-0.85zM90.0 476.6h0.85v0.85h-0.85zM79.6 481.2h0.85v0.85h-0.85zM89.9 479.7h0.85v0.85h-0.85zM76.4 476.0h0.85v0.85h-0.85zM66.9 492.6h0.85v0.85h-0.85zM67.3 492.2h0.85v0.85h-0.85zM63.9 495.9h0.85v0.85h-0.85zM88.5 479.4h0.85v0.85h-0.85zM61.8 488.3h0.85v0.85h-0.85zM83.1 494.7h0.85v0.85h-0.85zM68.6 490.0h0.85v0.85h-0.85zM65.8 502.2h0.85v0.85h-0.85zM81.9 484.3h0.85v0.85h-0.85zM86.1 494.1h0.85v0.85h-0.85zM79.9 485.1h0.85v0.85h-0.85zM90.4 499.6h0.85v0.85h-0.85zM83.2 480.2h0.85v0.85h-0.85zM64.4 500.8h0.85v0.85h-0.85zM80.3 499.3h0.85v0.85h-0.85zM90.6 491.9h0.85v0.85h-0.85zM67.3 493.2h0.85v0.85h-0.85zM61.7 492.3h0.85v0.85h-0.85zM64.2 484.9h0.85v0.85h-0.85zM70.1 493.2h0.85v0.85h-0.85zM87.4 489.0h0.85v0.85h-0.85zM79.2 482.0h0.85v0.85h-0.85zM76.9 475.3h0.85v0.85h-0.85zM86.7 488.3h0.85v0.85h-0.85zM63.9 496.8h0.85v0.85h-0.85zM63.3 486.0h0.85v0.85h-0.85zM87.6 497.0h0.85v0.85h-0.85zM61.8 493.3h0.85v0.85h-0.85zM78.0 481.9h0.85v0.85h-0.85zM76.8 482.9h0.85v0.85h-0.85zM68.4 483.9h0.85v0.85h-0.85zM75.6 481.4h0.85v0.85h-0.85zM81.1 486.0h0.85v0.85h-0.85zM87.3 494.6h0.85v0.85h-0.85zM70.9 482.8h0.85v0.85h-0.85zM62.6 487.8h0.85v0.85h-0.85zM83.3 481.4h0.85v0.85h-0.85zM85.2 491.2h0.85v0.85h-0.85zM77.7 497.9h0.85v0.85h-0.85zM81.1 495.9h0.85v0.85h-0.85zM65.9 499.7h0.85v0.85h-0.85zM62.7 483.2h0.85v0.85h-0.85zM88.2 478.1h0.85v0.85h-0.85zM85.7 493.8h0.85v0.85h-0.85zM85.3 488.6h0.85v0.85h-0.85zM59.7 492.9h0.85v0.85h-0.85zM74.0 475.6h0.85v0.85h-0.85zM69.4 480.3h0.85v0.85h-0.85zM58.1 494.9h0.85v0.85h-0.85zM65.7 494.3h0.85v0.85h-0.85zM59.5 499.9h0.85v0.85h-0.85zM83.7 490.1h0.85v0.85h-0.85zM59.1 487.4h0.85v0.85h-0.85zM78.9 495.6h0.85v0.85h-0.85zM84.0 476.0h0.85v0.85h-0.85zM59.7 489.0h0.85v0.85h-0.85zM72.5 489.6h0.85v0.85h-0.85zM89.3 492.9h0.85v0.85h-0.85zM94.5 484.4h0.85v0.85h-0.85zM73.3 485.4h0.85v0.85h-0.85zM67.2 490.3h0.85v0.85h-0.85zM87.3 489.5h0.85v0.85h-0.85zM63.3 482.2h0.85v0.85h-0.85zM81.7 484.8h0.85v0.85h-0.85zM59.7 485.8h0.85v0.85h-0.85zM61.1 485.3h0.85v0.85h-0.85zM78.0 484.9h0.85v0.85h-0.85zM89.4 493.3h0.85v0.85h-0.85zM78.0 486.2h0.85v0.85h-0.85zM71.9 487.1h0.85v0.85h-0.85zM88.4 496.8h0.85v0.85h-0.85zM89.9 496.1h0.85v0.85h-0.85zM66.8 480.1h0.85v0.85h-0.85zM88.5 497.1h0.85v0.85h-0.85zM63.8 501.3h0.85v0.85h-0.85zM59.9 488.6h0.85v0.85h-0.85zM83.8 482.2h0.85v0.85h-0.85zM76.3 488.8h0.85v0.85h-0.85zM79.0 483.1h0.85v0.85h-0.85zM66.5 489.1h0.85v0.85h-0.85zM85.7 479.6h0.85v0.85h-0.85zM61.8 480.5h0.85v0.85h-0.85zM78.9 488.4h0.85v0.85h-0.85zM73.2 483.2h0.85v0.85h-0.85zM64.6 494.7h0.85v0.85h-0.85zM88.2 488.0h0.85v0.85h-0.85zM71.9 483.2h0.85v0.85h-0.85zM81.9 485.4h0.85v0.85h-0.85zM85.6 490.6h0.85v0.85h-0.85zM75.8 492.7h0.85v0.85h-0.85zM64.8 498.9h0.85v0.85h-0.85zM94.3 497.4h0.85v0.85h-0.85zM71.8 492.6h0.85v0.85h-0.85zM83.1 479.2h0.85v0.85h-0.85zM65.3 495.3h0.85v0.85h-0.85zM68.1 495.9h0.85v0.85h-0.85zM59.8 495.3h0.85v0.85h-0.85zM67.5 495.5h0.85v0.85h-0.85zM78.5 476.5h0.85v0.85h-0.85zM70.1 477.6h0.85v0.85h-0.85zM85.8 482.8h0.85v0.85h-0.85zM71.9 488.4h0.85v0.85h-0.85zM65.2 493.8h0.85v0.85h-0.85zM60.5 482.3h0.85v0.85h-0.85zM82.3 487.0h0.85v0.85h-0.85zM63.3 488.0h0.85v0.85h-0.85zM65.3 496.0h0.85v0.85h-0.85zM79.3 477.2h0.85v0.85h-0.85zM64.7 480.3h0.85v0.85h-0.85zM88.1 477.8h0.85v0.85h-0.85zM89.3 487.0h0.85v0.85h-0.85zM86.0 484.8h0.85v0.85h-0.85zM80.6 488.9h0.85v0.85h-0.85zM77.5 500.5h0.85v0.85h-0.85zM68.6 484.8h0.85v0.85h-0.85zM74.2 491.0h0.85v0.85h-0.85zM87.7 496.2h0.85v0.85h-0.85zM65.9 494.1h0.85v0.85h-0.85zM92.8 492.4h0.85v0.85h-0.85zM77.2 478.4h0.85v0.85h-0.85zM87.2 494.7h0.85v0.85h-0.85zM65.0 484.4h0.85v0.85h-0.85zM84.2 486.7h0.85v0.85h-0.85zM63.9 495.4h0.85v0.85h-0.85zM75.8 487.0h0.85v0.85h-0.85zM86.4 483.2h0.85v0.85h-0.85zM74.9 493.6h0.85v0.85h-0.85zM70.0 492.5h0.85v0.85h-0.85zM85.8 483.9h0.85v0.85h-0.85zM89.1 484.2h0.85v0.85h-0.85zM85.4 484.8h0.85v0.85h-0.85zM81.6 491.2h0.85v0.85h-0.85zM85.8 482.7h0.85v0.85h-0.85zM89.7 480.4h0.85v0.85h-0.85zM63.4 483.9h0.85v0.85h-0.85zM67.0 490.7h0.85v0.85h-0.85zM57.1 492.2h0.85v0.85h-0.85zM63.9 491.3h0.85v0.85h-0.85zM82.8 497.5h0.85v0.85h-0.85zM64.7 474.7h0.85v0.85h-0.85zM78.6 484.2h0.85v0.85h-0.85zM73.7 483.1h0.85v0.85h-0.85zM66.4 496.2h0.85v0.85h-0.85zM76.4 480.2h0.85v0.85h-0.85zM83.2 493.2h0.85v0.85h-0.85zM81.7 493.3h0.85v0.85h-0.85zM84.9 488.4h0.85v0.85h-0.85zM88.0 491.3h0.85v0.85h-0.85zM75.1 469.6h0.85v0.85h-0.85zM66.9 482.3h0.85v0.85h-0.85zM81.8 486.6h0.85v0.85h-0.85zM73.5 491.2h0.85v0.85h-0.85zM62.8 487.3h0.85v0.85h-0.85zM79.2 479.8h0.85v0.85h-0.85zM67.9 487.8h0.85v0.85h-0.85zM78.8 483.2h0.85v0.85h-0.85zM85.1 482.9h0.85v0.85h-0.85zM83.6 486.5h0.85v0.85h-0.85zM67.5 488.6h0.85v0.85h-0.85zM67.5 492.3h0.85v0.85h-0.85zM80.2 496.8h0.85v0.85h-0.85zM87.1 493.5h0.85v0.85h-0.85zM59.2 486.8h0.85v0.85h-0.85zM83.3 493.4h0.85v0.85h-0.85zM82.6 497.0h0.85v0.85h-0.85zM65.9 488.5h0.85v0.85h-0.85zM78.3 475.2h0.85v0.85h-0.85zM75.6 481.9h0.85v0.85h-0.85zM69.7 482.8h0.85v0.85h-0.85zM81.8 478.7h0.85v0.85h-0.85zM74.9 492.3h0.85v0.85h-0.85zM77.3 489.6h0.85v0.85h-0.85zM75.8 489.5h0.85v0.85h-0.85zM63.9 488.2h0.85v0.85h-0.85zM88.2 472.5h0.85v0.85h-0.85zM63.3 491.3h0.85v0.85h-0.85zM83.3 485.4h0.85v0.85h-0.85zM86.9 489.1h0.85v0.85h-0.85zM62.9 488.8h0.85v0.85h-0.85zM76.7 485.1h0.85v0.85h-0.85zM79.9 484.0h0.85v0.85h-0.85zM91.1 484.0h0.85v0.85h-0.85zM68.3 494.0h0.85v0.85h-0.85zM88.2 486.3h0.85v0.85h-0.85zM66.7 491.6h0.85v0.85h-0.85zM74.5 487.4h0.85v0.85h-0.85zM59.0 494.0h0.85v0.85h-0.85zM79.2 488.4h0.85v0.85h-0.85zM82.6 482.2h0.85v0.85h-0.85zM62.7 480.7h0.85v0.85h-0.85zM64.4 492.5h0.85v0.85h-0.85zM81.0 484.6h0.85v0.85h-0.85zM80.5 476.2h0.85v0.85h-0.85zM68.0 479.4h0.85v0.85h-0.85zM72.5 484.8h0.85v0.85h-0.85zM87.0 484.7h0.85v0.85h-0.85zM86.1 485.7h0.85v0.85h-0.85zM61.9 477.6h0.85v0.85h-0.85zM61.5 492.1h0.85v0.85h-0.85zM79.9 485.7h0.85v0.85h-0.85zM80.4 469.8h0.85v0.85h-0.85zM67.9 483.0h0.85v0.85h-0.85zM91.4 484.7h0.85v0.85h-0.85zM82.3 489.1h0.85v0.85h-0.85zM66.9 498.7h0.85v0.85h-0.85zM75.0 490.8h0.85v0.85h-0.85zM76.5 484.9h0.85v0.85h-0.85zM72.4 484.9h0.85v0.85h-0.85zM71.1 484.8h0.85v0.85h-0.85zM83.1 473.7h0.85v0.85h-0.85zM80.7 485.8h0.85v0.85h-0.85zM80.2 474.4h0.85v0.85h-0.85zM81.1 487.8h0.85v0.85h-0.85zM82.1 483.7h0.85v0.85h-0.85zM77.0 480.8h0.85v0.85h-0.85zM82.8 478.6h0.85v0.85h-0.85zM76.6 472.1h0.85v0.85h-0.85zM65.8 497.8h0.85v0.85h-0.85zM62.4 482.6h0.85v0.85h-0.85zM68.5 496.9h0.85v0.85h-0.85zM80.5 482.2h0.85v0.85h-0.85zM73.2 494.3h0.85v0.85h-0.85zM72.0 479.5h0.85v0.85h-0.85zM88.6 490.5h0.85v0.85h-0.85zM84.0 483.8h0.85v0.85h-0.85zM71.5 501.4h0.85v0.85h-0.85zM57.2 494.9h0.85v0.85h-0.85zM82.9 496.7h0.85v0.85h-0.85zM66.3 486.0h0.85v0.85h-0.85zM87.6 499.7h0.85v0.85h-0.85zM94.3 471.4h0.85v0.85h-0.85zM77.2 496.4h0.85v0.85h-0.85zM92.7 496.4h0.85v0.85h-0.85zM61.5 487.7h0.85v0.85h-0.85zM79.2 494.2h0.85v0.85h-0.85zM75.4 488.6h0.85v0.85h-0.85zM85.6 493.4h0.85v0.85h-0.85zM74.0 476.2h0.85v0.85h-0.85zM80.5 485.4h0.85v0.85h-0.85zM83.8 483.5h0.85v0.85h-0.85zM80.2 477.3h0.85v0.85h-0.85zM60.3 486.5h0.85v0.85h-0.85zM70.2 484.0h0.85v0.85h-0.85zM60.0 480.9h0.85v0.85h-0.85zM74.1 495.3h0.85v0.85h-0.85zM82.9 485.5h0.85v0.85h-0.85zM63.4 491.0h0.85v0.85h-0.85zM77.9 491.3h0.85v0.85h-0.85zM77.4 473.1h0.85v0.85h-0.85zM76.9 492.4h0.85v0.85h-0.85zM78.9 481.1h0.85v0.85h-0.85zM63.3 492.7h0.85v0.85h-0.85zM67.5 480.3h0.85v0.85h-0.85zM67.1 484.7h0.85v0.85h-0.85zM81.0 487.7h0.85v0.85h-0.85zM79.2 481.5h0.85v0.85h-0.85zM77.9 485.5h0.85v0.85h-0.85zM84.6 492.4h0.85v0.85h-0.85zM68.3 480.0h0.85v0.85h-0.85zM62.1 482.5h0.85v0.85h-0.85z" fill="#8a2282" opacity="0.36"/>
<path d="M67.2 495.7h0.85v0.85h-0.85zM88.8 489.2h0.85v0.85h-0.85zM82.5 495.5h0.85v0.85h-0.85zM79.7 482.1h0.85v0.85h-0.85zM86.5 482.0h0.85v0.85h-0.85zM88.0 489.8h0.85v0.85h-0.85zM81.4 481.3h0.85v0.85h-0.85zM87.6 480.8h0.85v0.85h-0.85zM64.6 495.7h0.85v0.85h-0.85zM75.3 493.1h0.85v0.85h-0.85zM85.1 487.7h0.85v0.85h-0.85zM78.6 483.3h0.85v0.85h-0.85zM78.2 476.5h0.85v0.85h-0.85zM80.6 493.1h0.85v0.85h-0.85zM72.3 476.3h0.85v0.85h-0.85zM65.8 480.1h0.85v0.85h-0.85zM61.9 494.2h0.85v0.85h-0.85zM66.0 495.2h0.85v0.85h-0.85zM90.9 481.3h0.85v0.85h-0.85zM76.2 493.6h0.85v0.85h-0.85zM87.3 482.0h0.85v0.85h-0.85zM84.1 476.6h0.85v0.85h-0.85zM58.9 482.9h0.85v0.85h-0.85zM75.1 479.3h0.85v0.85h-0.85zM93.6 471.4h0.85v0.85h-0.85zM69.4 498.6h0.85v0.85h-0.85zM84.4 482.7h0.85v0.85h-0.85zM64.5 491.8h0.85v0.85h-0.85zM63.3 494.2h0.85v0.85h-0.85zM66.1 489.5h0.85v0.85h-0.85zM78.9 491.8h0.85v0.85h-0.85zM86.9 484.7h0.85v0.85h-0.85zM79.7 487.7h0.85v0.85h-0.85zM80.3 483.2h0.85v0.85h-0.85zM57.3 483.0h0.85v0.85h-0.85zM64.9 486.3h0.85v0.85h-0.85zM79.4 483.0h0.85v0.85h-0.85zM75.2 475.5h0.85v0.85h-0.85zM77.8 486.3h0.85v0.85h-0.85zM80.5 491.0h0.85v0.85h-0.85zM80.2 495.0h0.85v0.85h-0.85zM58.4 479.2h0.85v0.85h-0.85zM76.4 483.7h0.85v0.85h-0.85zM71.8 485.3h0.85v0.85h-0.85zM63.5 493.9h0.85v0.85h-0.85zM81.1 485.1h0.85v0.85h-0.85zM82.9 487.5h0.85v0.85h-0.85zM86.5 479.4h0.85v0.85h-0.85zM61.2 490.4h0.85v0.85h-0.85zM83.0 480.3h0.85v0.85h-0.85zM65.6 496.1h0.85v0.85h-0.85zM63.0 477.5h0.85v0.85h-0.85zM85.8 492.1h0.85v0.85h-0.85zM80.7 480.2h0.85v0.85h-0.85zM81.5 492.0h0.85v0.85h-0.85zM64.9 500.7h0.85v0.85h-0.85zM71.2 476.6h0.85v0.85h-0.85zM73.6 479.2h0.85v0.85h-0.85zM83.7 474.2h0.85v0.85h-0.85zM82.2 471.2h0.85v0.85h-0.85zM73.6 495.9h0.85v0.85h-0.85zM76.5 480.2h0.85v0.85h-0.85zM69.3 486.4h0.85v0.85h-0.85zM58.9 481.5h0.85v0.85h-0.85zM86.6 476.8h0.85v0.85h-0.85zM65.3 496.0h0.85v0.85h-0.85zM64.2 482.9h0.85v0.85h-0.85zM62.8 477.7h0.85v0.85h-0.85zM85.0 481.2h0.85v0.85h-0.85zM76.3 489.0h0.85v0.85h-0.85zM75.7 479.1h0.85v0.85h-0.85zM66.3 479.5h0.85v0.85h-0.85zM66.1 491.0h0.85v0.85h-0.85zM60.0 496.3h0.85v0.85h-0.85zM84.0 486.1h0.85v0.85h-0.85zM79.4 493.8h0.85v0.85h-0.85zM69.4 486.3h0.85v0.85h-0.85zM77.6 483.3h0.85v0.85h-0.85zM78.7 493.5h0.85v0.85h-0.85zM84.6 481.6h0.85v0.85h-0.85zM81.4 470.5h0.85v0.85h-0.85zM78.7 481.1h0.85v0.85h-0.85zM61.1 481.6h0.85v0.85h-0.85zM93.8 487.4h0.85v0.85h-0.85zM65.5 493.8h0.85v0.85h-0.85zM87.8 491.7h0.85v0.85h-0.85zM67.6 495.9h0.85v0.85h-0.85zM78.8 493.1h0.85v0.85h-0.85zM67.2 488.6h0.85v0.85h-0.85zM83.0 471.1h0.85v0.85h-0.85zM76.7 483.3h0.85v0.85h-0.85zM78.7 495.2h0.85v0.85h-0.85zM57.7 492.8h0.85v0.85h-0.85zM68.4 483.7h0.85v0.85h-0.85zM89.1 499.7h0.85v0.85h-0.85zM89.4 478.5h0.85v0.85h-0.85zM66.7 495.0h0.85v0.85h-0.85zM77.8 479.4h0.85v0.85h-0.85zM67.4 485.3h0.85v0.85h-0.85zM77.4 477.8h0.85v0.85h-0.85zM61.7 484.9h0.85v0.85h-0.85zM63.8 501.9h0.85v0.85h-0.85zM59.7 499.2h0.85v0.85h-0.85zM63.4 489.3h0.85v0.85h-0.85zM78.5 493.4h0.85v0.85h-0.85zM77.5 475.5h0.85v0.85h-0.85zM89.7 498.5h0.85v0.85h-0.85zM59.7 489.4h0.85v0.85h-0.85zM74.9 482.3h0.85v0.85h-0.85zM86.8 490.5h0.85v0.85h-0.85zM85.2 486.8h0.85v0.85h-0.85zM84.7 479.3h0.85v0.85h-0.85zM87.7 496.1h0.85v0.85h-0.85zM83.3 490.6h0.85v0.85h-0.85zM66.5 485.6h0.85v0.85h-0.85zM68.3 479.6h0.85v0.85h-0.85zM80.7 491.4h0.85v0.85h-0.85zM84.9 477.0h0.85v0.85h-0.85zM83.6 489.3h0.85v0.85h-0.85zM62.8 478.7h0.85v0.85h-0.85zM73.2 477.4h0.85v0.85h-0.85zM71.7 492.8h0.85v0.85h-0.85zM88.7 491.4h0.85v0.85h-0.85zM74.1 479.4h0.85v0.85h-0.85zM69.0 499.0h0.85v0.85h-0.85zM90.8 497.0h0.85v0.85h-0.85zM64.1 488.6h0.85v0.85h-0.85zM84.1 485.8h0.85v0.85h-0.85zM75.5 486.8h0.85v0.85h-0.85zM73.2 498.2h0.85v0.85h-0.85zM78.6 491.1h0.85v0.85h-0.85zM60.0 499.9h0.85v0.85h-0.85zM74.7 477.2h0.85v0.85h-0.85zM78.5 494.9h0.85v0.85h-0.85zM71.6 485.4h0.85v0.85h-0.85zM66.7 485.4h0.85v0.85h-0.85zM78.2 487.7h0.85v0.85h-0.85zM73.0 493.6h0.85v0.85h-0.85zM79.9 477.8h0.85v0.85h-0.85zM62.6 494.4h0.85v0.85h-0.85zM84.5 488.1h0.85v0.85h-0.85zM69.3 495.5h0.85v0.85h-0.85zM91.8 497.2h0.85v0.85h-0.85zM64.4 491.0h0.85v0.85h-0.85zM70.4 471.6h0.85v0.85h-0.85zM79.0 480.6h0.85v0.85h-0.85zM61.5 488.9h0.85v0.85h-0.85zM60.7 483.8h0.85v0.85h-0.85zM74.6 475.9h0.85v0.85h-0.85zM86.0 491.2h0.85v0.85h-0.85zM65.0 485.5h0.85v0.85h-0.85zM87.8 487.6h0.85v0.85h-0.85zM63.9 490.9h0.85v0.85h-0.85zM77.8 493.5h0.85v0.85h-0.85zM58.8 488.6h0.85v0.85h-0.85zM80.4 473.3h0.85v0.85h-0.85zM85.9 475.6h0.85v0.85h-0.85zM60.9 479.1h0.85v0.85h-0.85zM61.9 493.2h0.85v0.85h-0.85zM82.8 486.2h0.85v0.85h-0.85zM62.3 485.7h0.85v0.85h-0.85zM63.8 488.7h0.85v0.85h-0.85zM62.2 483.3h0.85v0.85h-0.85zM76.4 486.1h0.85v0.85h-0.85zM83.0 485.3h0.85v0.85h-0.85zM80.4 495.8h0.85v0.85h-0.85zM78.7 499.5h0.85v0.85h-0.85zM72.1 493.9h0.85v0.85h-0.85zM81.5 474.3h0.85v0.85h-0.85zM64.2 497.4h0.85v0.85h-0.85zM77.1 491.1h0.85v0.85h-0.85zM62.3 488.0h0.85v0.85h-0.85zM69.1 482.4h0.85v0.85h-0.85zM94.7 476.1h0.85v0.85h-0.85zM91.1 487.1h0.85v0.85h-0.85zM85.5 485.3h0.85v0.85h-0.85zM91.2 480.0h0.85v0.85h-0.85zM64.4 490.3h0.85v0.85h-0.85zM80.2 484.5h0.85v0.85h-0.85zM66.4 496.1h0.85v0.85h-0.85zM85.6 485.6h0.85v0.85h-0.85zM64.8 489.8h0.85v0.85h-0.85zM78.2 493.1h0.85v0.85h-0.85zM76.0 490.9h0.85v0.85h-0.85zM76.5 486.3h0.85v0.85h-0.85zM81.3 477.9h0.85v0.85h-0.85zM82.9 480.1h0.85v0.85h-0.85zM74.0 488.4h0.85v0.85h-0.85zM72.6 473.5h0.85v0.85h-0.85zM74.6 492.4h0.85v0.85h-0.85zM88.6 486.4h0.85v0.85h-0.85zM60.5 481.3h0.85v0.85h-0.85zM82.3 493.9h0.85v0.85h-0.85zM80.4 480.2h0.85v0.85h-0.85zM88.4 480.7h0.85v0.85h-0.85zM61.5 489.6h0.85v0.85h-0.85zM83.0 481.6h0.85v0.85h-0.85zM82.6 481.9h0.85v0.85h-0.85zM70.1 488.0h0.85v0.85h-0.85zM80.8 489.3h0.85v0.85h-0.85zM95.2 484.2h0.85v0.85h-0.85zM62.8 485.9h0.85v0.85h-0.85zM83.7 477.2h0.85v0.85h-0.85zM81.9 481.1h0.85v0.85h-0.85zM79.0 489.1h0.85v0.85h-0.85zM79.8 478.2h0.85v0.85h-0.85zM83.4 471.4h0.85v0.85h-0.85zM76.3 484.1h0.85v0.85h-0.85zM92.7 489.3h0.85v0.85h-0.85zM79.2 489.5h0.85v0.85h-0.85zM75.5 500.4h0.85v0.85h-0.85zM70.7 489.8h0.85v0.85h-0.85zM82.0 478.7h0.85v0.85h-0.85zM85.7 483.2h0.85v0.85h-0.85zM75.1 485.5h0.85v0.85h-0.85zM79.5 471.6h0.85v0.85h-0.85zM82.5 482.1h0.85v0.85h-0.85zM82.0 495.6h0.85v0.85h-0.85zM66.9 483.9h0.85v0.85h-0.85zM84.3 497.3h0.85v0.85h-0.85zM63.1 492.5h0.85v0.85h-0.85zM64.6 482.9h0.85v0.85h-0.85zM81.0 487.2h0.85v0.85h-0.85zM78.2 481.3h0.85v0.85h-0.85zM73.5 472.5h0.85v0.85h-0.85zM72.1 494.3h0.85v0.85h-0.85zM64.6 488.4h0.85v0.85h-0.85zM68.6 484.8h0.85v0.85h-0.85zM83.8 487.3h0.85v0.85h-0.85zM74.6 487.8h0.85v0.85h-0.85zM63.3 488.8h0.85v0.85h-0.85zM57.2 496.6h0.85v0.85h-0.85zM79.7 491.4h0.85v0.85h-0.85zM65.7 497.8h0.85v0.85h-0.85zM61.9 492.0h0.85v0.85h-0.85zM87.2 477.0h0.85v0.85h-0.85zM69.8 493.0h0.85v0.85h-0.85zM76.1 477.0h0.85v0.85h-0.85zM79.5 491.6h0.85v0.85h-0.85zM60.9 497.4h0.85v0.85h-0.85zM74.2 471.6h0.85v0.85h-0.85zM72.9 494.8h0.85v0.85h-0.85zM74.6 472.5h0.85v0.85h-0.85zM88.4 482.1h0.85v0.85h-0.85zM80.4 483.6h0.85v0.85h-0.85zM65.5 485.3h0.85v0.85h-0.85zM84.1 480.2h0.85v0.85h-0.85zM62.5 496.2h0.85v0.85h-0.85zM88.2 482.5h0.85v0.85h-0.85zM83.6 500.3h0.85v0.85h-0.85zM80.2 481.3h0.85v0.85h-0.85zM80.0 493.7h0.85v0.85h-0.85zM63.4 499.6h0.85v0.85h-0.85zM68.6 495.5h0.85v0.85h-0.85zM76.5 474.2h0.85v0.85h-0.85zM84.8 474.1h0.85v0.85h-0.85zM60.5 482.8h0.85v0.85h-0.85zM86.5 476.2h0.85v0.85h-0.85zM82.9 489.9h0.85v0.85h-0.85zM92.4 497.8h0.85v0.85h-0.85zM68.9 492.7h0.85v0.85h-0.85zM88.4 488.4h0.85v0.85h-0.85zM61.7 493.4h0.85v0.85h-0.85zM67.5 492.0h0.85v0.85h-0.85zM64.0 481.5h0.85v0.85h-0.85zM62.8 488.7h0.85v0.85h-0.85zM94.0 491.2h0.85v0.85h-0.85zM90.7 490.9h0.85v0.85h-0.85zM69.4 493.8h0.85v0.85h-0.85zM79.1 492.3h0.85v0.85h-0.85zM81.0 484.3h0.85v0.85h-0.85zM72.2 496.0h0.85v0.85h-0.85zM58.5 502.6h0.85v0.85h-0.85zM91.3 476.4h0.85v0.85h-0.85zM88.6 481.3h0.85v0.85h-0.85zM79.5 486.3h0.85v0.85h-0.85zM65.2 488.1h0.85v0.85h-0.85zM82.4 500.3h0.85v0.85h-0.85zM81.5 479.5h0.85v0.85h-0.85zM65.9 497.9h0.85v0.85h-0.85zM75.0 498.4h0.85v0.85h-0.85zM62.5 492.4h0.85v0.85h-0.85zM82.3 481.3h0.85v0.85h-0.85zM87.2 481.6h0.85v0.85h-0.85zM88.6 475.9h0.85v0.85h-0.85zM76.3 496.4h0.85v0.85h-0.85zM68.8 490.1h0.85v0.85h-0.85zM82.2 487.5h0.85v0.85h-0.85zM60.1 498.8h0.85v0.85h-0.85zM68.0 490.8h0.85v0.85h-0.85zM89.1 484.8h0.85v0.85h-0.85zM84.8 483.4h0.85v0.85h-0.85zM80.4 487.3h0.85v0.85h-0.85zM84.9 483.2h0.85v0.85h-0.85zM76.7 481.4h0.85v0.85h-0.85zM60.5 486.7h0.85v0.85h-0.85zM79.0 475.9h0.85v0.85h-0.85zM82.2 490.3h0.85v0.85h-0.85zM80.9 479.1h0.85v0.85h-0.85zM60.6 496.9h0.85v0.85h-0.85zM66.3 485.1h0.85v0.85h-0.85zM85.5 483.2h0.85v0.85h-0.85zM91.6 484.7h0.85v0.85h-0.85zM89.6 493.4h0.85v0.85h-0.85zM82.1 493.4h0.85v0.85h-0.85zM80.0 497.4h0.85v0.85h-0.85zM66.0 495.0h0.85v0.85h-0.85zM66.5 483.5h0.85v0.85h-0.85zM84.0 497.9h0.85v0.85h-0.85zM72.4 484.8h0.85v0.85h-0.85zM80.1 494.7h0.85v0.85h-0.85zM83.1 489.3h0.85v0.85h-0.85zM62.8 492.5h0.85v0.85h-0.85zM65.8 494.5h0.85v0.85h-0.85zM89.8 471.7h0.85v0.85h-0.85zM64.0 489.9h0.85v0.85h-0.85zM77.6 489.4h0.85v0.85h-0.85zM79.0 495.2h0.85v0.85h-0.85zM62.3 489.8h0.85v0.85h-0.85zM80.5 497.0h0.85v0.85h-0.85zM77.5 496.7h0.85v0.85h-0.85zM80.7 478.5h0.85v0.85h-0.85zM61.1 496.3h0.85v0.85h-0.85zM78.1 476.6h0.85v0.85h-0.85zM85.2 471.4h0.85v0.85h-0.85zM77.3 489.0h0.85v0.85h-0.85zM81.6 477.1h0.85v0.85h-0.85zM69.6 484.9h0.85v0.85h-0.85zM65.5 486.2h0.85v0.85h-0.85zM73.7 478.8h0.85v0.85h-0.85zM85.3 479.6h0.85v0.85h-0.85zM71.3 492.2h0.85v0.85h-0.85zM90.3 494.3h0.85v0.85h-0.85zM68.5 478.0h0.85v0.85h-0.85zM87.6 470.2h0.85v0.85h-0.85zM74.3 482.2h0.85v0.85h-0.85zM66.1 485.2h0.85v0.85h-0.85zM75.6 488.0h0.85v0.85h-0.85zM77.7 499.2h0.85v0.85h-0.85zM80.0 477.9h0.85v0.85h-0.85zM76.7 487.8h0.85v0.85h-0.85zM79.2 478.3h0.85v0.85h-0.85zM73.9 481.4h0.85v0.85h-0.85zM57.2 493.4h0.85v0.85h-0.85zM88.4 490.2h0.85v0.85h-0.85zM78.6 492.6h0.85v0.85h-0.85zM62.5 486.8h0.85v0.85h-0.85zM63.2 493.3h0.85v0.85h-0.85zM87.2 482.8h0.85v0.85h-0.85zM67.7 478.2h0.85v0.85h-0.85zM63.6 501.1h0.85v0.85h-0.85zM83.5 497.0h0.85v0.85h-0.85zM88.4 485.7h0.85v0.85h-0.85zM73.0 488.0h0.85v0.85h-0.85zM61.8 479.1h0.85v0.85h-0.85zM74.0 474.0h0.85v0.85h-0.85zM92.0 480.1h0.85v0.85h-0.85zM85.9 490.9h0.85v0.85h-0.85zM77.3 489.1h0.85v0.85h-0.85zM73.6 483.4h0.85v0.85h-0.85zM72.7 480.7h0.85v0.85h-0.85zM67.4 492.4h0.85v0.85h-0.85zM81.4 490.6h0.85v0.85h-0.85zM72.4 490.1h0.85v0.85h-0.85zM91.9 488.6h0.85v0.85h-0.85zM72.4 478.0h0.85v0.85h-0.85zM79.9 475.1h0.85v0.85h-0.85zM79.6 493.0h0.85v0.85h-0.85zM91.3 483.2h0.85v0.85h-0.85zM64.9 483.9h0.85v0.85h-0.85zM91.0 478.5h0.85v0.85h-0.85zM93.1 496.1h0.85v0.85h-0.85zM71.4 485.6h0.85v0.85h-0.85zM73.2 486.4h0.85v0.85h-0.85zM60.7 484.3h0.85v0.85h-0.85zM64.6 490.6h0.85v0.85h-0.85zM76.7 486.8h0.85v0.85h-0.85zM88.3 495.9h0.85v0.85h-0.85zM69.3 484.4h0.85v0.85h-0.85zM59.4 489.9h0.85v0.85h-0.85zM84.9 488.7h0.85v0.85h-0.85zM88.3 477.0h0.85v0.85h-0.85zM61.7 501.2h0.85v0.85h-0.85zM80.9 478.3h0.85v0.85h-0.85zM81.4 475.1h0.85v0.85h-0.85zM79.3 483.4h0.85v0.85h-0.85zM93.0 476.1h0.85v0.85h-0.85zM82.4 487.7h0.85v0.85h-0.85zM68.8 485.9h0.85v0.85h-0.85zM75.2 481.1h0.85v0.85h-0.85zM60.7 492.5h0.85v0.85h-0.85zM76.5 482.2h0.85v0.85h-0.85zM79.6 480.2h0.85v0.85h-0.85zM77.2 489.8h0.85v0.85h-0.85zM58.9 489.7h0.85v0.85h-0.85zM60.4 486.7h0.85v0.85h-0.85zM83.2 482.7h0.85v0.85h-0.85zM75.7 492.6h0.85v0.85h-0.85zM64.7 490.9h0.85v0.85h-0.85zM88.5 499.6h0.85v0.85h-0.85zM59.3 488.9h0.85v0.85h-0.85zM78.4 484.3h0.85v0.85h-0.85zM64.0 490.8h0.85v0.85h-0.85zM66.5 487.5h0.85v0.85h-0.85zM63.6 489.9h0.85v0.85h-0.85zM67.1 492.1h0.85v0.85h-0.85zM85.3 490.7h0.85v0.85h-0.85zM89.4 479.8h0.85v0.85h-0.85zM59.2 486.1h0.85v0.85h-0.85zM65.1 483.1h0.85v0.85h-0.85zM62.1 495.7h0.85v0.85h-0.85zM86.6 484.8h0.85v0.85h-0.85zM84.7 478.7h0.85v0.85h-0.85zM87.2 481.4h0.85v0.85h-0.85zM84.1 480.0h0.85v0.85h-0.85zM89.6 492.4h0.85v0.85h-0.85zM72.8 489.3h0.85v0.85h-0.85zM85.7 487.8h0.85v0.85h-0.85zM60.8 501.7h0.85v0.85h-0.85zM71.2 477.2h0.85v0.85h-0.85zM87.5 482.3h0.85v0.85h-0.85zM74.1 480.8h0.85v0.85h-0.85zM71.9 483.7h0.85v0.85h-0.85zM61.8 495.7h0.85v0.85h-0.85zM63.0 479.7h0.85v0.85h-0.85zM58.8 488.6h0.85v0.85h-0.85zM71.1 484.0h0.85v0.85h-0.85zM84.8 479.8h0.85v0.85h-0.85zM66.5 491.3h0.85v0.85h-0.85zM87.2 474.8h0.85v0.85h-0.85zM61.8 487.3h0.85v0.85h-0.85zM57.0 493.4h0.85v0.85h-0.85zM80.2 475.6h0.85v0.85h-0.85zM91.6 484.9h0.85v0.85h-0.85zM63.2 490.5h0.85v0.85h-0.85zM84.3 494.6h0.85v0.85h-0.85zM79.1 481.7h0.85v0.85h-0.85zM85.2 483.9h0.85v0.85h-0.85zM82.3 499.4h0.85v0.85h-0.85zM94.8 481.8h0.85v0.85h-0.85zM79.1 485.2h0.85v0.85h-0.85zM85.7 480.7h0.85v0.85h-0.85zM65.0 488.6h0.85v0.85h-0.85zM83.3 494.4h0.85v0.85h-0.85zM71.6 472.2h0.85v0.85h-0.85zM94.8 475.4h0.85v0.85h-0.85zM64.7 488.0h0.85v0.85h-0.85zM63.7 498.6h0.85v0.85h-0.85zM70.6 501.6h0.85v0.85h-0.85zM64.9 492.4h0.85v0.85h-0.85zM71.8 489.9h0.85v0.85h-0.85zM69.2 490.0h0.85v0.85h-0.85zM91.0 497.7h0.85v0.85h-0.85zM83.2 478.7h0.85v0.85h-0.85zM67.0 496.1h0.85v0.85h-0.85zM64.9 486.5h0.85v0.85h-0.85zM62.1 490.6h0.85v0.85h-0.85zM66.3 480.7h0.85v0.85h-0.85zM76.6 496.0h0.85v0.85h-0.85zM79.9 493.7h0.85v0.85h-0.85zM82.4 480.3h0.85v0.85h-0.85zM85.7 471.5h0.85v0.85h-0.85zM64.7 485.3h0.85v0.85h-0.85zM67.9 491.3h0.85v0.85h-0.85zM71.1 480.6h0.85v0.85h-0.85zM85.2 479.8h0.85v0.85h-0.85zM62.6 481.9h0.85v0.85h-0.85zM67.0 493.9h0.85v0.85h-0.85zM79.9 475.1h0.85v0.85h-0.85zM71.2 495.7h0.85v0.85h-0.85zM95.2 492.3h0.85v0.85h-0.85zM94.5 478.7h0.85v0.85h-0.85zM87.3 473.5h0.85v0.85h-0.85zM82.5 483.3h0.85v0.85h-0.85zM70.2 487.2h0.85v0.85h-0.85zM89.4 501.0h0.85v0.85h-0.85zM71.6 495.2h0.85v0.85h-0.85zM78.3 478.2h0.85v0.85h-0.85zM95.3 474.0h0.85v0.85h-0.85zM62.6 497.7h0.85v0.85h-0.85zM82.2 487.1h0.85v0.85h-0.85zM81.3 473.2h0.85v0.85h-0.85zM76.7 486.6h0.85v0.85h-0.85zM64.7 496.3h0.85v0.85h-0.85zM63.8 493.0h0.85v0.85h-0.85zM83.5 483.9h0.85v0.85h-0.85zM79.9 495.0h0.85v0.85h-0.85zM84.2 482.3h0.85v0.85h-0.85zM90.2 492.2h0.85v0.85h-0.85zM90.1 491.2h0.85v0.85h-0.85zM78.0 494.2h0.85v0.85h-0.85zM93.0 477.1h0.85v0.85h-0.85zM79.0 490.6h0.85v0.85h-0.85zM85.9 483.8h0.85v0.85h-0.85zM63.5 492.3h0.85v0.85h-0.85zM85.4 488.4h0.85v0.85h-0.85zM84.5 471.9h0.85v0.85h-0.85zM84.0 475.9h0.85v0.85h-0.85zM64.9 491.3h0.85v0.85h-0.85zM78.5 480.0h0.85v0.85h-0.85zM86.6 483.6h0.85v0.85h-0.85zM63.1 493.0h0.85v0.85h-0.85zM64.9 491.4h0.85v0.85h-0.85zM84.1 501.2h0.85v0.85h-0.85zM89.5 476.4h0.85v0.85h-0.85zM74.8 472.8h0.85v0.85h-0.85zM61.1 493.6h0.85v0.85h-0.85zM64.5 484.7h0.85v0.85h-0.85zM80.5 486.2h0.85v0.85h-0.85zM77.2 478.7h0.85v0.85h-0.85zM86.2 485.8h0.85v0.85h-0.85zM64.3 502.7h0.85v0.85h-0.85zM84.8 484.6h0.85v0.85h-0.85zM77.8 484.2h0.85v0.85h-0.85zM77.7 492.4h0.85v0.85h-0.85zM78.3 485.2h0.85v0.85h-0.85zM64.2 483.7h0.85v0.85h-0.85zM62.9 494.2h0.85v0.85h-0.85zM66.2 497.7h0.85v0.85h-0.85zM84.0 487.0h0.85v0.85h-0.85zM78.6 494.8h0.85v0.85h-0.85zM71.4 494.8h0.85v0.85h-0.85zM63.2 483.7h0.85v0.85h-0.85zM82.0 495.8h0.85v0.85h-0.85zM68.0 487.4h0.85v0.85h-0.85zM94.8 486.0h0.85v0.85h-0.85zM78.2 476.0h0.85v0.85h-0.85zM86.9 485.2h0.85v0.85h-0.85zM80.1 493.1h0.85v0.85h-0.85zM78.5 479.1h0.85v0.85h-0.85zM80.2 475.1h0.85v0.85h-0.85zM62.3 497.9h0.85v0.85h-0.85zM77.4 485.9h0.85v0.85h-0.85zM86.1 475.4h0.85v0.85h-0.85zM80.4 482.8h0.85v0.85h-0.85zM61.9 501.0h0.85v0.85h-0.85zM83.4 491.2h0.85v0.85h-0.85zM81.8 484.3h0.85v0.85h-0.85zM63.5 496.1h0.85v0.85h-0.85zM72.9 485.0h0.85v0.85h-0.85zM78.8 481.7h0.85v0.85h-0.85zM59.6 501.5h0.85v0.85h-0.85zM75.3 479.4h0.85v0.85h-0.85zM74.1 489.1h0.85v0.85h-0.85zM78.8 482.2h0.85v0.85h-0.85zM64.9 488.0h0.85v0.85h-0.85zM83.3 478.0h0.85v0.85h-0.85zM62.6 498.8h0.85v0.85h-0.85zM90.4 496.1h0.85v0.85h-0.85zM95.1 482.9h0.85v0.85h-0.85zM80.9 481.7h0.85v0.85h-0.85zM87.3 479.5h0.85v0.85h-0.85zM65.3 499.9h0.85v0.85h-0.85zM65.7 483.8h0.85v0.85h-0.85zM75.7 500.1h0.85v0.85h-0.85zM78.3 491.0h0.85v0.85h-0.85zM70.1 498.3h0.85v0.85h-0.85zM81.6 489.3h0.85v0.85h-0.85zM76.8 485.9h0.85v0.85h-0.85zM69.7 486.4h0.85v0.85h-0.85z" fill="#a03a98" opacity="0.36"/>
<path d="M83.0 488.7h0.85v0.85h-0.85zM73.0 485.7h0.85v0.85h-0.85zM62.7 485.5h0.85v0.85h-0.85zM88.4 476.4h0.85v0.85h-0.85zM67.3 494.7h0.85v0.85h-0.85zM62.9 497.6h0.85v0.85h-0.85zM62.0 487.9h0.85v0.85h-0.85zM87.7 496.0h0.85v0.85h-0.85zM82.4 495.3h0.85v0.85h-0.85zM61.3 491.3h0.85v0.85h-0.85zM86.0 498.2h0.85v0.85h-0.85zM64.1 495.7h0.85v0.85h-0.85zM81.1 495.2h0.85v0.85h-0.85zM77.0 487.9h0.85v0.85h-0.85zM65.1 488.1h0.85v0.85h-0.85zM60.6 494.7h0.85v0.85h-0.85zM86.8 486.3h0.85v0.85h-0.85zM65.1 489.9h0.85v0.85h-0.85zM66.5 482.0h0.85v0.85h-0.85zM76.9 485.5h0.85v0.85h-0.85zM67.9 480.7h0.85v0.85h-0.85zM91.8 493.3h0.85v0.85h-0.85zM76.2 487.6h0.85v0.85h-0.85zM61.1 489.0h0.85v0.85h-0.85zM62.8 482.5h0.85v0.85h-0.85zM90.7 490.8h0.85v0.85h-0.85zM78.6 479.6h0.85v0.85h-0.85zM87.3 490.2h0.85v0.85h-0.85zM90.1 492.6h0.85v0.85h-0.85zM67.7 500.1h0.85v0.85h-0.85zM81.2 485.1h0.85v0.85h-0.85zM80.0 491.5h0.85v0.85h-0.85zM85.0 488.7h0.85v0.85h-0.85zM80.9 480.0h0.85v0.85h-0.85zM85.8 488.0h0.85v0.85h-0.85zM89.2 479.9h0.85v0.85h-0.85zM86.3 485.4h0.85v0.85h-0.85zM87.6 487.0h0.85v0.85h-0.85zM81.9 493.8h0.85v0.85h-0.85zM80.4 486.1h0.85v0.85h-0.85zM71.3 489.4h0.85v0.85h-0.85zM71.4 490.2h0.85v0.85h-0.85zM77.8 478.8h0.85v0.85h-0.85zM81.4 477.7h0.85v0.85h-0.85zM74.2 483.3h0.85v0.85h-0.85zM94.5 492.4h0.85v0.85h-0.85zM89.2 489.7h0.85v0.85h-0.85zM89.7 482.6h0.85v0.85h-0.85zM78.3 491.7h0.85v0.85h-0.85zM62.8 496.0h0.85v0.85h-0.85zM80.0 487.5h0.85v0.85h-0.85zM79.4 467.9h0.85v0.85h-0.85zM84.3 488.1h0.85v0.85h-0.85zM81.1 483.3h0.85v0.85h-0.85zM74.3 479.6h0.85v0.85h-0.85zM62.5 492.0h0.85v0.85h-0.85zM91.0 498.7h0.85v0.85h-0.85zM80.2 479.9h0.85v0.85h-0.85zM80.9 492.6h0.85v0.85h-0.85zM80.4 495.0h0.85v0.85h-0.85zM83.1 493.2h0.85v0.85h-0.85zM84.1 482.5h0.85v0.85h-0.85zM71.9 483.3h0.85v0.85h-0.85zM68.5 482.0h0.85v0.85h-0.85zM89.5 484.9h0.85v0.85h-0.85zM75.4 484.8h0.85v0.85h-0.85zM63.5 485.5h0.85v0.85h-0.85zM76.0 482.7h0.85v0.85h-0.85zM72.5 473.1h0.85v0.85h-0.85zM80.9 486.7h0.85v0.85h-0.85zM64.8 495.9h0.85v0.85h-0.85zM78.9 482.3h0.85v0.85h-0.85zM64.1 494.4h0.85v0.85h-0.85zM79.7 475.2h0.85v0.85h-0.85zM67.7 494.3h0.85v0.85h-0.85zM83.4 474.4h0.85v0.85h-0.85zM79.8 486.3h0.85v0.85h-0.85zM69.0 494.0h0.85v0.85h-0.85zM60.4 485.7h0.85v0.85h-0.85zM81.0 482.8h0.85v0.85h-0.85zM80.8 491.3h0.85v0.85h-0.85zM62.7 481.1h0.85v0.85h-0.85zM92.1 496.7h0.85v0.85h-0.85zM61.3 492.4h0.85v0.85h-0.85zM76.5 478.7h0.85v0.85h-0.85zM58.7 489.7h0.85v0.85h-0.85zM59.8 484.0h0.85v0.85h-0.85zM60.0 482.9h0.85v0.85h-0.85zM69.3 487.2h0.85v0.85h-0.85zM74.8 476.6h0.85v0.85h-0.85zM87.7 479.7h0.85v0.85h-0.85zM62.5 486.6h0.85v0.85h-0.85zM89.8 487.5h0.85v0.85h-0.85zM79.2 474.5h0.85v0.85h-0.85zM75.8 485.3h0.85v0.85h-0.85zM60.1 480.3h0.85v0.85h-0.85zM61.1 488.4h0.85v0.85h-0.85zM86.3 491.7h0.85v0.85h-0.85zM82.3 476.9h0.85v0.85h-0.85zM74.2 473.8h0.85v0.85h-0.85zM63.5 490.9h0.85v0.85h-0.85zM62.1 491.3h0.85v0.85h-0.85zM64.0 499.7h0.85v0.85h-0.85zM82.5 490.2h0.85v0.85h-0.85zM78.4 486.3h0.85v0.85h-0.85zM82.7 485.9h0.85v0.85h-0.85zM63.1 487.6h0.85v0.85h-0.85zM63.7 492.4h0.85v0.85h-0.85zM76.5 491.2h0.85v0.85h-0.85zM60.9 485.0h0.85v0.85h-0.85zM81.3 489.4h0.85v0.85h-0.85zM89.1 498.3h0.85v0.85h-0.85zM81.0 487.3h0.85v0.85h-0.85zM84.7 493.6h0.85v0.85h-0.85zM67.7 498.5h0.85v0.85h-0.85zM87.5 487.6h0.85v0.85h-0.85zM67.1 486.2h0.85v0.85h-0.85zM63.3 495.0h0.85v0.85h-0.85zM78.0 490.2h0.85v0.85h-0.85zM90.5 479.6h0.85v0.85h-0.85zM86.4 492.0h0.85v0.85h-0.85zM77.5 492.9h0.85v0.85h-0.85zM58.0 479.7h0.85v0.85h-0.85zM95.2 480.9h0.85v0.85h-0.85zM91.9 473.8h0.85v0.85h-0.85zM80.1 472.4h0.85v0.85h-0.85zM79.2 476.9h0.85v0.85h-0.85zM83.8 489.7h0.85v0.85h-0.85zM74.1 488.1h0.85v0.85h-0.85zM77.6 489.6h0.85v0.85h-0.85zM87.9 472.8h0.85v0.85h-0.85zM80.4 502.5h0.85v0.85h-0.85zM61.9 490.2h0.85v0.85h-0.85zM61.8 492.4h0.85v0.85h-0.85zM83.5 494.4h0.85v0.85h-0.85zM64.0 490.9h0.85v0.85h-0.85zM64.7 485.0h0.85v0.85h-0.85zM63.6 494.8h0.85v0.85h-0.85zM82.3 479.8h0.85v0.85h-0.85zM79.4 482.2h0.85v0.85h-0.85zM63.6 485.9h0.85v0.85h-0.85zM64.9 496.5h0.85v0.85h-0.85zM63.1 488.8h0.85v0.85h-0.85zM82.5 495.1h0.85v0.85h-0.85zM66.2 497.5h0.85v0.85h-0.85zM61.6 493.1h0.85v0.85h-0.85zM79.1 485.7h0.85v0.85h-0.85zM73.1 489.0h0.85v0.85h-0.85zM82.2 478.6h0.85v0.85h-0.85zM60.6 482.7h0.85v0.85h-0.85zM89.3 493.1h0.85v0.85h-0.85zM62.5 494.5h0.85v0.85h-0.85zM75.4 492.9h0.85v0.85h-0.85zM58.6 491.7h0.85v0.85h-0.85zM81.4 494.1h0.85v0.85h-0.85zM86.8 478.1h0.85v0.85h-0.85zM65.9 495.2h0.85v0.85h-0.85zM65.2 498.7h0.85v0.85h-0.85zM60.4 478.8h0.85v0.85h-0.85zM62.5 488.7h0.85v0.85h-0.85zM85.4 473.8h0.85v0.85h-0.85zM77.3 498.3h0.85v0.85h-0.85zM90.3 476.5h0.85v0.85h-0.85zM87.4 495.5h0.85v0.85h-0.85zM62.6 494.4h0.85v0.85h-0.85zM91.4 492.5h0.85v0.85h-0.85zM85.0 482.9h0.85v0.85h-0.85zM67.4 491.9h0.85v0.85h-0.85zM80.0 485.8h0.85v0.85h-0.85zM83.2 485.3h0.85v0.85h-0.85zM76.3 481.2h0.85v0.85h-0.85zM62.6 490.7h0.85v0.85h-0.85zM71.3 481.7h0.85v0.85h-0.85zM75.9 484.3h0.85v0.85h-0.85zM71.6 487.3h0.85v0.85h-0.85zM87.4 502.7h0.85v0.85h-0.85zM58.7 490.6h0.85v0.85h-0.85zM84.2 498.4h0.85v0.85h-0.85zM91.7 490.0h0.85v0.85h-0.85zM78.5 494.4h0.85v0.85h-0.85zM61.2 478.3h0.85v0.85h-0.85zM63.9 492.6h0.85v0.85h-0.85zM71.5 481.8h0.85v0.85h-0.85zM61.8 486.6h0.85v0.85h-0.85zM68.5 493.8h0.85v0.85h-0.85zM72.2 483.7h0.85v0.85h-0.85zM83.8 474.2h0.85v0.85h-0.85zM87.9 472.2h0.85v0.85h-0.85zM76.9 477.2h0.85v0.85h-0.85zM66.5 499.0h0.85v0.85h-0.85zM76.1 476.1h0.85v0.85h-0.85zM84.8 487.3h0.85v0.85h-0.85zM86.2 483.8h0.85v0.85h-0.85zM62.5 497.4h0.85v0.85h-0.85zM90.2 489.6h0.85v0.85h-0.85zM79.2 486.7h0.85v0.85h-0.85zM75.9 491.4h0.85v0.85h-0.85zM84.0 489.5h0.85v0.85h-0.85zM64.8 490.6h0.85v0.85h-0.85zM76.5 474.9h0.85v0.85h-0.85zM59.2 495.7h0.85v0.85h-0.85zM81.9 496.0h0.85v0.85h-0.85zM62.9 484.6h0.85v0.85h-0.85zM87.2 487.1h0.85v0.85h-0.85zM67.4 487.3h0.85v0.85h-0.85zM78.8 477.7h0.85v0.85h-0.85zM79.5 472.6h0.85v0.85h-0.85zM73.7 477.2h0.85v0.85h-0.85zM83.4 471.6h0.85v0.85h-0.85zM62.3 492.2h0.85v0.85h-0.85zM86.6 480.7h0.85v0.85h-0.85zM60.0 491.6h0.85v0.85h-0.85zM78.7 490.3h0.85v0.85h-0.85zM79.4 485.9h0.85v0.85h-0.85zM76.0 479.4h0.85v0.85h-0.85zM63.5 488.6h0.85v0.85h-0.85zM65.6 498.8h0.85v0.85h-0.85zM87.1 484.3h0.85v0.85h-0.85zM80.7 480.6h0.85v0.85h-0.85zM60.2 498.8h0.85v0.85h-0.85zM85.0 483.7h0.85v0.85h-0.85zM59.3 496.6h0.85v0.85h-0.85zM68.4 499.1h0.85v0.85h-0.85zM78.8 496.5h0.85v0.85h-0.85zM89.0 486.2h0.85v0.85h-0.85zM57.1 500.7h0.85v0.85h-0.85zM83.8 483.0h0.85v0.85h-0.85zM80.6 488.4h0.85v0.85h-0.85zM85.6 481.6h0.85v0.85h-0.85zM92.6 483.2h0.85v0.85h-0.85zM77.7 485.1h0.85v0.85h-0.85zM86.5 498.4h0.85v0.85h-0.85zM66.5 489.0h0.85v0.85h-0.85zM83.4 493.1h0.85v0.85h-0.85zM65.2 501.7h0.85v0.85h-0.85zM81.3 486.7h0.85v0.85h-0.85zM75.2 478.1h0.85v0.85h-0.85zM59.8 502.0h0.85v0.85h-0.85zM62.4 488.6h0.85v0.85h-0.85zM80.2 492.3h0.85v0.85h-0.85zM79.1 492.5h0.85v0.85h-0.85zM75.1 483.4h0.85v0.85h-0.85zM81.6 479.6h0.85v0.85h-0.85zM61.9 489.8h0.85v0.85h-0.85zM78.0 482.3h0.85v0.85h-0.85zM72.8 478.4h0.85v0.85h-0.85zM65.9 484.5h0.85v0.85h-0.85zM82.5 492.7h0.85v0.85h-0.85zM76.3 476.5h0.85v0.85h-0.85zM82.2 479.6h0.85v0.85h-0.85zM89.3 476.6h0.85v0.85h-0.85zM82.8 487.5h0.85v0.85h-0.85zM85.3 489.2h0.85v0.85h-0.85zM78.9 476.8h0.85v0.85h-0.85zM62.5 487.2h0.85v0.85h-0.85zM78.6 485.8h0.85v0.85h-0.85zM82.1 479.3h0.85v0.85h-0.85zM59.8 494.6h0.85v0.85h-0.85zM73.0 485.5h0.85v0.85h-0.85zM80.9 493.3h0.85v0.85h-0.85zM67.2 496.0h0.85v0.85h-0.85zM88.2 495.4h0.85v0.85h-0.85zM60.3 498.5h0.85v0.85h-0.85zM81.8 491.0h0.85v0.85h-0.85zM74.0 487.2h0.85v0.85h-0.85zM87.8 493.1h0.85v0.85h-0.85zM89.0 486.4h0.85v0.85h-0.85zM77.0 493.9h0.85v0.85h-0.85zM79.3 479.6h0.85v0.85h-0.85zM65.4 484.3h0.85v0.85h-0.85zM80.6 493.9h0.85v0.85h-0.85zM84.6 482.4h0.85v0.85h-0.85zM82.6 470.6h0.85v0.85h-0.85zM75.5 484.5h0.85v0.85h-0.85zM86.6 492.0h0.85v0.85h-0.85zM70.8 487.3h0.85v0.85h-0.85zM82.9 472.9h0.85v0.85h-0.85zM86.7 490.9h0.85v0.85h-0.85zM89.5 482.6h0.85v0.85h-0.85zM66.9 486.4h0.85v0.85h-0.85zM61.3 486.5h0.85v0.85h-0.85zM63.1 490.0h0.85v0.85h-0.85zM93.9 473.9h0.85v0.85h-0.85zM75.5 500.5h0.85v0.85h-0.85zM76.2 480.1h0.85v0.85h-0.85zM64.5 485.6h0.85v0.85h-0.85zM82.9 481.9h0.85v0.85h-0.85zM81.0 489.2h0.85v0.85h-0.85zM64.1 489.6h0.85v0.85h-0.85zM74.0 498.1h0.85v0.85h-0.85zM79.0 494.8h0.85v0.85h-0.85zM62.2 479.8h0.85v0.85h-0.85zM60.2 487.9h0.85v0.85h-0.85zM78.2 483.3h0.85v0.85h-0.85zM59.2 484.9h0.85v0.85h-0.85zM83.4 477.4h0.85v0.85h-0.85zM85.8 481.0h0.85v0.85h-0.85zM83.2 489.8h0.85v0.85h-0.85zM67.7 486.3h0.85v0.85h-0.85zM62.4 484.8h0.85v0.85h-0.85zM87.2 490.9h0.85v0.85h-0.85zM78.0 480.2h0.85v0.85h-0.85zM61.8 481.0h0.85v0.85h-0.85zM69.7 494.3h0.85v0.85h-0.85zM88.6 472.8h0.85v0.85h-0.85zM82.9 483.2h0.85v0.85h-0.85zM81.5 474.0h0.85v0.85h-0.85zM74.7 490.0h0.85v0.85h-0.85zM76.8 484.5h0.85v0.85h-0.85zM87.9 483.1h0.85v0.85h-0.85zM90.4 481.6h0.85v0.85h-0.85zM63.6 493.9h0.85v0.85h-0.85zM83.7 485.0h0.85v0.85h-0.85zM85.7 482.9h0.85v0.85h-0.85zM79.8 475.5h0.85v0.85h-0.85zM75.8 484.0h0.85v0.85h-0.85zM88.4 489.8h0.85v0.85h-0.85zM64.0 487.2h0.85v0.85h-0.85zM62.2 487.4h0.85v0.85h-0.85zM86.9 487.5h0.85v0.85h-0.85zM78.9 481.1h0.85v0.85h-0.85zM82.3 473.1h0.85v0.85h-0.85zM66.1 491.6h0.85v0.85h-0.85zM64.4 498.0h0.85v0.85h-0.85zM62.1 491.3h0.85v0.85h-0.85zM70.4 474.9h0.85v0.85h-0.85zM79.9 495.0h0.85v0.85h-0.85zM84.2 489.3h0.85v0.85h-0.85zM63.4 474.0h0.85v0.85h-0.85zM78.5 497.6h0.85v0.85h-0.85zM61.6 495.4h0.85v0.85h-0.85zM95.0 495.6h0.85v0.85h-0.85zM66.8 495.4h0.85v0.85h-0.85zM75.0 484.0h0.85v0.85h-0.85zM82.8 476.9h0.85v0.85h-0.85zM66.6 492.9h0.85v0.85h-0.85zM64.1 480.3h0.85v0.85h-0.85zM83.8 481.4h0.85v0.85h-0.85zM80.6 483.0h0.85v0.85h-0.85zM67.2 490.0h0.85v0.85h-0.85zM83.3 485.6h0.85v0.85h-0.85zM82.8 476.9h0.85v0.85h-0.85zM91.7 487.7h0.85v0.85h-0.85zM79.1 488.8h0.85v0.85h-0.85zM87.5 500.6h0.85v0.85h-0.85zM83.3 499.2h0.85v0.85h-0.85zM81.1 486.5h0.85v0.85h-0.85zM86.9 482.1h0.85v0.85h-0.85zM61.8 490.3h0.85v0.85h-0.85zM63.1 490.9h0.85v0.85h-0.85zM80.6 485.9h0.85v0.85h-0.85zM87.7 494.1h0.85v0.85h-0.85zM80.7 482.5h0.85v0.85h-0.85zM74.1 492.5h0.85v0.85h-0.85zM74.2 484.5h0.85v0.85h-0.85zM73.8 477.8h0.85v0.85h-0.85zM83.9 478.0h0.85v0.85h-0.85zM78.0 475.5h0.85v0.85h-0.85zM76.3 482.0h0.85v0.85h-0.85zM77.2 490.6h0.85v0.85h-0.85zM61.0 495.6h0.85v0.85h-0.85zM85.3 495.8h0.85v0.85h-0.85zM75.4 489.0h0.85v0.85h-0.85zM85.9 492.9h0.85v0.85h-0.85zM86.1 493.4h0.85v0.85h-0.85zM77.6 488.6h0.85v0.85h-0.85zM91.5 478.6h0.85v0.85h-0.85zM76.9 467.7h0.85v0.85h-0.85zM85.4 485.4h0.85v0.85h-0.85zM59.5 491.0h0.85v0.85h-0.85zM70.3 476.1h0.85v0.85h-0.85zM87.9 477.3h0.85v0.85h-0.85zM64.0 490.1h0.85v0.85h-0.85zM66.4 480.6h0.85v0.85h-0.85zM74.6 484.7h0.85v0.85h-0.85zM69.1 490.4h0.85v0.85h-0.85zM86.7 488.9h0.85v0.85h-0.85zM70.6 495.7h0.85v0.85h-0.85zM82.2 471.8h0.85v0.85h-0.85zM85.9 477.1h0.85v0.85h-0.85zM61.8 487.8h0.85v0.85h-0.85zM80.7 486.3h0.85v0.85h-0.85zM69.2 479.0h0.85v0.85h-0.85zM78.2 494.5h0.85v0.85h-0.85zM78.1 482.1h0.85v0.85h-0.85zM81.9 483.0h0.85v0.85h-0.85zM65.4 487.2h0.85v0.85h-0.85zM91.5 478.3h0.85v0.85h-0.85zM59.0 497.0h0.85v0.85h-0.85zM66.2 492.9h0.85v0.85h-0.85zM74.3 492.9h0.85v0.85h-0.85zM68.7 491.0h0.85v0.85h-0.85zM82.1 497.9h0.85v0.85h-0.85zM77.8 474.9h0.85v0.85h-0.85zM82.7 473.4h0.85v0.85h-0.85zM58.8 481.0h0.85v0.85h-0.85zM62.9 491.4h0.85v0.85h-0.85zM92.5 472.9h0.85v0.85h-0.85zM75.2 496.3h0.85v0.85h-0.85zM79.3 489.3h0.85v0.85h-0.85zM80.5 483.2h0.85v0.85h-0.85zM65.2 494.0h0.85v0.85h-0.85zM72.3 481.4h0.85v0.85h-0.85zM82.9 490.4h0.85v0.85h-0.85zM71.1 477.2h0.85v0.85h-0.85zM90.1 487.5h0.85v0.85h-0.85zM74.2 497.9h0.85v0.85h-0.85zM84.1 488.9h0.85v0.85h-0.85zM76.8 487.6h0.85v0.85h-0.85zM71.4 475.5h0.85v0.85h-0.85zM73.3 491.5h0.85v0.85h-0.85zM77.9 495.9h0.85v0.85h-0.85zM68.5 491.1h0.85v0.85h-0.85zM85.3 482.6h0.85v0.85h-0.85zM75.9 495.9h0.85v0.85h-0.85zM64.9 492.3h0.85v0.85h-0.85zM78.7 490.9h0.85v0.85h-0.85zM83.1 471.8h0.85v0.85h-0.85zM63.3 473.3h0.85v0.85h-0.85zM79.9 496.6h0.85v0.85h-0.85zM81.6 484.2h0.85v0.85h-0.85zM78.8 490.8h0.85v0.85h-0.85zM78.1 482.6h0.85v0.85h-0.85zM87.3 482.3h0.85v0.85h-0.85zM83.3 478.8h0.85v0.85h-0.85zM78.7 477.9h0.85v0.85h-0.85zM60.5 488.2h0.85v0.85h-0.85zM73.0 488.6h0.85v0.85h-0.85zM77.2 476.4h0.85v0.85h-0.85zM70.2 485.7h0.85v0.85h-0.85zM71.2 482.9h0.85v0.85h-0.85zM67.5 495.1h0.85v0.85h-0.85zM83.2 484.0h0.85v0.85h-0.85zM81.4 490.5h0.85v0.85h-0.85zM64.3 490.3h0.85v0.85h-0.85zM86.7 484.9h0.85v0.85h-0.85zM80.8 473.6h0.85v0.85h-0.85zM67.8 490.2h0.85v0.85h-0.85zM75.1 478.7h0.85v0.85h-0.85zM93.7 474.6h0.85v0.85h-0.85zM64.2 488.5h0.85v0.85h-0.85zM86.9 486.4h0.85v0.85h-0.85zM81.4 490.4h0.85v0.85h-0.85zM83.0 480.8h0.85v0.85h-0.85zM80.6 490.0h0.85v0.85h-0.85zM84.6 483.5h0.85v0.85h-0.85zM66.8 487.5h0.85v0.85h-0.85zM64.6 494.0h0.85v0.85h-0.85zM84.2 477.2h0.85v0.85h-0.85zM83.2 482.1h0.85v0.85h-0.85zM80.4 486.9h0.85v0.85h-0.85zM83.8 495.3h0.85v0.85h-0.85zM81.5 480.6h0.85v0.85h-0.85zM77.2 484.6h0.85v0.85h-0.85zM86.3 489.0h0.85v0.85h-0.85zM61.9 469.6h0.85v0.85h-0.85zM60.8 491.3h0.85v0.85h-0.85zM62.9 496.9h0.85v0.85h-0.85zM78.9 484.0h0.85v0.85h-0.85zM77.7 480.4h0.85v0.85h-0.85zM86.8 479.7h0.85v0.85h-0.85zM90.2 479.4h0.85v0.85h-0.85zM87.5 495.4h0.85v0.85h-0.85zM75.6 491.1h0.85v0.85h-0.85zM86.6 489.7h0.85v0.85h-0.85zM65.4 492.5h0.85v0.85h-0.85zM83.5 483.7h0.85v0.85h-0.85zM88.7 498.6h0.85v0.85h-0.85zM79.3 489.3h0.85v0.85h-0.85zM79.9 484.2h0.85v0.85h-0.85zM84.6 488.9h0.85v0.85h-0.85zM87.1 482.9h0.85v0.85h-0.85zM72.4 486.1h0.85v0.85h-0.85zM71.6 487.6h0.85v0.85h-0.85zM88.0 498.7h0.85v0.85h-0.85zM83.9 488.6h0.85v0.85h-0.85zM82.8 483.4h0.85v0.85h-0.85zM82.4 487.8h0.85v0.85h-0.85zM70.9 479.8h0.85v0.85h-0.85zM81.9 489.0h0.85v0.85h-0.85zM73.2 495.8h0.85v0.85h-0.85zM74.3 488.8h0.85v0.85h-0.85zM75.3 489.5h0.85v0.85h-0.85zM70.9 484.4h0.85v0.85h-0.85zM77.6 491.5h0.85v0.85h-0.85zM78.9 494.3h0.85v0.85h-0.85zM84.9 496.3h0.85v0.85h-0.85zM77.7 472.9h0.85v0.85h-0.85zM65.7 484.0h0.85v0.85h-0.85zM61.2 495.3h0.85v0.85h-0.85zM65.3 491.1h0.85v0.85h-0.85zM90.5 496.7h0.85v0.85h-0.85zM76.0 477.4h0.85v0.85h-0.85zM79.1 485.4h0.85v0.85h-0.85zM64.2 496.8h0.85v0.85h-0.85zM88.0 490.8h0.85v0.85h-0.85zM83.0 481.5h0.85v0.85h-0.85zM83.4 486.0h0.85v0.85h-0.85zM82.3 482.5h0.85v0.85h-0.85zM81.0 484.1h0.85v0.85h-0.85zM82.6 502.4h0.85v0.85h-0.85zM72.4 490.9h0.85v0.85h-0.85zM90.6 477.2h0.85v0.85h-0.85zM73.0 484.4h0.85v0.85h-0.85zM84.2 491.6h0.85v0.85h-0.85zM62.5 497.7h0.85v0.85h-0.85zM79.2 489.0h0.85v0.85h-0.85zM67.5 499.7h0.85v0.85h-0.85zM90.5 485.4h0.85v0.85h-0.85zM73.9 494.9h0.85v0.85h-0.85zM87.9 489.0h0.85v0.85h-0.85zM65.8 495.2h0.85v0.85h-0.85zM76.2 485.8h0.85v0.85h-0.85zM70.1 486.2h0.85v0.85h-0.85zM59.9 498.4h0.85v0.85h-0.85zM75.4 480.4h0.85v0.85h-0.85zM79.1 468.7h0.85v0.85h-0.85zM65.5 486.5h0.85v0.85h-0.85zM89.5 492.3h0.85v0.85h-0.85zM57.3 482.2h0.85v0.85h-0.85zM66.7 496.1h0.85v0.85h-0.85zM60.2 495.4h0.85v0.85h-0.85zM77.6 479.7h0.85v0.85h-0.85zM68.2 493.1h0.85v0.85h-0.85zM80.7 481.0h0.85v0.85h-0.85zM77.4 484.7h0.85v0.85h-0.85zM65.5 485.2h0.85v0.85h-0.85zM90.0 490.9h0.85v0.85h-0.85zM79.8 499.6h0.85v0.85h-0.85zM85.1 492.6h0.85v0.85h-0.85zM80.5 491.7h0.85v0.85h-0.85zM91.4 485.1h0.85v0.85h-0.85zM82.6 496.7h0.85v0.85h-0.85zM71.6 480.2h0.85v0.85h-0.85zM79.4 478.8h0.85v0.85h-0.85zM73.2 474.3h0.85v0.85h-0.85zM90.5 499.0h0.85v0.85h-0.85zM78.8 475.9h0.85v0.85h-0.85zM73.7 488.1h0.85v0.85h-0.85zM76.6 486.8h0.85v0.85h-0.85zM78.7 495.6h0.85v0.85h-0.85zM84.6 492.2h0.85v0.85h-0.85zM84.4 493.1h0.85v0.85h-0.85zM63.0 493.7h0.85v0.85h-0.85zM61.1 485.9h0.85v0.85h-0.85zM65.2 484.9h0.85v0.85h-0.85zM88.0 487.5h0.85v0.85h-0.85zM73.8 496.3h0.85v0.85h-0.85zM65.4 496.7h0.85v0.85h-0.85zM64.3 498.6h0.85v0.85h-0.85zM89.7 488.3h0.85v0.85h-0.85zM59.0 486.8h0.85v0.85h-0.85zM80.2 498.6h0.85v0.85h-0.85zM73.6 490.6h0.85v0.85h-0.85zM83.4 486.7h0.85v0.85h-0.85zM63.6 480.5h0.85v0.85h-0.85zM67.1 478.7h0.85v0.85h-0.85z" fill="#b455aa" opacity="0.36"/>
<path d="M79.0 484.1h0.85v0.85h-0.85zM76.5 493.1h0.85v0.85h-0.85zM78.2 474.5h0.85v0.85h-0.85zM60.6 498.1h0.85v0.85h-0.85zM68.2 480.4h0.85v0.85h-0.85zM81.5 491.3h0.85v0.85h-0.85zM92.0 471.2h0.85v0.85h-0.85zM75.1 491.2h0.85v0.85h-0.85zM67.3 490.2h0.85v0.85h-0.85zM90.8 481.3h0.85v0.85h-0.85zM68.0 492.1h0.85v0.85h-0.85zM67.4 500.9h0.85v0.85h-0.85zM81.5 478.4h0.85v0.85h-0.85zM68.7 494.8h0.85v0.85h-0.85zM79.8 485.3h0.85v0.85h-0.85zM73.3 488.4h0.85v0.85h-0.85zM65.3 487.6h0.85v0.85h-0.85zM64.5 486.9h0.85v0.85h-0.85zM80.8 483.9h0.85v0.85h-0.85zM73.4 483.3h0.85v0.85h-0.85zM81.7 486.3h0.85v0.85h-0.85zM61.4 489.1h0.85v0.85h-0.85zM72.0 489.3h0.85v0.85h-0.85zM71.6 473.8h0.85v0.85h-0.85zM70.4 483.1h0.85v0.85h-0.85zM62.9 488.9h0.85v0.85h-0.85zM76.8 478.3h0.85v0.85h-0.85zM62.8 485.6h0.85v0.85h-0.85zM89.6 502.0h0.85v0.85h-0.85zM80.0 477.3h0.85v0.85h-0.85zM62.7 497.0h0.85v0.85h-0.85zM82.8 483.2h0.85v0.85h-0.85zM68.8 494.0h0.85v0.85h-0.85zM89.5 497.8h0.85v0.85h-0.85zM84.0 483.6h0.85v0.85h-0.85zM81.5 494.7h0.85v0.85h-0.85zM79.4 483.0h0.85v0.85h-0.85zM75.4 487.6h0.85v0.85h-0.85zM63.7 491.8h0.85v0.85h-0.85zM86.1 480.7h0.85v0.85h-0.85zM71.2 491.7h0.85v0.85h-0.85zM62.2 490.7h0.85v0.85h-0.85zM84.1 484.8h0.85v0.85h-0.85zM60.6 484.4h0.85v0.85h-0.85zM85.6 501.1h0.85v0.85h-0.85zM86.8 487.0h0.85v0.85h-0.85zM83.4 483.0h0.85v0.85h-0.85zM76.4 477.5h0.85v0.85h-0.85zM62.5 491.4h0.85v0.85h-0.85zM82.3 484.3h0.85v0.85h-0.85zM76.3 479.7h0.85v0.85h-0.85zM81.7 494.5h0.85v0.85h-0.85zM61.5 494.0h0.85v0.85h-0.85zM60.1 485.8h0.85v0.85h-0.85zM77.3 484.2h0.85v0.85h-0.85zM63.9 496.9h0.85v0.85h-0.85zM69.1 487.8h0.85v0.85h-0.85zM58.8 500.6h0.85v0.85h-0.85zM75.4 482.4h0.85v0.85h-0.85zM68.2 496.2h0.85v0.85h-0.85zM57.9 496.5h0.85v0.85h-0.85zM72.2 481.9h0.85v0.85h-0.85zM82.0 483.5h0.85v0.85h-0.85zM64.5 495.0h0.85v0.85h-0.85zM79.2 491.2h0.85v0.85h-0.85zM88.2 484.7h0.85v0.85h-0.85zM62.4 490.3h0.85v0.85h-0.85zM61.0 492.0h0.85v0.85h-0.85zM84.2 473.6h0.85v0.85h-0.85zM73.2 480.4h0.85v0.85h-0.85zM71.7 484.2h0.85v0.85h-0.85zM91.4 485.0h0.85v0.85h-0.85zM70.1 491.0h0.85v0.85h-0.85zM63.1 499.3h0.85v0.85h-0.85zM74.3 492.5h0.85v0.85h-0.85zM59.9 482.6h0.85v0.85h-0.85zM63.7 479.5h0.85v0.85h-0.85zM87.6 487.1h0.85v0.85h-0.85zM76.9 491.9h0.85v0.85h-0.85zM84.5 481.6h0.85v0.85h-0.85zM79.3 489.6h0.85v0.85h-0.85zM80.8 480.6h0.85v0.85h-0.85zM65.0 479.6h0.85v0.85h-0.85zM79.7 486.9h0.85v0.85h-0.85zM86.6 494.0h0.85v0.85h-0.85zM81.6 501.1h0.85v0.85h-0.85zM80.1 481.0h0.85v0.85h-0.85zM63.3 491.4h0.85v0.85h-0.85zM80.1 486.3h0.85v0.85h-0.85zM73.3 474.2h0.85v0.85h-0.85zM77.5 489.8h0.85v0.85h-0.85zM77.8 479.7h0.85v0.85h-0.85zM83.5 481.4h0.85v0.85h-0.85zM78.2 476.3h0.85v0.85h-0.85zM83.4 488.2h0.85v0.85h-0.85zM76.7 496.6h0.85v0.85h-0.85zM84.4 479.0h0.85v0.85h-0.85zM68.8 493.3h0.85v0.85h-0.85zM69.0 483.4h0.85v0.85h-0.85zM67.6 495.5h0.85v0.85h-0.85zM77.6 495.5h0.85v0.85h-0.85zM75.4 476.6h0.85v0.85h-0.85zM88.0 473.8h0.85v0.85h-0.85zM88.1 490.7h0.85v0.85h-0.85zM73.3 478.0h0.85v0.85h-0.85zM84.7 501.0h0.85v0.85h-0.85zM67.7 494.2h0.85v0.85h-0.85zM70.7 470.0h0.85v0.85h-0.85zM69.2 494.1h0.85v0.85h-0.85zM71.0 486.3h0.85v0.85h-0.85zM81.4 488.2h0.85v0.85h-0.85zM73.2 485.0h0.85v0.85h-0.85zM81.7 488.3h0.85v0.85h-0.85zM88.1 472.1h0.85v0.85h-0.85zM89.2 493.6h0.85v0.85h-0.85zM66.2 497.8h0.85v0.85h-0.85zM85.2 477.2h0.85v0.85h-0.85zM66.6 492.6h0.85v0.85h-0.85zM65.9 488.4h0.85v0.85h-0.85zM75.3 489.3h0.85v0.85h-0.85zM60.1 484.7h0.85v0.85h-0.85zM84.1 494.8h0.85v0.85h-0.85zM75.5 495.1h0.85v0.85h-0.85zM58.0 489.2h0.85v0.85h-0.85zM89.2 483.1h0.85v0.85h-0.85zM74.6 492.0h0.85v0.85h-0.85zM91.7 486.1h0.85v0.85h-0.85zM64.1 481.9h0.85v0.85h-0.85zM71.2 484.2h0.85v0.85h-0.85zM90.4 488.5h0.85v0.85h-0.85zM67.3 488.7h0.85v0.85h-0.85zM69.0 483.4h0.85v0.85h-0.85zM94.4 486.3h0.85v0.85h-0.85zM87.0 492.0h0.85v0.85h-0.85zM60.3 488.2h0.85v0.85h-0.85zM70.0 481.6h0.85v0.85h-0.85zM76.7 486.3h0.85v0.85h-0.85zM91.7 494.0h0.85v0.85h-0.85zM78.1 499.8h0.85v0.85h-0.85zM68.7 492.2h0.85v0.85h-0.85zM80.0 479.5h0.85v0.85h-0.85zM80.1 470.5h0.85v0.85h-0.85zM79.7 489.5h0.85v0.85h-0.85zM81.4 491.4h0.85v0.85h-0.85zM81.9 486.0h0.85v0.85h-0.85zM86.8 491.4h0.85v0.85h-0.85zM72.7 474.8h0.85v0.85h-0.85zM67.2 487.7h0.85v0.85h-0.85zM81.5 489.8h0.85v0.85h-0.85zM79.8 487.0h0.85v0.85h-0.85zM83.0 486.7h0.85v0.85h-0.85zM65.0 495.5h0.85v0.85h-0.85zM61.5 482.4h0.85v0.85h-0.85zM61.1 499.4h0.85v0.85h-0.85zM75.1 493.1h0.85v0.85h-0.85zM80.9 494.8h0.85v0.85h-0.85zM88.6 483.1h0.85v0.85h-0.85zM76.6 472.0h0.85v0.85h-0.85zM79.0 489.3h0.85v0.85h-0.85zM75.6 477.0h0.85v0.85h-0.85zM77.0 479.9h0.85v0.85h-0.85zM78.2 474.0h0.85v0.85h-0.85zM84.8 501.6h0.85v0.85h-0.85zM79.0 492.5h0.85v0.85h-0.85zM77.2 493.6h0.85v0.85h-0.85zM74.9 495.6h0.85v0.85h-0.85zM80.8 482.6h0.85v0.85h-0.85zM78.2 490.1h0.85v0.85h-0.85zM62.9 496.7h0.85v0.85h-0.85zM63.5 496.6h0.85v0.85h-0.85zM82.0 477.0h0.85v0.85h-0.85zM75.0 476.3h0.85v0.85h-0.85zM80.1 487.6h0.85v0.85h-0.85zM72.0 489.7h0.85v0.85h-0.85zM69.1 490.6h0.85v0.85h-0.85zM72.6 497.7h0.85v0.85h-0.85zM86.6 489.7h0.85v0.85h-0.85zM63.4 496.0h0.85v0.85h-0.85zM79.8 488.2h0.85v0.85h-0.85zM67.0 478.2h0.85v0.85h-0.85zM67.5 488.3h0.85v0.85h-0.85zM62.7 496.5h0.85v0.85h-0.85zM90.4 489.6h0.85v0.85h-0.85zM80.6 501.3h0.85v0.85h-0.85zM65.0 481.6h0.85v0.85h-0.85zM89.7 475.4h0.85v0.85h-0.85zM64.8 493.6h0.85v0.85h-0.85zM78.2 484.5h0.85v0.85h-0.85zM83.4 492.1h0.85v0.85h-0.85zM86.6 487.7h0.85v0.85h-0.85zM63.1 493.0h0.85v0.85h-0.85zM70.1 481.0h0.85v0.85h-0.85zM86.4 482.9h0.85v0.85h-0.85zM78.1 489.4h0.85v0.85h-0.85zM71.6 492.1h0.85v0.85h-0.85zM87.2 482.5h0.85v0.85h-0.85zM64.5 482.8h0.85v0.85h-0.85zM72.1 474.6h0.85v0.85h-0.85zM57.7 491.1h0.85v0.85h-0.85zM88.2 468.9h0.85v0.85h-0.85zM65.0 481.6h0.85v0.85h-0.85zM73.9 480.1h0.85v0.85h-0.85zM79.7 497.8h0.85v0.85h-0.85zM87.9 478.5h0.85v0.85h-0.85zM88.1 502.7h0.85v0.85h-0.85zM62.9 478.8h0.85v0.85h-0.85zM81.1 479.4h0.85v0.85h-0.85zM76.1 475.9h0.85v0.85h-0.85zM63.9 488.2h0.85v0.85h-0.85zM90.3 483.9h0.85v0.85h-0.85zM89.1 480.5h0.85v0.85h-0.85zM71.7 482.9h0.85v0.85h-0.85zM63.0 497.1h0.85v0.85h-0.85zM64.6 488.3h0.85v0.85h-0.85zM66.9 499.5h0.85v0.85h-0.85zM61.3 482.5h0.85v0.85h-0.85zM68.0 483.6h0.85v0.85h-0.85zM67.1 498.5h0.85v0.85h-0.85zM70.3 489.1h0.85v0.85h-0.85zM74.7 491.1h0.85v0.85h-0.85zM77.6 486.1h0.85v0.85h-0.85zM79.6 486.4h0.85v0.85h-0.85zM61.0 489.6h0.85v0.85h-0.85zM72.5 483.9h0.85v0.85h-0.85zM63.2 486.4h0.85v0.85h-0.85zM85.5 485.9h0.85v0.85h-0.85zM61.2 498.1h0.85v0.85h-0.85zM84.0 489.3h0.85v0.85h-0.85zM89.7 479.7h0.85v0.85h-0.85zM58.6 485.7h0.85v0.85h-0.85zM86.6 491.9h0.85v0.85h-0.85zM63.5 490.8h0.85v0.85h-0.85zM73.9 469.2h0.85v0.85h-0.85zM61.0 482.3h0.85v0.85h-0.85zM78.4 481.1h0.85v0.85h-0.85zM83.0 489.6h0.85v0.85h-0.85zM83.0 488.6h0.85v0.85h-0.85zM67.7 484.4h0.85v0.85h-0.85zM85.5 489.5h0.85v0.85h-0.85zM93.6 477.3h0.85v0.85h-0.85zM82.9 498.5h0.85v0.85h-0.85zM80.7 482.4h0.85v0.85h-0.85zM84.4 475.4h0.85v0.85h-0.85zM78.6 487.0h0.85v0.85h-0.85zM66.1 489.0h0.85v0.85h-0.85zM90.6 491.4h0.85v0.85h-0.85zM74.1 501.4h0.85v0.85h-0.85zM71.2 500.4h0.85v0.85h-0.85zM67.5 484.5h0.85v0.85h-0.85zM74.7 495.3h0.85v0.85h-0.85zM64.3 502.9h0.85v0.85h-0.85zM77.4 482.8h0.85v0.85h-0.85zM78.3 483.6h0.85v0.85h-0.85zM83.5 497.9h0.85v0.85h-0.85zM86.8 488.9h0.85v0.85h-0.85zM83.6 476.4h0.85v0.85h-0.85zM61.0 502.3h0.85v0.85h-0.85zM86.1 497.6h0.85v0.85h-0.85zM58.9 501.7h0.85v0.85h-0.85zM65.5 494.1h0.85v0.85h-0.85zM83.0 502.9h0.85v0.85h-0.85zM68.7 474.2h0.85v0.85h-0.85zM61.6 485.8h0.85v0.85h-0.85zM61.7 499.7h0.85v0.85h-0.85zM74.4 481.8h0.85v0.85h-0.85zM73.5 494.1h0.85v0.85h-0.85zM80.7 491.9h0.85v0.85h-0.85zM59.9 494.3h0.85v0.85h-0.85zM85.2 480.0h0.85v0.85h-0.85zM74.1 486.6h0.85v0.85h-0.85zM79.7 495.0h0.85v0.85h-0.85zM75.6 488.9h0.85v0.85h-0.85zM82.6 476.6h0.85v0.85h-0.85zM65.5 495.8h0.85v0.85h-0.85zM75.2 486.5h0.85v0.85h-0.85zM70.5 485.8h0.85v0.85h-0.85zM87.0 484.1h0.85v0.85h-0.85zM75.1 490.2h0.85v0.85h-0.85zM70.8 473.4h0.85v0.85h-0.85zM81.8 484.6h0.85v0.85h-0.85zM61.0 486.7h0.85v0.85h-0.85zM80.1 477.4h0.85v0.85h-0.85zM61.2 498.3h0.85v0.85h-0.85zM88.2 479.6h0.85v0.85h-0.85zM80.5 489.4h0.85v0.85h-0.85zM80.3 479.4h0.85v0.85h-0.85zM73.3 485.0h0.85v0.85h-0.85zM85.3 479.4h0.85v0.85h-0.85zM88.7 501.3h0.85v0.85h-0.85zM68.5 482.3h0.85v0.85h-0.85zM80.8 479.7h0.85v0.85h-0.85zM77.7 476.2h0.85v0.85h-0.85zM69.8 482.9h0.85v0.85h-0.85zM80.3 493.1h0.85v0.85h-0.85zM80.2 485.1h0.85v0.85h-0.85zM68.2 490.1h0.85v0.85h-0.85zM72.5 485.3h0.85v0.85h-0.85zM60.4 486.6h0.85v0.85h-0.85zM85.8 495.9h0.85v0.85h-0.85zM76.4 487.2h0.85v0.85h-0.85zM66.8 495.4h0.85v0.85h-0.85zM93.0 496.1h0.85v0.85h-0.85zM91.9 479.6h0.85v0.85h-0.85zM86.9 498.7h0.85v0.85h-0.85zM83.8 485.6h0.85v0.85h-0.85zM77.2 490.2h0.85v0.85h-0.85zM64.2 495.4h0.85v0.85h-0.85zM67.5 479.1h0.85v0.85h-0.85zM89.2 472.0h0.85v0.85h-0.85zM85.8 485.0h0.85v0.85h-0.85zM75.7 483.4h0.85v0.85h-0.85zM65.8 483.1h0.85v0.85h-0.85zM63.6 491.1h0.85v0.85h-0.85zM65.5 497.8h0.85v0.85h-0.85zM77.6 477.1h0.85v0.85h-0.85zM86.4 480.0h0.85v0.85h-0.85zM93.4 495.4h0.85v0.85h-0.85zM83.3 482.1h0.85v0.85h-0.85zM85.1 493.4h0.85v0.85h-0.85zM77.0 482.8h0.85v0.85h-0.85zM60.8 478.9h0.85v0.85h-0.85zM84.3 496.3h0.85v0.85h-0.85zM81.1 485.6h0.85v0.85h-0.85zM81.6 501.9h0.85v0.85h-0.85zM63.7 492.4h0.85v0.85h-0.85zM72.3 475.6h0.85v0.85h-0.85zM74.1 480.5h0.85v0.85h-0.85zM72.6 474.1h0.85v0.85h-0.85zM73.7 487.6h0.85v0.85h-0.85zM73.5 473.5h0.85v0.85h-0.85zM63.8 499.5h0.85v0.85h-0.85zM89.0 484.0h0.85v0.85h-0.85zM84.0 486.9h0.85v0.85h-0.85zM78.1 485.3h0.85v0.85h-0.85zM77.1 482.1h0.85v0.85h-0.85zM86.9 491.0h0.85v0.85h-0.85zM65.4 486.7h0.85v0.85h-0.85zM87.9 486.1h0.85v0.85h-0.85zM59.5 485.2h0.85v0.85h-0.85zM82.4 481.2h0.85v0.85h-0.85zM64.1 483.0h0.85v0.85h-0.85zM87.6 474.2h0.85v0.85h-0.85zM78.4 494.3h0.85v0.85h-0.85zM69.9 492.8h0.85v0.85h-0.85zM66.6 480.6h0.85v0.85h-0.85zM66.2 491.1h0.85v0.85h-0.85zM93.9 489.6h0.85v0.85h-0.85zM65.0 493.8h0.85v0.85h-0.85zM78.8 499.0h0.85v0.85h-0.85zM70.9 491.1h0.85v0.85h-0.85zM81.2 497.3h0.85v0.85h-0.85zM83.5 473.2h0.85v0.85h-0.85zM79.9 481.5h0.85v0.85h-0.85zM78.6 491.3h0.85v0.85h-0.85zM81.3 486.3h0.85v0.85h-0.85zM80.5 482.2h0.85v0.85h-0.85zM83.6 479.7h0.85v0.85h-0.85zM85.6 484.7h0.85v0.85h-0.85zM74.4 494.0h0.85v0.85h-0.85zM89.1 494.3h0.85v0.85h-0.85zM59.9 485.8h0.85v0.85h-0.85zM84.6 491.0h0.85v0.85h-0.85zM63.6 486.7h0.85v0.85h-0.85zM75.4 477.9h0.85v0.85h-0.85zM81.8 474.2h0.85v0.85h-0.85zM61.6 501.7h0.85v0.85h-0.85zM79.1 490.3h0.85v0.85h-0.85zM78.5 487.0h0.85v0.85h-0.85zM79.5 479.9h0.85v0.85h-0.85zM82.0 495.1h0.85v0.85h-0.85zM86.4 482.5h0.85v0.85h-0.85zM81.2 483.9h0.85v0.85h-0.85zM72.7 475.2h0.85v0.85h-0.85zM79.5 486.5h0.85v0.85h-0.85zM78.0 477.4h0.85v0.85h-0.85zM76.8 491.6h0.85v0.85h-0.85zM78.4 496.0h0.85v0.85h-0.85zM79.8 477.6h0.85v0.85h-0.85zM90.7 489.5h0.85v0.85h-0.85zM63.6 495.9h0.85v0.85h-0.85zM84.5 474.5h0.85v0.85h-0.85zM83.3 479.3h0.85v0.85h-0.85zM69.7 481.5h0.85v0.85h-0.85zM74.7 492.6h0.85v0.85h-0.85zM79.9 490.3h0.85v0.85h-0.85zM78.2 487.9h0.85v0.85h-0.85zM66.1 493.8h0.85v0.85h-0.85zM78.9 489.3h0.85v0.85h-0.85zM67.2 482.5h0.85v0.85h-0.85zM77.5 497.7h0.85v0.85h-0.85zM70.7 491.2h0.85v0.85h-0.85zM80.2 485.2h0.85v0.85h-0.85zM77.2 488.9h0.85v0.85h-0.85zM73.4 488.9h0.85v0.85h-0.85zM73.1 483.6h0.85v0.85h-0.85zM68.8 487.4h0.85v0.85h-0.85zM80.7 486.9h0.85v0.85h-0.85zM66.1 494.6h0.85v0.85h-0.85zM71.4 481.2h0.85v0.85h-0.85zM83.2 486.3h0.85v0.85h-0.85zM82.6 488.0h0.85v0.85h-0.85zM60.1 501.4h0.85v0.85h-0.85zM69.0 485.5h0.85v0.85h-0.85zM79.7 482.2h0.85v0.85h-0.85zM67.9 495.8h0.85v0.85h-0.85zM71.3 487.6h0.85v0.85h-0.85zM78.4 494.0h0.85v0.85h-0.85zM87.7 498.2h0.85v0.85h-0.85zM81.3 482.4h0.85v0.85h-0.85zM81.6 478.3h0.85v0.85h-0.85zM61.7 487.1h0.85v0.85h-0.85zM71.6 487.6h0.85v0.85h-0.85zM65.2 477.3h0.85v0.85h-0.85zM70.6 499.1h0.85v0.85h-0.85zM72.6 501.8h0.85v0.85h-0.85zM63.6 485.6h0.85v0.85h-0.85zM68.9 495.9h0.85v0.85h-0.85zM80.1 486.9h0.85v0.85h-0.85zM83.8 479.7h0.85v0.85h-0.85zM84.6 487.6h0.85v0.85h-0.85zM68.3 499.2h0.85v0.85h-0.85zM76.3 484.9h0.85v0.85h-0.85zM56.8 493.2h0.85v0.85h-0.85zM80.9 486.4h0.85v0.85h-0.85zM88.7 469.1h0.85v0.85h-0.85zM94.3 482.1h0.85v0.85h-0.85zM78.7 492.0h0.85v0.85h-0.85zM64.6 495.7h0.85v0.85h-0.85zM64.7 487.8h0.85v0.85h-0.85zM62.2 501.5h0.85v0.85h-0.85zM78.9 486.3h0.85v0.85h-0.85zM74.5 492.9h0.85v0.85h-0.85zM76.0 482.0h0.85v0.85h-0.85zM71.2 476.9h0.85v0.85h-0.85zM76.5 484.3h0.85v0.85h-0.85zM81.4 488.9h0.85v0.85h-0.85zM61.9 500.0h0.85v0.85h-0.85zM75.7 484.8h0.85v0.85h-0.85zM83.9 496.1h0.85v0.85h-0.85zM81.0 490.2h0.85v0.85h-0.85zM65.9 478.5h0.85v0.85h-0.85zM69.6 496.9h0.85v0.85h-0.85zM79.2 492.8h0.85v0.85h-0.85zM59.8 487.0h0.85v0.85h-0.85zM61.1 488.1h0.85v0.85h-0.85zM79.4 480.3h0.85v0.85h-0.85zM84.9 497.3h0.85v0.85h-0.85zM78.3 484.9h0.85v0.85h-0.85zM61.9 490.4h0.85v0.85h-0.85zM75.8 484.1h0.85v0.85h-0.85zM79.6 479.1h0.85v0.85h-0.85zM75.5 494.3h0.85v0.85h-0.85zM87.8 489.6h0.85v0.85h-0.85zM60.0 484.0h0.85v0.85h-0.85zM72.6 479.7h0.85v0.85h-0.85zM60.4 488.8h0.85v0.85h-0.85zM91.4 480.4h0.85v0.85h-0.85zM82.2 483.7h0.85v0.85h-0.85zM89.3 495.4h0.85v0.85h-0.85zM79.8 480.8h0.85v0.85h-0.85zM85.3 474.7h0.85v0.85h-0.85zM73.3 495.1h0.85v0.85h-0.85zM76.8 500.7h0.85v0.85h-0.85zM70.3 495.2h0.85v0.85h-0.85zM60.3 498.4h0.85v0.85h-0.85zM76.4 488.8h0.85v0.85h-0.85zM78.6 485.0h0.85v0.85h-0.85zM77.8 481.1h0.85v0.85h-0.85zM61.7 497.5h0.85v0.85h-0.85zM89.5 478.9h0.85v0.85h-0.85zM87.0 491.8h0.85v0.85h-0.85zM81.6 476.0h0.85v0.85h-0.85zM80.1 473.6h0.85v0.85h-0.85zM86.7 482.3h0.85v0.85h-0.85zM89.8 484.7h0.85v0.85h-0.85zM62.4 498.2h0.85v0.85h-0.85zM89.3 479.4h0.85v0.85h-0.85zM86.0 487.6h0.85v0.85h-0.85zM80.7 483.3h0.85v0.85h-0.85zM90.0 488.5h0.85v0.85h-0.85zM72.4 470.7h0.85v0.85h-0.85zM62.6 490.6h0.85v0.85h-0.85zM64.2 485.8h0.85v0.85h-0.85zM87.4 492.3h0.85v0.85h-0.85zM66.4 490.5h0.85v0.85h-0.85zM82.4 480.8h0.85v0.85h-0.85zM88.5 493.2h0.85v0.85h-0.85zM63.5 492.1h0.85v0.85h-0.85zM73.7 489.3h0.85v0.85h-0.85zM87.9 490.4h0.85v0.85h-0.85zM68.4 487.9h0.85v0.85h-0.85zM80.3 490.4h0.85v0.85h-0.85zM86.9 478.2h0.85v0.85h-0.85zM82.8 476.6h0.85v0.85h-0.85zM79.6 482.5h0.85v0.85h-0.85zM81.9 481.9h0.85v0.85h-0.85zM78.9 477.7h0.85v0.85h-0.85zM64.6 482.7h0.85v0.85h-0.85zM87.9 493.1h0.85v0.85h-0.85zM61.6 492.6h0.85v0.85h-0.85zM87.9 495.1h0.85v0.85h-0.85zM93.3 501.7h0.85v0.85h-0.85zM72.1 476.6h0.85v0.85h-0.85zM91.1 478.7h0.85v0.85h-0.85zM86.1 481.1h0.85v0.85h-0.85zM82.4 472.2h0.85v0.85h-0.85zM79.2 475.0h0.85v0.85h-0.85zM85.0 479.1h0.85v0.85h-0.85zM67.1 476.6h0.85v0.85h-0.85zM91.3 493.7h0.85v0.85h-0.85zM70.4 486.8h0.85v0.85h-0.85zM82.0 477.8h0.85v0.85h-0.85zM62.6 479.5h0.85v0.85h-0.85zM64.7 483.5h0.85v0.85h-0.85zM78.3 478.6h0.85v0.85h-0.85zM66.1 486.1h0.85v0.85h-0.85zM77.0 490.9h0.85v0.85h-0.85zM67.6 500.0h0.85v0.85h-0.85zM63.7 486.9h0.85v0.85h-0.85zM85.5 477.0h0.85v0.85h-0.85zM76.8 477.7h0.85v0.85h-0.85zM77.7 491.5h0.85v0.85h-0.85zM76.8 486.9h0.85v0.85h-0.85z" fill="#7a1a74" opacity="0.36"/>
<path d="M91.7 514.9h0.9v0.9h-0.9zM60.6 509.2h0.9v0.9h-0.9zM72.0 509.6h0.9v0.9h-0.9zM60.0 509.3h0.9v0.9h-0.9zM89.2 510.8h0.9v0.9h-0.9zM59.5 512.0h0.9v0.9h-0.9zM70.9 511.7h0.9v0.9h-0.9zM59.6 507.8h0.9v0.9h-0.9zM87.5 506.1h0.9v0.9h-0.9zM84.7 512.0h0.9v0.9h-0.9zM92.1 509.2h0.9v0.9h-0.9zM61.5 512.3h0.9v0.9h-0.9zM89.1 509.4h0.9v0.9h-0.9zM81.7 509.8h0.9v0.9h-0.9zM67.1 511.0h0.9v0.9h-0.9zM72.4 512.3h0.9v0.9h-0.9zM60.6 509.8h0.9v0.9h-0.9zM77.7 512.4h0.9v0.9h-0.9zM85.7 510.9h0.9v0.9h-0.9zM67.9 511.5h0.9v0.9h-0.9zM89.7 511.6h0.9v0.9h-0.9zM57.8 512.4h0.9v0.9h-0.9zM81.2 510.3h0.9v0.9h-0.9zM82.0 509.6h0.9v0.9h-0.9zM90.5 510.6h0.9v0.9h-0.9zM92.0 507.8h0.9v0.9h-0.9zM62.2 512.7h0.9v0.9h-0.9zM75.7 507.5h0.9v0.9h-0.9zM94.4 513.3h0.9v0.9h-0.9zM78.0 509.2h0.9v0.9h-0.9zM82.8 508.6h0.9v0.9h-0.9zM70.5 510.0h0.9v0.9h-0.9zM81.6 508.6h0.9v0.9h-0.9zM77.4 508.7h0.9v0.9h-0.9zM60.2 508.5h0.9v0.9h-0.9zM82.5 511.4h0.9v0.9h-0.9zM76.0 510.5h0.9v0.9h-0.9zM85.6 511.2h0.9v0.9h-0.9zM61.1 508.8h0.9v0.9h-0.9zM79.8 510.7h0.9v0.9h-0.9zM82.6 512.2h0.9v0.9h-0.9zM68.9 510.2h0.9v0.9h-0.9zM91.1 515.4h0.9v0.9h-0.9zM72.5 515.2h0.9v0.9h-0.9zM92.7 509.8h0.9v0.9h-0.9zM77.6 509.9h0.9v0.9h-0.9zM60.2 513.3h0.9v0.9h-0.9zM73.3 512.1h0.9v0.9h-0.9zM83.8 511.3h0.9v0.9h-0.9zM63.5 511.5h0.9v0.9h-0.9zM87.9 508.5h0.9v0.9h-0.9zM72.7 510.0h0.9v0.9h-0.9zM78.4 510.2h0.9v0.9h-0.9zM66.3 510.2h0.9v0.9h-0.9zM57.9 512.0h0.9v0.9h-0.9zM70.2 508.6h0.9v0.9h-0.9zM83.5 511.6h0.9v0.9h-0.9zM93.3 512.0h0.9v0.9h-0.9zM75.1 510.1h0.9v0.9h-0.9zM56.1 508.4h0.9v0.9h-0.9zM57.6 512.2h0.9v0.9h-0.9zM73.2 506.7h0.9v0.9h-0.9zM77.1 509.2h0.9v0.9h-0.9zM66.4 508.1h0.9v0.9h-0.9zM84.5 508.5h0.9v0.9h-0.9zM57.6 508.6h0.9v0.9h-0.9zM75.8 511.6h0.9v0.9h-0.9zM64.7 512.9h0.9v0.9h-0.9zM56.1 507.7h0.9v0.9h-0.9zM67.4 508.5h0.9v0.9h-0.9zM65.1 511.6h0.9v0.9h-0.9zM76.2 511.3h0.9v0.9h-0.9zM86.2 506.7h0.9v0.9h-0.9zM74.0 511.6h0.9v0.9h-0.9zM84.2 510.2h0.9v0.9h-0.9zM75.7 512.5h0.9v0.9h-0.9zM73.1 512.3h0.9v0.9h-0.9zM85.7 514.0h0.9v0.9h-0.9zM61.2 513.4h0.9v0.9h-0.9zM91.0 512.9h0.9v0.9h-0.9zM81.2 510.4h0.9v0.9h-0.9zM72.9 513.1h0.9v0.9h-0.9zM77.0 510.3h0.9v0.9h-0.9zM85.6 508.5h0.9v0.9h-0.9zM89.8 507.8h0.9v0.9h-0.9zM61.8 509.3h0.9v0.9h-0.9zM76.5 507.2h0.9v0.9h-0.9zM70.2 511.7h0.9v0.9h-0.9zM78.1 512.1h0.9v0.9h-0.9zM90.1 510.1h0.9v0.9h-0.9zM56.9 513.3h0.9v0.9h-0.9zM69.6 511.3h0.9v0.9h-0.9zM65.3 509.3h0.9v0.9h-0.9zM74.8 509.1h0.9v0.9h-0.9zM92.1 512.6h0.9v0.9h-0.9zM76.7 510.5h0.9v0.9h-0.9zM88.2 512.6h0.9v0.9h-0.9zM63.5 506.2h0.9v0.9h-0.9zM64.8 508.4h0.9v0.9h-0.9zM64.6 508.8h0.9v0.9h-0.9zM80.9 509.2h0.9v0.9h-0.9zM92.0 507.1h0.9v0.9h-0.9zM57.1 513.2h0.9v0.9h-0.9zM72.9 511.9h0.9v0.9h-0.9zM57.2 511.6h0.9v0.9h-0.9zM80.9 511.0h0.9v0.9h-0.9zM65.8 512.0h0.9v0.9h-0.9zM86.7 512.2h0.9v0.9h-0.9zM82.6 511.2h0.9v0.9h-0.9zM70.5 510.0h0.9v0.9h-0.9zM78.1 508.9h0.9v0.9h-0.9zM58.2 509.0h0.9v0.9h-0.9zM65.6 510.6h0.9v0.9h-0.9zM92.0 508.5h0.9v0.9h-0.9zM91.7 508.1h0.9v0.9h-0.9zM91.5 513.7h0.9v0.9h-0.9zM84.6 514.0h0.9v0.9h-0.9zM74.5 511.4h0.9v0.9h-0.9zM68.0 511.5h0.9v0.9h-0.9zM91.2 510.0h0.9v0.9h-0.9zM62.8 515.0h0.9v0.9h-0.9zM78.2 510.6h0.9v0.9h-0.9zM71.7 512.0h0.9v0.9h-0.9zM91.6 512.3h0.9v0.9h-0.9zM79.9 508.4h0.9v0.9h-0.9zM74.4 508.2h0.9v0.9h-0.9zM70.3 508.4h0.9v0.9h-0.9zM62.6 510.0h0.9v0.9h-0.9zM86.9 509.4h0.9v0.9h-0.9zM68.4 509.1h0.9v0.9h-0.9zM72.5 508.8h0.9v0.9h-0.9zM77.6 512.5h0.9v0.9h-0.9zM76.4 508.6h0.9v0.9h-0.9zM83.1 510.4h0.9v0.9h-0.9zM59.4 511.2h0.9v0.9h-0.9zM65.4 508.8h0.9v0.9h-0.9zM83.1 510.6h0.9v0.9h-0.9zM56.2 510.2h0.9v0.9h-0.9zM58.8 508.5h0.9v0.9h-0.9zM75.3 515.1h0.9v0.9h-0.9zM92.2 511.9h0.9v0.9h-0.9zM86.7 511.0h0.9v0.9h-0.9zM57.5 510.1h0.9v0.9h-0.9zM79.6 510.6h0.9v0.9h-0.9zM65.3 510.5h0.9v0.9h-0.9zM63.2 509.3h0.9v0.9h-0.9zM72.2 512.1h0.9v0.9h-0.9zM83.0 510.9h0.9v0.9h-0.9zM65.1 510.5h0.9v0.9h-0.9zM94.8 511.4h0.9v0.9h-0.9zM86.5 512.6h0.9v0.9h-0.9zM86.4 511.5h0.9v0.9h-0.9zM87.4 513.0h0.9v0.9h-0.9zM80.6 508.9h0.9v0.9h-0.9zM73.0 511.1h0.9v0.9h-0.9zM88.3 509.2h0.9v0.9h-0.9zM81.0 509.5h0.9v0.9h-0.9zM73.2 515.0h0.9v0.9h-0.9zM91.0 512.3h0.9v0.9h-0.9zM71.4 509.6h0.9v0.9h-0.9zM76.6 511.0h0.9v0.9h-0.9zM74.3 510.9h0.9v0.9h-0.9zM81.5 513.1h0.9v0.9h-0.9zM64.7 509.5h0.9v0.9h-0.9zM81.0 508.4h0.9v0.9h-0.9zM59.1 509.3h0.9v0.9h-0.9zM94.7 507.6h0.9v0.9h-0.9zM74.1 508.6h0.9v0.9h-0.9zM91.5 512.0h0.9v0.9h-0.9zM68.7 509.6h0.9v0.9h-0.9zM76.3 508.5h0.9v0.9h-0.9zM92.3 511.6h0.9v0.9h-0.9zM81.0 508.9h0.9v0.9h-0.9zM93.0 509.7h0.9v0.9h-0.9zM56.1 510.4h0.9v0.9h-0.9zM59.4 508.2h0.9v0.9h-0.9zM58.5 508.4h0.9v0.9h-0.9zM89.3 510.9h0.9v0.9h-0.9zM68.6 512.4h0.9v0.9h-0.9zM78.6 513.0h0.9v0.9h-0.9zM87.3 512.5h0.9v0.9h-0.9zM71.0 510.4h0.9v0.9h-0.9zM65.0 512.6h0.9v0.9h-0.9zM94.0 510.2h0.9v0.9h-0.9zM56.2 510.4h0.9v0.9h-0.9zM65.1 509.6h0.9v0.9h-0.9zM58.2 514.8h0.9v0.9h-0.9zM66.4 513.1h0.9v0.9h-0.9zM79.3 506.7h0.9v0.9h-0.9zM81.9 513.7h0.9v0.9h-0.9zM58.9 509.0h0.9v0.9h-0.9zM61.0 509.1h0.9v0.9h-0.9zM76.5 511.7h0.9v0.9h-0.9zM94.7 513.1h0.9v0.9h-0.9zM81.1 511.5h0.9v0.9h-0.9zM56.6 510.8h0.9v0.9h-0.9zM71.4 508.3h0.9v0.9h-0.9zM62.7 510.1h0.9v0.9h-0.9zM68.9 513.6h0.9v0.9h-0.9zM64.5 511.9h0.9v0.9h-0.9zM75.6 512.2h0.9v0.9h-0.9zM66.9 514.0h0.9v0.9h-0.9zM64.5 513.8h0.9v0.9h-0.9zM82.7 513.6h0.9v0.9h-0.9zM87.7 510.9h0.9v0.9h-0.9zM85.9 507.1h0.9v0.9h-0.9zM68.9 512.1h0.9v0.9h-0.9zM60.9 512.5h0.9v0.9h-0.9zM92.9 514.4h0.9v0.9h-0.9zM57.6 511.5h0.9v0.9h-0.9zM59.5 505.7h0.9v0.9h-0.9zM65.0 509.4h0.9v0.9h-0.9zM63.9 511.8h0.9v0.9h-0.9zM73.3 506.5h0.9v0.9h-0.9zM72.1 511.9h0.9v0.9h-0.9zM63.0 510.3h0.9v0.9h-0.9zM81.6 510.3h0.9v0.9h-0.9zM67.7 508.2h0.9v0.9h-0.9zM57.6 510.1h0.9v0.9h-0.9zM63.7 507.4h0.9v0.9h-0.9zM58.3 514.9h0.9v0.9h-0.9zM85.8 511.7h0.9v0.9h-0.9zM75.2 514.3h0.9v0.9h-0.9zM83.9 508.4h0.9v0.9h-0.9zM81.5 512.0h0.9v0.9h-0.9zM93.9 511.4h0.9v0.9h-0.9zM69.0 512.6h0.9v0.9h-0.9zM62.8 513.3h0.9v0.9h-0.9zM78.5 508.2h0.9v0.9h-0.9zM64.3 507.5h0.9v0.9h-0.9zM60.6 510.9h0.9v0.9h-0.9zM59.3 509.9h0.9v0.9h-0.9zM66.5 513.9h0.9v0.9h-0.9zM91.0 508.0h0.9v0.9h-0.9zM63.7 512.0h0.9v0.9h-0.9zM58.9 506.5h0.9v0.9h-0.9zM57.5 511.6h0.9v0.9h-0.9zM65.6 511.1h0.9v0.9h-0.9zM63.0 509.1h0.9v0.9h-0.9zM73.6 508.7h0.9v0.9h-0.9zM87.6 507.8h0.9v0.9h-0.9zM69.8 511.5h0.9v0.9h-0.9zM93.1 509.3h0.9v0.9h-0.9zM61.8 509.1h0.9v0.9h-0.9zM84.6 514.5h0.9v0.9h-0.9zM56.0 511.4h0.9v0.9h-0.9zM83.7 513.0h0.9v0.9h-0.9zM89.0 510.3h0.9v0.9h-0.9zM83.2 514.2h0.9v0.9h-0.9zM92.3 510.4h0.9v0.9h-0.9zM71.8 512.2h0.9v0.9h-0.9zM91.6 510.7h0.9v0.9h-0.9zM66.1 510.2h0.9v0.9h-0.9zM91.8 515.0h0.9v0.9h-0.9zM73.3 514.9h0.9v0.9h-0.9zM60.8 509.2h0.9v0.9h-0.9zM74.1 509.6h0.9v0.9h-0.9zM71.5 509.2h0.9v0.9h-0.9zM71.6 508.0h0.9v0.9h-0.9zM85.7 509.1h0.9v0.9h-0.9zM75.8 509.3h0.9v0.9h-0.9zM75.3 508.5h0.9v0.9h-0.9zM85.6 508.2h0.9v0.9h-0.9zM79.7 510.0h0.9v0.9h-0.9zM78.4 509.4h0.9v0.9h-0.9zM73.2 506.2h0.9v0.9h-0.9zM87.0 509.6h0.9v0.9h-0.9zM64.3 509.9h0.9v0.9h-0.9zM72.7 510.3h0.9v0.9h-0.9zM62.5 511.5h0.9v0.9h-0.9zM74.4 511.3h0.9v0.9h-0.9zM88.9 510.6h0.9v0.9h-0.9zM83.6 511.8h0.9v0.9h-0.9zM77.2 511.6h0.9v0.9h-0.9zM83.7 510.9h0.9v0.9h-0.9zM64.5 509.0h0.9v0.9h-0.9zM91.8 511.6h0.9v0.9h-0.9zM61.7 512.0h0.9v0.9h-0.9zM64.7 509.5h0.9v0.9h-0.9zM82.8 512.6h0.9v0.9h-0.9zM60.6 510.2h0.9v0.9h-0.9zM77.2 511.0h0.9v0.9h-0.9zM68.0 512.4h0.9v0.9h-0.9zM94.3 510.7h0.9v0.9h-0.9zM75.0 509.2h0.9v0.9h-0.9zM59.5 512.0h0.9v0.9h-0.9zM93.1 515.6h0.9v0.9h-0.9zM92.4 509.7h0.9v0.9h-0.9zM88.5 511.1h0.9v0.9h-0.9zM84.9 509.1h0.9v0.9h-0.9zM94.1 511.0h0.9v0.9h-0.9z" fill="#5cc0b8" opacity="0.32"/>
<path d="M75.5 508.9h0.9v0.9h-0.9zM65.7 514.1h0.9v0.9h-0.9zM93.5 514.1h0.9v0.9h-0.9zM59.9 514.3h0.9v0.9h-0.9zM73.8 505.9h0.9v0.9h-0.9zM75.7 513.0h0.9v0.9h-0.9zM56.2 513.7h0.9v0.9h-0.9zM91.4 514.0h0.9v0.9h-0.9zM57.3 508.0h0.9v0.9h-0.9zM61.5 512.3h0.9v0.9h-0.9zM82.9 509.6h0.9v0.9h-0.9zM80.6 510.3h0.9v0.9h-0.9zM58.9 511.3h0.9v0.9h-0.9zM70.2 507.7h0.9v0.9h-0.9zM92.3 512.2h0.9v0.9h-0.9zM89.0 512.2h0.9v0.9h-0.9zM63.1 507.9h0.9v0.9h-0.9zM90.8 511.9h0.9v0.9h-0.9zM66.9 509.9h0.9v0.9h-0.9zM74.6 510.8h0.9v0.9h-0.9zM81.4 512.9h0.9v0.9h-0.9zM88.1 512.6h0.9v0.9h-0.9zM84.6 510.2h0.9v0.9h-0.9zM94.3 509.8h0.9v0.9h-0.9zM77.4 509.5h0.9v0.9h-0.9zM80.2 510.7h0.9v0.9h-0.9zM83.8 508.5h0.9v0.9h-0.9zM59.2 512.1h0.9v0.9h-0.9zM66.1 512.4h0.9v0.9h-0.9zM76.3 510.6h0.9v0.9h-0.9zM86.9 507.7h0.9v0.9h-0.9zM67.8 511.5h0.9v0.9h-0.9zM84.8 510.7h0.9v0.9h-0.9zM83.1 511.6h0.9v0.9h-0.9zM62.8 512.8h0.9v0.9h-0.9zM93.9 513.6h0.9v0.9h-0.9zM83.0 508.9h0.9v0.9h-0.9zM90.0 507.6h0.9v0.9h-0.9zM68.4 510.7h0.9v0.9h-0.9zM61.9 513.2h0.9v0.9h-0.9zM70.5 507.5h0.9v0.9h-0.9zM57.9 507.8h0.9v0.9h-0.9zM77.3 510.2h0.9v0.9h-0.9zM93.7 510.0h0.9v0.9h-0.9zM69.7 508.5h0.9v0.9h-0.9zM69.1 509.9h0.9v0.9h-0.9zM90.4 510.6h0.9v0.9h-0.9zM83.8 512.6h0.9v0.9h-0.9zM90.5 514.4h0.9v0.9h-0.9zM81.6 511.4h0.9v0.9h-0.9zM65.3 513.6h0.9v0.9h-0.9zM74.2 513.4h0.9v0.9h-0.9zM58.8 509.1h0.9v0.9h-0.9zM74.7 514.1h0.9v0.9h-0.9zM72.1 514.3h0.9v0.9h-0.9zM82.1 512.2h0.9v0.9h-0.9zM56.9 510.8h0.9v0.9h-0.9zM61.8 509.1h0.9v0.9h-0.9zM85.1 509.8h0.9v0.9h-0.9zM56.5 512.1h0.9v0.9h-0.9zM60.1 510.9h0.9v0.9h-0.9zM85.0 512.4h0.9v0.9h-0.9zM59.9 507.9h0.9v0.9h-0.9zM73.4 513.5h0.9v0.9h-0.9zM70.0 511.6h0.9v0.9h-0.9zM89.4 510.4h0.9v0.9h-0.9zM82.4 513.3h0.9v0.9h-0.9zM89.9 514.8h0.9v0.9h-0.9zM81.6 508.4h0.9v0.9h-0.9zM57.9 506.8h0.9v0.9h-0.9zM93.3 513.3h0.9v0.9h-0.9zM79.3 508.8h0.9v0.9h-0.9zM80.7 507.9h0.9v0.9h-0.9zM87.3 512.8h0.9v0.9h-0.9zM69.8 506.9h0.9v0.9h-0.9zM56.5 511.9h0.9v0.9h-0.9zM83.9 506.9h0.9v0.9h-0.9zM68.5 511.1h0.9v0.9h-0.9zM58.3 507.0h0.9v0.9h-0.9zM80.9 510.2h0.9v0.9h-0.9zM59.7 510.3h0.9v0.9h-0.9zM82.3 509.1h0.9v0.9h-0.9zM87.1 513.5h0.9v0.9h-0.9zM69.7 511.2h0.9v0.9h-0.9zM57.2 511.6h0.9v0.9h-0.9zM63.1 511.1h0.9v0.9h-0.9zM70.8 509.6h0.9v0.9h-0.9zM88.2 507.4h0.9v0.9h-0.9zM90.9 513.1h0.9v0.9h-0.9zM61.5 511.4h0.9v0.9h-0.9zM76.0 505.9h0.9v0.9h-0.9zM75.1 507.7h0.9v0.9h-0.9zM64.1 507.9h0.9v0.9h-0.9zM84.3 512.1h0.9v0.9h-0.9zM75.8 506.9h0.9v0.9h-0.9zM88.1 515.2h0.9v0.9h-0.9zM92.1 510.9h0.9v0.9h-0.9zM87.6 509.0h0.9v0.9h-0.9zM58.5 507.7h0.9v0.9h-0.9zM79.6 508.9h0.9v0.9h-0.9zM64.9 511.5h0.9v0.9h-0.9zM57.3 510.6h0.9v0.9h-0.9zM73.9 512.1h0.9v0.9h-0.9zM72.7 511.7h0.9v0.9h-0.9zM89.5 508.9h0.9v0.9h-0.9zM65.0 509.4h0.9v0.9h-0.9zM63.2 508.5h0.9v0.9h-0.9zM82.5 511.7h0.9v0.9h-0.9zM83.3 511.9h0.9v0.9h-0.9zM79.9 507.7h0.9v0.9h-0.9zM71.6 512.5h0.9v0.9h-0.9zM64.3 515.0h0.9v0.9h-0.9zM85.8 511.0h0.9v0.9h-0.9zM70.4 509.4h0.9v0.9h-0.9zM61.1 509.0h0.9v0.9h-0.9zM63.2 511.8h0.9v0.9h-0.9zM64.0 512.8h0.9v0.9h-0.9zM70.4 510.5h0.9v0.9h-0.9zM83.4 511.6h0.9v0.9h-0.9zM72.5 509.7h0.9v0.9h-0.9zM61.5 508.2h0.9v0.9h-0.9zM71.4 512.7h0.9v0.9h-0.9zM65.6 509.8h0.9v0.9h-0.9zM64.6 507.8h0.9v0.9h-0.9zM77.1 511.7h0.9v0.9h-0.9zM77.3 508.0h0.9v0.9h-0.9zM79.7 508.9h0.9v0.9h-0.9zM71.4 507.0h0.9v0.9h-0.9zM77.5 509.4h0.9v0.9h-0.9zM60.3 511.1h0.9v0.9h-0.9zM75.7 509.1h0.9v0.9h-0.9zM68.8 514.6h0.9v0.9h-0.9zM76.3 510.8h0.9v0.9h-0.9zM71.5 513.8h0.9v0.9h-0.9zM78.1 512.9h0.9v0.9h-0.9zM79.2 510.9h0.9v0.9h-0.9zM57.8 511.8h0.9v0.9h-0.9zM89.8 511.9h0.9v0.9h-0.9zM82.4 508.1h0.9v0.9h-0.9zM94.6 514.3h0.9v0.9h-0.9zM86.0 506.2h0.9v0.9h-0.9zM69.3 508.4h0.9v0.9h-0.9zM62.5 509.9h0.9v0.9h-0.9zM79.4 510.7h0.9v0.9h-0.9zM93.4 512.3h0.9v0.9h-0.9zM91.4 512.0h0.9v0.9h-0.9zM83.6 507.6h0.9v0.9h-0.9zM63.1 509.3h0.9v0.9h-0.9zM87.7 510.7h0.9v0.9h-0.9zM68.4 511.9h0.9v0.9h-0.9zM69.0 509.9h0.9v0.9h-0.9zM79.4 507.0h0.9v0.9h-0.9zM72.2 511.4h0.9v0.9h-0.9zM59.5 510.5h0.9v0.9h-0.9zM72.8 510.6h0.9v0.9h-0.9zM82.5 512.6h0.9v0.9h-0.9zM61.4 512.5h0.9v0.9h-0.9zM70.5 510.7h0.9v0.9h-0.9zM60.6 511.2h0.9v0.9h-0.9zM82.0 507.4h0.9v0.9h-0.9zM64.8 513.1h0.9v0.9h-0.9zM59.9 513.6h0.9v0.9h-0.9zM75.0 510.8h0.9v0.9h-0.9zM76.6 507.8h0.9v0.9h-0.9zM87.0 511.0h0.9v0.9h-0.9zM77.6 510.1h0.9v0.9h-0.9zM57.5 506.9h0.9v0.9h-0.9zM61.4 511.6h0.9v0.9h-0.9zM83.5 507.9h0.9v0.9h-0.9zM85.8 512.9h0.9v0.9h-0.9zM69.1 509.8h0.9v0.9h-0.9zM86.1 512.0h0.9v0.9h-0.9zM83.5 512.1h0.9v0.9h-0.9zM90.7 511.5h0.9v0.9h-0.9zM57.0 513.0h0.9v0.9h-0.9zM67.7 512.3h0.9v0.9h-0.9zM93.0 508.7h0.9v0.9h-0.9zM71.1 512.4h0.9v0.9h-0.9zM93.8 515.4h0.9v0.9h-0.9zM91.4 506.1h0.9v0.9h-0.9zM60.2 514.3h0.9v0.9h-0.9zM80.9 508.2h0.9v0.9h-0.9zM75.3 508.5h0.9v0.9h-0.9zM76.6 510.1h0.9v0.9h-0.9zM64.6 512.8h0.9v0.9h-0.9zM63.9 506.9h0.9v0.9h-0.9zM84.5 509.5h0.9v0.9h-0.9zM79.6 510.9h0.9v0.9h-0.9zM83.1 507.6h0.9v0.9h-0.9zM86.2 510.6h0.9v0.9h-0.9zM71.0 510.7h0.9v0.9h-0.9zM72.2 514.0h0.9v0.9h-0.9zM80.7 513.2h0.9v0.9h-0.9zM79.3 507.9h0.9v0.9h-0.9zM81.4 508.5h0.9v0.9h-0.9zM82.9 509.4h0.9v0.9h-0.9zM65.0 508.0h0.9v0.9h-0.9zM94.5 508.5h0.9v0.9h-0.9zM79.6 509.3h0.9v0.9h-0.9zM73.9 508.6h0.9v0.9h-0.9zM94.1 513.2h0.9v0.9h-0.9zM70.3 507.4h0.9v0.9h-0.9zM74.0 508.9h0.9v0.9h-0.9zM60.5 509.2h0.9v0.9h-0.9zM78.2 509.9h0.9v0.9h-0.9zM65.5 511.7h0.9v0.9h-0.9zM71.6 506.4h0.9v0.9h-0.9zM67.0 513.2h0.9v0.9h-0.9zM59.4 512.4h0.9v0.9h-0.9zM64.8 510.0h0.9v0.9h-0.9zM70.4 507.6h0.9v0.9h-0.9zM90.1 514.7h0.9v0.9h-0.9zM94.6 510.6h0.9v0.9h-0.9zM68.0 512.3h0.9v0.9h-0.9zM65.6 511.3h0.9v0.9h-0.9zM72.9 506.0h0.9v0.9h-0.9zM76.1 509.7h0.9v0.9h-0.9zM92.3 512.1h0.9v0.9h-0.9zM84.6 510.1h0.9v0.9h-0.9zM60.1 511.7h0.9v0.9h-0.9zM91.8 510.2h0.9v0.9h-0.9zM61.8 510.3h0.9v0.9h-0.9zM87.9 510.8h0.9v0.9h-0.9zM82.8 511.3h0.9v0.9h-0.9zM65.5 512.0h0.9v0.9h-0.9zM61.3 511.7h0.9v0.9h-0.9zM78.4 510.7h0.9v0.9h-0.9zM91.0 508.7h0.9v0.9h-0.9zM72.5 510.7h0.9v0.9h-0.9zM80.2 510.6h0.9v0.9h-0.9zM62.5 511.5h0.9v0.9h-0.9zM79.5 508.1h0.9v0.9h-0.9zM72.0 510.8h0.9v0.9h-0.9zM87.4 507.8h0.9v0.9h-0.9zM60.1 511.5h0.9v0.9h-0.9zM90.7 512.2h0.9v0.9h-0.9zM93.1 512.1h0.9v0.9h-0.9zM58.4 513.3h0.9v0.9h-0.9zM64.2 509.0h0.9v0.9h-0.9zM56.9 511.6h0.9v0.9h-0.9zM94.6 512.0h0.9v0.9h-0.9zM85.4 506.6h0.9v0.9h-0.9zM78.5 512.2h0.9v0.9h-0.9zM88.9 511.5h0.9v0.9h-0.9zM94.1 507.0h0.9v0.9h-0.9zM74.7 512.1h0.9v0.9h-0.9zM85.2 515.6h0.9v0.9h-0.9zM65.1 509.2h0.9v0.9h-0.9zM92.5 511.3h0.9v0.9h-0.9zM56.2 512.5h0.9v0.9h-0.9zM66.4 510.3h0.9v0.9h-0.9zM75.3 507.2h0.9v0.9h-0.9zM79.3 506.2h0.9v0.9h-0.9zM59.4 510.4h0.9v0.9h-0.9zM86.4 510.3h0.9v0.9h-0.9zM78.7 513.1h0.9v0.9h-0.9zM61.3 509.4h0.9v0.9h-0.9zM65.1 509.0h0.9v0.9h-0.9zM85.0 510.2h0.9v0.9h-0.9zM82.3 507.8h0.9v0.9h-0.9zM82.5 512.7h0.9v0.9h-0.9zM72.8 507.8h0.9v0.9h-0.9zM81.4 511.2h0.9v0.9h-0.9zM69.5 509.6h0.9v0.9h-0.9zM86.5 512.5h0.9v0.9h-0.9zM94.1 506.9h0.9v0.9h-0.9zM64.8 512.4h0.9v0.9h-0.9zM74.8 506.9h0.9v0.9h-0.9zM88.0 512.5h0.9v0.9h-0.9zM60.0 513.4h0.9v0.9h-0.9zM63.1 509.9h0.9v0.9h-0.9zM83.9 514.4h0.9v0.9h-0.9zM74.3 512.6h0.9v0.9h-0.9zM91.8 515.2h0.9v0.9h-0.9zM66.2 506.2h0.9v0.9h-0.9zM73.0 511.2h0.9v0.9h-0.9zM84.9 512.6h0.9v0.9h-0.9zM74.5 510.2h0.9v0.9h-0.9zM88.5 512.4h0.9v0.9h-0.9zM61.6 510.6h0.9v0.9h-0.9zM72.3 512.3h0.9v0.9h-0.9zM87.7 514.5h0.9v0.9h-0.9zM73.2 509.6h0.9v0.9h-0.9zM94.6 509.7h0.9v0.9h-0.9zM67.0 508.7h0.9v0.9h-0.9zM75.0 506.0h0.9v0.9h-0.9zM89.0 511.8h0.9v0.9h-0.9zM58.0 511.2h0.9v0.9h-0.9zM77.2 513.8h0.9v0.9h-0.9zM61.8 511.5h0.9v0.9h-0.9zM64.0 507.5h0.9v0.9h-0.9zM61.6 511.0h0.9v0.9h-0.9zM57.4 512.1h0.9v0.9h-0.9zM81.9 510.7h0.9v0.9h-0.9zM64.5 512.3h0.9v0.9h-0.9zM66.0 510.7h0.9v0.9h-0.9zM74.7 512.9h0.9v0.9h-0.9zM78.8 508.2h0.9v0.9h-0.9zM67.3 511.8h0.9v0.9h-0.9zM57.3 512.2h0.9v0.9h-0.9zM93.3 511.1h0.9v0.9h-0.9zM79.3 510.7h0.9v0.9h-0.9zM88.3 514.2h0.9v0.9h-0.9zM88.1 512.2h0.9v0.9h-0.9zM64.5 510.9h0.9v0.9h-0.9zM87.5 512.6h0.9v0.9h-0.9zM65.4 508.9h0.9v0.9h-0.9zM66.2 511.1h0.9v0.9h-0.9zM86.2 506.6h0.9v0.9h-0.9zM72.8 512.2h0.9v0.9h-0.9zM56.3 509.9h0.9v0.9h-0.9zM78.2 505.8h0.9v0.9h-0.9zM70.8 508.7h0.9v0.9h-0.9zM60.0 509.7h0.9v0.9h-0.9zM63.2 507.2h0.9v0.9h-0.9zM76.4 508.6h0.9v0.9h-0.9zM58.5 509.8h0.9v0.9h-0.9z" fill="#6cc8c0" opacity="0.32"/>
<path d="M63.4 509.1h0.9v0.9h-0.9zM75.3 509.8h0.9v0.9h-0.9zM90.0 509.4h0.9v0.9h-0.9zM59.4 513.1h0.9v0.9h-0.9zM77.2 508.6h0.9v0.9h-0.9zM77.7 510.4h0.9v0.9h-0.9zM83.9 507.0h0.9v0.9h-0.9zM58.2 509.9h0.9v0.9h-0.9zM79.4 507.8h0.9v0.9h-0.9zM66.0 511.8h0.9v0.9h-0.9zM68.3 509.5h0.9v0.9h-0.9zM80.4 511.1h0.9v0.9h-0.9zM68.3 511.2h0.9v0.9h-0.9zM79.2 509.9h0.9v0.9h-0.9zM61.5 513.7h0.9v0.9h-0.9zM74.5 512.9h0.9v0.9h-0.9zM81.4 506.0h0.9v0.9h-0.9zM64.3 510.1h0.9v0.9h-0.9zM85.7 508.3h0.9v0.9h-0.9zM71.5 509.7h0.9v0.9h-0.9zM79.0 508.6h0.9v0.9h-0.9zM94.9 508.0h0.9v0.9h-0.9zM77.6 508.8h0.9v0.9h-0.9zM89.7 507.1h0.9v0.9h-0.9zM65.5 513.1h0.9v0.9h-0.9zM82.3 508.2h0.9v0.9h-0.9zM59.4 510.3h0.9v0.9h-0.9zM81.0 509.3h0.9v0.9h-0.9zM70.7 511.4h0.9v0.9h-0.9zM74.9 511.3h0.9v0.9h-0.9zM93.7 510.8h0.9v0.9h-0.9zM89.0 514.4h0.9v0.9h-0.9zM71.9 508.9h0.9v0.9h-0.9zM62.7 508.9h0.9v0.9h-0.9zM83.6 510.2h0.9v0.9h-0.9zM69.6 509.3h0.9v0.9h-0.9zM59.7 512.0h0.9v0.9h-0.9zM87.4 510.3h0.9v0.9h-0.9zM71.2 509.1h0.9v0.9h-0.9zM62.3 508.7h0.9v0.9h-0.9zM60.3 509.3h0.9v0.9h-0.9zM63.3 510.2h0.9v0.9h-0.9zM73.9 513.5h0.9v0.9h-0.9zM75.7 507.9h0.9v0.9h-0.9zM64.2 507.9h0.9v0.9h-0.9zM71.2 507.8h0.9v0.9h-0.9zM69.1 508.5h0.9v0.9h-0.9zM70.3 511.0h0.9v0.9h-0.9zM78.1 509.1h0.9v0.9h-0.9zM78.1 509.7h0.9v0.9h-0.9zM81.0 509.8h0.9v0.9h-0.9zM57.8 509.1h0.9v0.9h-0.9zM68.5 511.2h0.9v0.9h-0.9zM86.1 508.8h0.9v0.9h-0.9zM57.8 513.8h0.9v0.9h-0.9zM72.9 510.9h0.9v0.9h-0.9zM80.7 511.1h0.9v0.9h-0.9zM88.5 507.9h0.9v0.9h-0.9zM61.1 512.6h0.9v0.9h-0.9zM56.7 508.5h0.9v0.9h-0.9zM89.5 511.0h0.9v0.9h-0.9zM60.5 513.8h0.9v0.9h-0.9zM84.0 510.9h0.9v0.9h-0.9zM73.2 511.7h0.9v0.9h-0.9zM77.3 514.3h0.9v0.9h-0.9zM92.6 508.9h0.9v0.9h-0.9zM65.5 508.4h0.9v0.9h-0.9zM85.3 509.6h0.9v0.9h-0.9zM57.8 512.0h0.9v0.9h-0.9zM76.4 511.0h0.9v0.9h-0.9zM92.1 512.9h0.9v0.9h-0.9zM68.0 512.6h0.9v0.9h-0.9zM72.4 509.4h0.9v0.9h-0.9zM77.7 510.2h0.9v0.9h-0.9zM77.6 511.0h0.9v0.9h-0.9zM84.0 514.9h0.9v0.9h-0.9zM74.0 509.3h0.9v0.9h-0.9zM92.5 513.4h0.9v0.9h-0.9zM76.4 510.4h0.9v0.9h-0.9zM65.9 509.9h0.9v0.9h-0.9zM76.4 510.7h0.9v0.9h-0.9zM63.2 512.5h0.9v0.9h-0.9zM62.9 512.0h0.9v0.9h-0.9zM85.8 510.3h0.9v0.9h-0.9zM79.8 509.6h0.9v0.9h-0.9zM93.9 505.9h0.9v0.9h-0.9zM84.6 509.0h0.9v0.9h-0.9zM89.9 509.2h0.9v0.9h-0.9zM75.1 511.6h0.9v0.9h-0.9zM87.3 510.3h0.9v0.9h-0.9zM62.1 508.9h0.9v0.9h-0.9zM74.2 511.6h0.9v0.9h-0.9zM67.1 514.0h0.9v0.9h-0.9zM63.0 510.7h0.9v0.9h-0.9zM56.8 508.9h0.9v0.9h-0.9zM84.4 512.4h0.9v0.9h-0.9zM75.1 508.9h0.9v0.9h-0.9zM67.5 513.3h0.9v0.9h-0.9zM79.8 505.8h0.9v0.9h-0.9zM89.1 510.9h0.9v0.9h-0.9zM60.5 514.1h0.9v0.9h-0.9zM84.2 512.2h0.9v0.9h-0.9zM84.0 508.4h0.9v0.9h-0.9zM92.7 508.8h0.9v0.9h-0.9zM63.5 510.7h0.9v0.9h-0.9zM58.2 510.3h0.9v0.9h-0.9zM69.7 511.5h0.9v0.9h-0.9zM76.3 510.2h0.9v0.9h-0.9zM63.1 510.5h0.9v0.9h-0.9zM80.1 511.3h0.9v0.9h-0.9zM68.8 506.4h0.9v0.9h-0.9zM72.2 507.2h0.9v0.9h-0.9zM71.0 512.4h0.9v0.9h-0.9zM68.8 510.5h0.9v0.9h-0.9zM76.5 508.5h0.9v0.9h-0.9zM74.8 509.9h0.9v0.9h-0.9zM72.9 513.4h0.9v0.9h-0.9zM69.4 511.4h0.9v0.9h-0.9zM84.2 511.7h0.9v0.9h-0.9zM79.1 507.9h0.9v0.9h-0.9zM56.1 510.1h0.9v0.9h-0.9zM69.4 512.8h0.9v0.9h-0.9zM73.9 511.5h0.9v0.9h-0.9zM94.9 508.9h0.9v0.9h-0.9zM72.9 510.5h0.9v0.9h-0.9zM59.4 513.1h0.9v0.9h-0.9zM83.2 509.2h0.9v0.9h-0.9zM64.0 511.9h0.9v0.9h-0.9zM78.3 513.8h0.9v0.9h-0.9zM90.1 509.2h0.9v0.9h-0.9zM81.9 511.3h0.9v0.9h-0.9zM69.8 511.7h0.9v0.9h-0.9zM75.8 510.4h0.9v0.9h-0.9zM75.9 512.7h0.9v0.9h-0.9zM94.9 511.7h0.9v0.9h-0.9zM61.2 510.4h0.9v0.9h-0.9zM68.1 511.8h0.9v0.9h-0.9zM93.9 510.0h0.9v0.9h-0.9zM65.5 506.0h0.9v0.9h-0.9zM92.5 507.5h0.9v0.9h-0.9zM91.4 509.1h0.9v0.9h-0.9zM84.9 512.4h0.9v0.9h-0.9zM87.1 514.0h0.9v0.9h-0.9zM67.9 510.2h0.9v0.9h-0.9zM87.9 513.9h0.9v0.9h-0.9zM71.6 509.9h0.9v0.9h-0.9zM85.0 510.4h0.9v0.9h-0.9zM70.6 511.2h0.9v0.9h-0.9zM77.2 511.6h0.9v0.9h-0.9zM69.3 511.6h0.9v0.9h-0.9zM94.6 512.7h0.9v0.9h-0.9zM69.4 512.4h0.9v0.9h-0.9zM59.4 509.1h0.9v0.9h-0.9zM92.2 508.9h0.9v0.9h-0.9zM82.1 509.8h0.9v0.9h-0.9zM71.4 509.8h0.9v0.9h-0.9zM83.4 510.2h0.9v0.9h-0.9zM64.8 511.0h0.9v0.9h-0.9zM73.9 513.0h0.9v0.9h-0.9zM60.2 510.1h0.9v0.9h-0.9zM67.6 509.3h0.9v0.9h-0.9zM85.0 508.6h0.9v0.9h-0.9zM80.7 515.4h0.9v0.9h-0.9zM62.1 512.0h0.9v0.9h-0.9zM56.3 509.8h0.9v0.9h-0.9zM88.6 512.6h0.9v0.9h-0.9zM86.7 510.9h0.9v0.9h-0.9zM71.8 512.2h0.9v0.9h-0.9zM67.4 510.0h0.9v0.9h-0.9zM90.6 511.4h0.9v0.9h-0.9zM76.9 508.6h0.9v0.9h-0.9zM94.3 512.8h0.9v0.9h-0.9zM78.2 510.4h0.9v0.9h-0.9zM66.3 513.2h0.9v0.9h-0.9zM73.8 512.6h0.9v0.9h-0.9zM66.4 511.3h0.9v0.9h-0.9zM59.1 512.2h0.9v0.9h-0.9zM59.4 511.0h0.9v0.9h-0.9zM58.1 515.1h0.9v0.9h-0.9zM72.6 512.8h0.9v0.9h-0.9zM68.4 514.8h0.9v0.9h-0.9zM82.2 513.9h0.9v0.9h-0.9zM79.7 513.9h0.9v0.9h-0.9zM58.0 508.3h0.9v0.9h-0.9zM89.6 511.9h0.9v0.9h-0.9zM65.2 507.8h0.9v0.9h-0.9zM62.8 509.5h0.9v0.9h-0.9zM59.7 510.6h0.9v0.9h-0.9zM60.7 514.9h0.9v0.9h-0.9zM91.0 510.9h0.9v0.9h-0.9zM94.2 510.4h0.9v0.9h-0.9zM82.9 512.4h0.9v0.9h-0.9zM85.6 510.1h0.9v0.9h-0.9zM61.2 510.8h0.9v0.9h-0.9zM74.2 511.2h0.9v0.9h-0.9zM74.1 509.7h0.9v0.9h-0.9zM66.0 507.7h0.9v0.9h-0.9zM65.2 513.7h0.9v0.9h-0.9zM61.4 512.7h0.9v0.9h-0.9zM90.6 507.3h0.9v0.9h-0.9zM72.8 511.1h0.9v0.9h-0.9zM75.5 512.2h0.9v0.9h-0.9zM59.2 510.8h0.9v0.9h-0.9zM63.2 507.4h0.9v0.9h-0.9zM58.1 506.0h0.9v0.9h-0.9zM84.8 506.5h0.9v0.9h-0.9zM61.5 510.3h0.9v0.9h-0.9zM75.8 514.1h0.9v0.9h-0.9zM77.1 513.4h0.9v0.9h-0.9zM66.8 508.0h0.9v0.9h-0.9zM79.9 508.5h0.9v0.9h-0.9zM78.9 508.5h0.9v0.9h-0.9zM60.5 506.2h0.9v0.9h-0.9zM72.4 514.0h0.9v0.9h-0.9zM84.3 507.2h0.9v0.9h-0.9zM85.1 510.8h0.9v0.9h-0.9zM74.8 512.1h0.9v0.9h-0.9zM83.2 506.7h0.9v0.9h-0.9zM77.5 510.8h0.9v0.9h-0.9zM80.7 509.0h0.9v0.9h-0.9zM81.7 508.2h0.9v0.9h-0.9zM63.8 510.4h0.9v0.9h-0.9zM67.1 511.8h0.9v0.9h-0.9zM66.9 511.7h0.9v0.9h-0.9zM61.5 513.0h0.9v0.9h-0.9zM91.7 514.1h0.9v0.9h-0.9zM74.1 508.7h0.9v0.9h-0.9zM94.3 513.3h0.9v0.9h-0.9zM77.4 507.5h0.9v0.9h-0.9zM58.2 513.5h0.9v0.9h-0.9zM69.1 509.4h0.9v0.9h-0.9zM79.6 514.1h0.9v0.9h-0.9zM80.0 511.8h0.9v0.9h-0.9zM71.6 511.6h0.9v0.9h-0.9zM88.7 508.1h0.9v0.9h-0.9zM89.2 512.4h0.9v0.9h-0.9zM57.0 512.1h0.9v0.9h-0.9zM83.3 514.2h0.9v0.9h-0.9zM59.5 512.4h0.9v0.9h-0.9zM75.1 509.3h0.9v0.9h-0.9zM77.3 506.0h0.9v0.9h-0.9zM76.1 510.6h0.9v0.9h-0.9zM88.8 508.6h0.9v0.9h-0.9zM64.7 508.7h0.9v0.9h-0.9zM84.0 511.6h0.9v0.9h-0.9zM74.6 510.0h0.9v0.9h-0.9zM69.6 512.2h0.9v0.9h-0.9zM86.2 514.4h0.9v0.9h-0.9zM88.5 509.2h0.9v0.9h-0.9zM66.3 512.8h0.9v0.9h-0.9zM61.3 508.8h0.9v0.9h-0.9zM77.3 511.1h0.9v0.9h-0.9zM81.6 510.4h0.9v0.9h-0.9zM76.0 512.2h0.9v0.9h-0.9zM56.1 508.8h0.9v0.9h-0.9zM61.3 508.5h0.9v0.9h-0.9zM80.8 510.1h0.9v0.9h-0.9zM86.1 511.6h0.9v0.9h-0.9zM59.7 513.3h0.9v0.9h-0.9zM68.5 507.6h0.9v0.9h-0.9zM81.0 512.1h0.9v0.9h-0.9zM93.3 509.2h0.9v0.9h-0.9zM58.0 510.8h0.9v0.9h-0.9zM87.1 508.7h0.9v0.9h-0.9zM63.1 511.3h0.9v0.9h-0.9zM64.1 510.1h0.9v0.9h-0.9zM75.9 509.7h0.9v0.9h-0.9zM73.5 510.8h0.9v0.9h-0.9zM70.1 511.2h0.9v0.9h-0.9zM66.6 512.5h0.9v0.9h-0.9zM82.9 509.5h0.9v0.9h-0.9zM85.5 506.2h0.9v0.9h-0.9zM76.0 513.4h0.9v0.9h-0.9zM63.7 509.4h0.9v0.9h-0.9zM84.0 508.7h0.9v0.9h-0.9zM76.3 512.3h0.9v0.9h-0.9zM90.4 512.7h0.9v0.9h-0.9zM88.1 510.4h0.9v0.9h-0.9zM90.7 509.4h0.9v0.9h-0.9zM70.9 514.0h0.9v0.9h-0.9zM77.8 512.3h0.9v0.9h-0.9zM71.1 509.6h0.9v0.9h-0.9zM88.8 511.2h0.9v0.9h-0.9zM94.5 510.4h0.9v0.9h-0.9zM66.8 513.1h0.9v0.9h-0.9zM93.3 512.1h0.9v0.9h-0.9zM79.0 511.1h0.9v0.9h-0.9zM71.7 508.9h0.9v0.9h-0.9zM74.3 507.9h0.9v0.9h-0.9zM86.5 512.2h0.9v0.9h-0.9zM91.0 512.0h0.9v0.9h-0.9zM92.5 511.3h0.9v0.9h-0.9z" fill="#4ab4ac" opacity="0.32"/>
<path d="M86.2 503.4h0.9v0.9h-0.9zM63.9 505.6h0.9v0.9h-0.9zM63.3 504.8h0.9v0.9h-0.9zM62.5 503.5h0.9v0.9h-0.9zM74.9 505.2h0.9v0.9h-0.9zM88.3 503.2h0.9v0.9h-0.9zM70.1 503.5h0.9v0.9h-0.9zM77.4 503.8h0.9v0.9h-0.9zM69.3 506.7h0.9v0.9h-0.9zM81.0 505.6h0.9v0.9h-0.9zM79.4 503.9h0.9v0.9h-0.9zM82.3 506.7h0.9v0.9h-0.9zM60.3 506.2h0.9v0.9h-0.9zM69.7 503.9h0.9v0.9h-0.9zM81.2 506.3h0.9v0.9h-0.9zM63.2 503.9h0.9v0.9h-0.9zM75.5 503.9h0.9v0.9h-0.9zM75.8 506.8h0.9v0.9h-0.9zM57.9 504.7h0.9v0.9h-0.9zM64.5 503.8h0.9v0.9h-0.9zM78.8 506.6h0.9v0.9h-0.9zM74.4 505.2h0.9v0.9h-0.9zM82.9 506.3h0.9v0.9h-0.9zM92.8 504.4h0.9v0.9h-0.9zM63.6 506.5h0.9v0.9h-0.9zM79.4 506.4h0.9v0.9h-0.9zM62.4 506.0h0.9v0.9h-0.9zM61.4 503.7h0.9v0.9h-0.9zM61.5 504.5h0.9v0.9h-0.9zM72.4 505.6h0.9v0.9h-0.9zM91.7 504.7h0.9v0.9h-0.9zM78.4 504.7h0.9v0.9h-0.9zM71.2 504.2h0.9v0.9h-0.9zM57.2 504.1h0.9v0.9h-0.9zM83.7 506.1h0.9v0.9h-0.9zM82.4 504.8h0.9v0.9h-0.9zM72.2 503.9h0.9v0.9h-0.9zM66.0 506.8h0.9v0.9h-0.9zM78.7 504.7h0.9v0.9h-0.9zM76.8 505.0h0.9v0.9h-0.9zM67.9 504.7h0.9v0.9h-0.9zM72.9 506.4h0.9v0.9h-0.9zM90.0 504.2h0.9v0.9h-0.9zM73.9 504.0h0.9v0.9h-0.9zM92.3 503.7h0.9v0.9h-0.9zM74.8 503.2h0.9v0.9h-0.9zM74.0 504.9h0.9v0.9h-0.9zM57.5 503.7h0.9v0.9h-0.9zM75.5 504.9h0.9v0.9h-0.9zM68.2 503.4h0.9v0.9h-0.9zM69.0 504.5h0.9v0.9h-0.9zM60.8 505.4h0.9v0.9h-0.9zM65.1 505.1h0.9v0.9h-0.9zM83.3 503.3h0.9v0.9h-0.9zM75.4 505.5h0.9v0.9h-0.9zM90.1 505.7h0.9v0.9h-0.9zM88.0 505.6h0.9v0.9h-0.9zM65.3 506.1h0.9v0.9h-0.9zM85.0 505.0h0.9v0.9h-0.9zM91.2 503.4h0.9v0.9h-0.9zM90.6 504.5h0.9v0.9h-0.9zM77.1 506.1h0.9v0.9h-0.9zM63.2 505.0h0.9v0.9h-0.9zM57.6 503.3h0.9v0.9h-0.9zM92.4 504.0h0.9v0.9h-0.9zM72.8 503.6h0.9v0.9h-0.9zM91.5 505.0h0.9v0.9h-0.9zM88.6 504.2h0.9v0.9h-0.9zM74.1 504.1h0.9v0.9h-0.9zM78.8 505.7h0.9v0.9h-0.9zM78.2 505.3h0.9v0.9h-0.9zM68.5 506.6h0.9v0.9h-0.9zM57.7 503.8h0.9v0.9h-0.9zM81.7 506.7h0.9v0.9h-0.9zM88.4 504.1h0.9v0.9h-0.9zM91.9 504.8h0.9v0.9h-0.9zM78.1 505.5h0.9v0.9h-0.9zM79.8 506.4h0.9v0.9h-0.9zM90.3 504.3h0.9v0.9h-0.9zM90.0 504.3h0.9v0.9h-0.9zM82.3 503.8h0.9v0.9h-0.9zM80.6 504.3h0.9v0.9h-0.9zM93.8 505.6h0.9v0.9h-0.9zM71.3 506.7h0.9v0.9h-0.9zM61.3 505.9h0.9v0.9h-0.9zM81.0 503.3h0.9v0.9h-0.9zM74.0 503.6h0.9v0.9h-0.9zM94.0 503.6h0.9v0.9h-0.9zM80.5 505.2h0.9v0.9h-0.9zM61.6 506.6h0.9v0.9h-0.9zM78.2 505.4h0.9v0.9h-0.9zM66.7 503.8h0.9v0.9h-0.9zM69.1 503.3h0.9v0.9h-0.9zM64.4 505.0h0.9v0.9h-0.9zM71.4 505.9h0.9v0.9h-0.9zM62.2 503.9h0.9v0.9h-0.9zM76.4 505.7h0.9v0.9h-0.9zM68.6 503.9h0.9v0.9h-0.9zM61.6 504.5h0.9v0.9h-0.9zM71.0 506.1h0.9v0.9h-0.9zM65.9 504.4h0.9v0.9h-0.9zM84.6 503.9h0.9v0.9h-0.9zM58.4 506.7h0.9v0.9h-0.9zM90.8 504.3h0.9v0.9h-0.9zM67.5 504.9h0.9v0.9h-0.9zM64.8 506.0h0.9v0.9h-0.9zM89.8 505.8h0.9v0.9h-0.9zM71.8 506.2h0.9v0.9h-0.9zM91.6 503.9h0.9v0.9h-0.9zM81.7 503.8h0.9v0.9h-0.9zM93.5 506.1h0.9v0.9h-0.9zM72.2 505.9h0.9v0.9h-0.9zM67.8 503.4h0.9v0.9h-0.9zM76.0 503.5h0.9v0.9h-0.9zM73.9 506.3h0.9v0.9h-0.9zM78.4 504.2h0.9v0.9h-0.9zM64.8 505.2h0.9v0.9h-0.9zM75.8 506.5h0.9v0.9h-0.9zM63.3 504.9h0.9v0.9h-0.9zM73.6 504.6h0.9v0.9h-0.9zM63.9 504.6h0.9v0.9h-0.9zM77.1 503.9h0.9v0.9h-0.9zM68.9 505.1h0.9v0.9h-0.9zM91.8 504.9h0.9v0.9h-0.9zM69.8 503.3h0.9v0.9h-0.9zM76.2 504.4h0.9v0.9h-0.9zM61.3 504.9h0.9v0.9h-0.9zM79.8 504.5h0.9v0.9h-0.9zM84.2 505.5h0.9v0.9h-0.9zM59.3 503.4h0.9v0.9h-0.9zM76.4 505.4h0.9v0.9h-0.9zM77.6 504.0h0.9v0.9h-0.9zM69.7 505.8h0.9v0.9h-0.9zM71.7 505.1h0.9v0.9h-0.9zM65.5 505.5h0.9v0.9h-0.9zM74.7 503.2h0.9v0.9h-0.9zM84.9 506.1h0.9v0.9h-0.9zM93.5 506.6h0.9v0.9h-0.9zM83.0 504.9h0.9v0.9h-0.9zM66.8 505.7h0.9v0.9h-0.9zM72.5 504.4h0.9v0.9h-0.9zM61.3 505.4h0.9v0.9h-0.9zM83.3 506.0h0.9v0.9h-0.9zM62.6 503.9h0.9v0.9h-0.9zM80.6 503.7h0.9v0.9h-0.9zM89.8 506.5h0.9v0.9h-0.9zM80.3 504.1h0.9v0.9h-0.9zM77.8 506.0h0.9v0.9h-0.9zM69.8 505.5h0.9v0.9h-0.9zM79.3 506.5h0.9v0.9h-0.9zM85.7 505.6h0.9v0.9h-0.9zM77.2 506.4h0.9v0.9h-0.9zM79.3 505.7h0.9v0.9h-0.9zM68.5 503.6h0.9v0.9h-0.9zM77.6 504.0h0.9v0.9h-0.9zM92.9 504.0h0.9v0.9h-0.9zM90.1 504.4h0.9v0.9h-0.9zM64.1 505.3h0.9v0.9h-0.9zM68.9 506.8h0.9v0.9h-0.9zM79.9 503.6h0.9v0.9h-0.9zM68.5 503.6h0.9v0.9h-0.9zM75.3 505.1h0.9v0.9h-0.9zM68.7 505.6h0.9v0.9h-0.9zM73.5 506.2h0.9v0.9h-0.9zM82.1 504.1h0.9v0.9h-0.9zM87.7 503.3h0.9v0.9h-0.9zM65.7 503.3h0.9v0.9h-0.9zM92.2 505.1h0.9v0.9h-0.9zM88.1 506.8h0.9v0.9h-0.9zM60.4 506.4h0.9v0.9h-0.9zM57.8 505.7h0.9v0.9h-0.9zM86.3 504.6h0.9v0.9h-0.9zM89.9 506.0h0.9v0.9h-0.9zM75.4 504.2h0.9v0.9h-0.9zM62.9 503.5h0.9v0.9h-0.9zM77.0 505.1h0.9v0.9h-0.9zM63.9 505.1h0.9v0.9h-0.9zM59.9 504.3h0.9v0.9h-0.9zM81.8 503.7h0.9v0.9h-0.9zM76.3 503.7h0.9v0.9h-0.9z" fill="#8a64a8" opacity="0.3"/>
<line x1="69.90" y1="451.00" x2="69.90" y2="532.50" stroke="#3a3440" stroke-width="1.2"/>
<line x1="40.80" y1="502.90" x2="122.50" y2="502.90" stroke="#3a3440" stroke-width="1.2"/>
<rect x="43.3" y="452.0" width="8.2" height="8.2" fill="#f4e81c" stroke="#333" stroke-width="0.7"/>
<rect x="113.6" y="452.0" width="8.2" height="8.2" fill="#2f8f2f" stroke="#333" stroke-width="0.7"/>
<rect x="43.3" y="520.7" width="8.2" height="8.2" fill="#d4d4d4" stroke="#333" stroke-width="0.7"/>
<rect x="113.6" y="520.7" width="8.2" height="8.2" fill="#2d2086" stroke="#333" stroke-width="0.7"/>
<rect x="38.8" y="510.9" width="2.2" height="2.8" fill="#111"/>
<rect x="58.3" y="532.0" width="3.6" height="1.8" fill="#111"/>
<text x="138.20" y="447.60" font-size="10.5" text-anchor="start" font-weight="bold" fill="#111"  style="stroke-width:0.04px">N</text>
<text x="212.30" y="447.80" font-size="7.4" text-anchor="middle" font-weight="normal" fill="#222" textLength="50.5" lengthAdjust="spacingAndGlyphs"  style="stroke-width:0.04px">TRAP-6 [5 µM]</text>
<line x1="172.60" y1="452.50" x2="172.60" y2="532.50" stroke="#333" stroke-width="1.35"/>
<line x1="170.00" y1="531.90" x2="172.60" y2="531.90" stroke="#222" stroke-width="0.9"/>
<text x="166.00" y="534.00" font-size="6.2" text-anchor="end" font-weight="normal" fill="#222" >0</text>
<line x1="170.00" y1="498.80" x2="172.60" y2="498.80" stroke="#222" stroke-width="0.9"/>
<text x="166.00" y="500.90" font-size="6.2" text-anchor="end" font-weight="normal" fill="#222" >50</text>
<line x1="170.00" y1="465.70" x2="172.60" y2="465.70" stroke="#222" stroke-width="0.9"/>
<text x="166.00" y="467.80" font-size="6.2" text-anchor="end" font-weight="normal" fill="#222" >100</text>
<text x="0" y="0" font-size="6.8" text-anchor="middle" fill="#222" textLength="76.0" lengthAdjust="spacingAndGlyphs" style="stroke-width:0.2px" transform="translate(149.20,492.80) rotate(-90)">PLTs in respective quadrant [%]</text>
<rect x="176.90" y="485.89" width="8.0" height="46.01" fill="#d3d3d3"/>
<rect x="176.90" y="484.24" width="8.0" height="1.65" fill="#2a852a"/>
<rect x="176.90" y="466.49" width="8.0" height="17.74" fill="#3421a0"/>
<rect x="176.90" y="465.70" width="8.0" height="0.79" fill="#f3e71e"/>
<rect x="189.00" y="487.88" width="8.0" height="44.02" fill="#d3d3d3"/>
<rect x="189.00" y="483.57" width="8.0" height="4.30" fill="#2a852a"/>
<rect x="189.00" y="466.49" width="8.0" height="17.08" fill="#3421a0"/>
<rect x="189.00" y="465.70" width="8.0" height="0.79" fill="#f3e71e"/>
<rect x="201.80" y="480.59" width="8.0" height="51.31" fill="#d3d3d3"/>
<rect x="201.80" y="480.26" width="8.0" height="0.33" fill="#2a852a"/>
<rect x="201.80" y="466.49" width="8.0" height="13.77" fill="#3421a0"/>
<rect x="201.80" y="465.70" width="8.0" height="0.79" fill="#f3e71e"/>
<rect x="214.00" y="498.14" width="8.0" height="33.76" fill="#d3d3d3"/>
<rect x="214.00" y="487.88" width="8.0" height="10.26" fill="#2a852a"/>
<rect x="214.00" y="469.34" width="8.0" height="18.54" fill="#3421a0"/>
<rect x="214.00" y="465.70" width="8.0" height="3.64" fill="#f3e71e"/>
<rect x="226.60" y="511.71" width="8.0" height="20.19" fill="#d3d3d3"/>
<rect x="226.60" y="484.24" width="8.0" height="27.47" fill="#2a852a"/>
<rect x="226.60" y="473.64" width="8.0" height="10.59" fill="#3421a0"/>
<rect x="226.60" y="465.70" width="8.0" height="7.94" fill="#f3e71e"/>
<rect x="239.30" y="516.01" width="8.0" height="15.89" fill="#d3d3d3"/>
<rect x="239.30" y="489.53" width="8.0" height="26.48" fill="#2a852a"/>
<rect x="239.30" y="480.59" width="8.0" height="8.94" fill="#3421a0"/>
<rect x="239.30" y="465.70" width="8.0" height="14.89" fill="#f3e71e"/>
<line x1="180.90" y1="459.08" x2="180.90" y2="493.50" stroke="#1a1a1a" stroke-width="0.8"/>
<line x1="178.60" y1="459.08" x2="183.20" y2="459.08" stroke="#1a1a1a" stroke-width="0.8"/>
<line x1="178.60" y1="466.36" x2="183.20" y2="466.36" stroke="#1a1a1a" stroke-width="0.8"/>
<line x1="178.60" y1="474.97" x2="183.20" y2="474.97" stroke="#1a1a1a" stroke-width="0.8"/>
<line x1="178.60" y1="484.24" x2="183.20" y2="484.24" stroke="#1a1a1a" stroke-width="0.8"/>
<line x1="178.60" y1="493.50" x2="183.20" y2="493.50" stroke="#1a1a1a" stroke-width="0.8"/>
<line x1="193.00" y1="463.71" x2="193.00" y2="493.50" stroke="#1a1a1a" stroke-width="0.8"/>
<line x1="190.70" y1="463.71" x2="195.30" y2="463.71" stroke="#1a1a1a" stroke-width="0.8"/>
<line x1="190.70" y1="467.02" x2="195.30" y2="467.02" stroke="#1a1a1a" stroke-width="0.8"/>
<line x1="190.70" y1="475.63" x2="195.30" y2="475.63" stroke="#1a1a1a" stroke-width="0.8"/>
<line x1="190.70" y1="483.57" x2="195.30" y2="483.57" stroke="#1a1a1a" stroke-width="0.8"/>
<line x1="190.70" y1="493.50" x2="195.30" y2="493.50" stroke="#1a1a1a" stroke-width="0.8"/>
<line x1="205.80" y1="460.40" x2="205.80" y2="487.88" stroke="#1a1a1a" stroke-width="0.8"/>
<line x1="203.50" y1="460.40" x2="208.10" y2="460.40" stroke="#1a1a1a" stroke-width="0.8"/>
<line x1="203.50" y1="466.36" x2="208.10" y2="466.36" stroke="#1a1a1a" stroke-width="0.8"/>
<line x1="203.50" y1="473.64" x2="208.10" y2="473.64" stroke="#1a1a1a" stroke-width="0.8"/>
<line x1="203.50" y1="480.26" x2="208.10" y2="480.26" stroke="#1a1a1a" stroke-width="0.8"/>
<line x1="203.50" y1="487.88" x2="208.10" y2="487.88" stroke="#1a1a1a" stroke-width="0.8"/>
<line x1="218.00" y1="461.40" x2="218.00" y2="513.36" stroke="#1a1a1a" stroke-width="0.8"/>
<line x1="215.70" y1="461.40" x2="220.30" y2="461.40" stroke="#1a1a1a" stroke-width="0.8"/>
<line x1="215.70" y1="466.36" x2="220.30" y2="466.36" stroke="#1a1a1a" stroke-width="0.8"/>
<line x1="215.70" y1="478.94" x2="220.30" y2="478.94" stroke="#1a1a1a" stroke-width="0.8"/>
<line x1="215.70" y1="489.53" x2="220.30" y2="489.53" stroke="#1a1a1a" stroke-width="0.8"/>
<line x1="215.70" y1="498.14" x2="220.30" y2="498.14" stroke="#1a1a1a" stroke-width="0.8"/>
<line x1="215.70" y1="513.36" x2="220.30" y2="513.36" stroke="#1a1a1a" stroke-width="0.8"/>
<line x1="230.60" y1="459.08" x2="230.60" y2="531.90" stroke="#1a1a1a" stroke-width="0.8"/>
<line x1="228.30" y1="459.08" x2="232.90" y2="459.08" stroke="#1a1a1a" stroke-width="0.8"/>
<line x1="228.30" y1="469.01" x2="232.90" y2="469.01" stroke="#1a1a1a" stroke-width="0.8"/>
<line x1="228.30" y1="473.64" x2="232.90" y2="473.64" stroke="#1a1a1a" stroke-width="0.8"/>
<line x1="228.30" y1="485.56" x2="232.90" y2="485.56" stroke="#1a1a1a" stroke-width="0.8"/>
<line x1="228.30" y1="498.80" x2="232.90" y2="498.80" stroke="#1a1a1a" stroke-width="0.8"/>
<line x1="228.30" y1="511.38" x2="232.90" y2="511.38" stroke="#1a1a1a" stroke-width="0.8"/>
<line x1="243.30" y1="459.08" x2="243.30" y2="525.28" stroke="#1a1a1a" stroke-width="0.8"/>
<line x1="241.00" y1="459.08" x2="245.60" y2="459.08" stroke="#1a1a1a" stroke-width="0.8"/>
<line x1="241.00" y1="472.32" x2="245.60" y2="472.32" stroke="#1a1a1a" stroke-width="0.8"/>
<line x1="241.00" y1="480.59" x2="245.60" y2="480.59" stroke="#1a1a1a" stroke-width="0.8"/>
<line x1="241.00" y1="489.53" x2="245.60" y2="489.53" stroke="#1a1a1a" stroke-width="0.8"/>
<line x1="241.00" y1="500.12" x2="245.60" y2="500.12" stroke="#1a1a1a" stroke-width="0.8"/>
<line x1="241.00" y1="506.74" x2="245.60" y2="506.74" stroke="#1a1a1a" stroke-width="0.8"/>
<line x1="241.00" y1="516.01" x2="245.60" y2="516.01" stroke="#1a1a1a" stroke-width="0.8"/>
<line x1="241.00" y1="525.28" x2="245.60" y2="525.28" stroke="#1a1a1a" stroke-width="0.8"/>
<line x1="172.00" y1="531.90" x2="252.50" y2="531.90" stroke="#333" stroke-width="1.3"/>
<line x1="180.90" y1="531.90" x2="180.90" y2="534.50" stroke="#222" stroke-width="0.9"/>
<text x="0" y="0" font-size="6.2" text-anchor="end" fill="#222" transform="translate(181.10,540.50) rotate(-45)">&lt;32</text>
<line x1="193.00" y1="531.90" x2="193.00" y2="534.50" stroke="#222" stroke-width="0.9"/>
<text x="0" y="0" font-size="6.2" text-anchor="end" fill="#222" transform="translate(193.20,540.50) rotate(-45)">32-36</text>
<line x1="205.80" y1="531.90" x2="205.80" y2="534.50" stroke="#222" stroke-width="0.9"/>
<text x="0" y="0" font-size="6.2" text-anchor="end" fill="#222" transform="translate(206.00,540.50) rotate(-45)">I</text>
<line x1="218.00" y1="531.90" x2="218.00" y2="534.50" stroke="#222" stroke-width="0.9"/>
<text x="0" y="0" font-size="6.2" text-anchor="end" fill="#222" transform="translate(218.20,540.50) rotate(-45)">28d-2a</text>
<line x1="230.60" y1="531.90" x2="230.60" y2="534.50" stroke="#222" stroke-width="0.9"/>
<text x="0" y="0" font-size="6.2" text-anchor="end" fill="#222" transform="translate(230.80,540.50) rotate(-45)">2-13a</text>
<line x1="243.30" y1="531.90" x2="243.30" y2="534.50" stroke="#222" stroke-width="0.9"/>
<text x="0" y="0" font-size="6.2" text-anchor="end" fill="#222" transform="translate(243.50,540.50) rotate(-45)">&gt;13a</text>
<text x="269.50" y="447.60" font-size="10.5" text-anchor="start" font-weight="bold" fill="#111"  style="stroke-width:0.04px">O</text>
<text x="344.60" y="447.80" font-size="7.4" text-anchor="middle" font-weight="normal" fill="#222" textLength="39.0" lengthAdjust="spacingAndGlyphs"  style="stroke-width:0.04px">ADP [5 µM]</text>
<line x1="305.00" y1="452.50" x2="305.00" y2="532.50" stroke="#333" stroke-width="1.35"/>
<line x1="302.40" y1="531.90" x2="305.00" y2="531.90" stroke="#222" stroke-width="0.9"/>
<text x="298.40" y="534.00" font-size="6.2" text-anchor="end" font-weight="normal" fill="#222" >0</text>
<line x1="302.40" y1="498.80" x2="305.00" y2="498.80" stroke="#222" stroke-width="0.9"/>
<text x="298.40" y="500.90" font-size="6.2" text-anchor="end" font-weight="normal" fill="#222" >50</text>
<line x1="302.40" y1="465.70" x2="305.00" y2="465.70" stroke="#222" stroke-width="0.9"/>
<text x="298.40" y="467.80" font-size="6.2" text-anchor="end" font-weight="normal" fill="#222" >100</text>
<text x="0" y="0" font-size="6.8" text-anchor="middle" fill="#222" textLength="76.0" lengthAdjust="spacingAndGlyphs" style="stroke-width:0.2px" transform="translate(282.60,492.80) rotate(-90)">PLTs in respective quadrant [%]</text>
<rect x="309.30" y="482.58" width="8.0" height="49.32" fill="#d3d3d3"/>
<rect x="309.30" y="478.61" width="8.0" height="3.97" fill="#2a852a"/>
<rect x="309.30" y="474.97" width="8.0" height="3.64" fill="#3421a0"/>
<rect x="309.30" y="465.70" width="8.0" height="9.27" fill="#f3e71e"/>
<rect x="321.80" y="488.54" width="8.0" height="43.36" fill="#d3d3d3"/>
<rect x="321.80" y="482.58" width="8.0" height="5.96" fill="#2a852a"/>
<rect x="321.80" y="477.28" width="8.0" height="5.30" fill="#3421a0"/>
<rect x="321.80" y="465.70" width="8.0" height="11.58" fill="#f3e71e"/>
<rect x="334.30" y="498.47" width="8.0" height="33.43" fill="#d3d3d3"/>
<rect x="334.30" y="485.56" width="8.0" height="12.91" fill="#2a852a"/>
<rect x="334.30" y="482.25" width="8.0" height="3.31" fill="#3421a0"/>
<rect x="334.30" y="465.70" width="8.0" height="16.55" fill="#f3e71e"/>
<rect x="347.00" y="501.78" width="8.0" height="30.12" fill="#d3d3d3"/>
<rect x="347.00" y="490.19" width="8.0" height="11.59" fill="#2a852a"/>
<rect x="347.00" y="487.88" width="8.0" height="2.32" fill="#3421a0"/>
<rect x="347.00" y="465.70" width="8.0" height="22.18" fill="#f3e71e"/>
<rect x="359.30" y="517.34" width="8.0" height="14.56" fill="#d3d3d3"/>
<rect x="359.30" y="494.83" width="8.0" height="22.51" fill="#2a852a"/>
<rect x="359.30" y="493.50" width="8.0" height="1.32" fill="#3421a0"/>
<rect x="359.30" y="465.70" width="8.0" height="27.80" fill="#f3e71e"/>
<rect x="372.00" y="519.65" width="8.0" height="12.25" fill="#d3d3d3"/>
<rect x="372.00" y="501.45" width="8.0" height="18.21" fill="#2a852a"/>
<rect x="372.00" y="500.12" width="8.0" height="1.32" fill="#3421a0"/>
<rect x="372.00" y="465.70" width="8.0" height="34.42" fill="#f3e71e"/>
<line x1="313.30" y1="457.09" x2="313.30" y2="493.50" stroke="#1a1a1a" stroke-width="0.8"/>
<line x1="311.00" y1="457.09" x2="315.60" y2="457.09" stroke="#1a1a1a" stroke-width="0.8"/>
<line x1="311.00" y1="471.00" x2="315.60" y2="471.00" stroke="#1a1a1a" stroke-width="0.8"/>
<line x1="311.00" y1="474.97" x2="315.60" y2="474.97" stroke="#1a1a1a" stroke-width="0.8"/>
<line x1="311.00" y1="478.94" x2="315.60" y2="478.94" stroke="#1a1a1a" stroke-width="0.8"/>
<line x1="311.00" y1="482.91" x2="315.60" y2="482.91" stroke="#1a1a1a" stroke-width="0.8"/>
<line x1="311.00" y1="493.50" x2="315.60" y2="493.50" stroke="#1a1a1a" stroke-width="0.8"/>
<line x1="325.80" y1="460.73" x2="325.80" y2="494.83" stroke="#1a1a1a" stroke-width="0.8"/>
<line x1="323.50" y1="460.73" x2="328.10" y2="460.73" stroke="#1a1a1a" stroke-width="0.8"/>
<line x1="323.50" y1="468.35" x2="328.10" y2="468.35" stroke="#1a1a1a" stroke-width="0.8"/>
<line x1="323.50" y1="476.29" x2="328.10" y2="476.29" stroke="#1a1a1a" stroke-width="0.8"/>
<line x1="323.50" y1="479.60" x2="328.10" y2="479.60" stroke="#1a1a1a" stroke-width="0.8"/>
<line x1="323.50" y1="484.24" x2="328.10" y2="484.24" stroke="#1a1a1a" stroke-width="0.8"/>
<line x1="323.50" y1="494.83" x2="328.10" y2="494.83" stroke="#1a1a1a" stroke-width="0.8"/>
<line x1="338.30" y1="460.73" x2="338.30" y2="506.41" stroke="#1a1a1a" stroke-width="0.8"/>
<line x1="336.00" y1="460.73" x2="340.60" y2="460.73" stroke="#1a1a1a" stroke-width="0.8"/>
<line x1="336.00" y1="468.35" x2="340.60" y2="468.35" stroke="#1a1a1a" stroke-width="0.8"/>
<line x1="336.00" y1="482.25" x2="340.60" y2="482.25" stroke="#1a1a1a" stroke-width="0.8"/>
<line x1="336.00" y1="490.86" x2="340.60" y2="490.86" stroke="#1a1a1a" stroke-width="0.8"/>
<line x1="336.00" y1="497.48" x2="340.60" y2="497.48" stroke="#1a1a1a" stroke-width="0.8"/>
<line x1="336.00" y1="506.41" x2="340.60" y2="506.41" stroke="#1a1a1a" stroke-width="0.8"/>
<line x1="351.00" y1="457.09" x2="351.00" y2="515.15" stroke="#1a1a1a" stroke-width="0.8"/>
<line x1="348.70" y1="457.09" x2="353.30" y2="457.09" stroke="#1a1a1a" stroke-width="0.8"/>
<line x1="348.70" y1="468.35" x2="353.30" y2="468.35" stroke="#1a1a1a" stroke-width="0.8"/>
<line x1="348.70" y1="484.24" x2="353.30" y2="484.24" stroke="#1a1a1a" stroke-width="0.8"/>
<line x1="348.70" y1="489.53" x2="353.30" y2="489.53" stroke="#1a1a1a" stroke-width="0.8"/>
<line x1="348.70" y1="497.48" x2="353.30" y2="497.48" stroke="#1a1a1a" stroke-width="0.8"/>
<line x1="348.70" y1="515.15" x2="353.30" y2="515.15" stroke="#1a1a1a" stroke-width="0.8"/>
<line x1="363.30" y1="458.75" x2="363.30" y2="525.08" stroke="#1a1a1a" stroke-width="0.8"/>
<line x1="361.00" y1="458.75" x2="365.60" y2="458.75" stroke="#1a1a1a" stroke-width="0.8"/>
<line x1="361.00" y1="468.35" x2="365.60" y2="468.35" stroke="#1a1a1a" stroke-width="0.8"/>
<line x1="361.00" y1="489.53" x2="365.60" y2="489.53" stroke="#1a1a1a" stroke-width="0.8"/>
<line x1="361.00" y1="493.50" x2="365.60" y2="493.50" stroke="#1a1a1a" stroke-width="0.8"/>
<line x1="361.00" y1="502.11" x2="365.60" y2="502.11" stroke="#1a1a1a" stroke-width="0.8"/>
<line x1="361.00" y1="509.39" x2="365.60" y2="509.39" stroke="#1a1a1a" stroke-width="0.8"/>
<line x1="361.00" y1="517.34" x2="365.60" y2="517.34" stroke="#1a1a1a" stroke-width="0.8"/>
<line x1="361.00" y1="525.08" x2="365.60" y2="525.08" stroke="#1a1a1a" stroke-width="0.8"/>
<line x1="376.00" y1="456.10" x2="376.00" y2="531.90" stroke="#1a1a1a" stroke-width="0.8"/>
<line x1="373.70" y1="456.10" x2="378.30" y2="456.10" stroke="#1a1a1a" stroke-width="0.8"/>
<line x1="373.70" y1="474.97" x2="378.30" y2="474.97" stroke="#1a1a1a" stroke-width="0.8"/>
<line x1="373.70" y1="494.83" x2="378.30" y2="494.83" stroke="#1a1a1a" stroke-width="0.8"/>
<line x1="373.70" y1="500.12" x2="378.30" y2="500.12" stroke="#1a1a1a" stroke-width="0.8"/>
<line x1="373.70" y1="509.39" x2="378.30" y2="509.39" stroke="#1a1a1a" stroke-width="0.8"/>
<line x1="373.70" y1="519.98" x2="378.30" y2="519.98" stroke="#1a1a1a" stroke-width="0.8"/>
<line x1="373.70" y1="531.90" x2="378.30" y2="531.90" stroke="#1a1a1a" stroke-width="0.8"/>
<line x1="304.40" y1="531.90" x2="383.70" y2="531.90" stroke="#333" stroke-width="1.3"/>
<line x1="313.30" y1="531.90" x2="313.30" y2="534.50" stroke="#222" stroke-width="0.9"/>
<text x="0" y="0" font-size="6.2" text-anchor="end" fill="#222" transform="translate(313.50,540.50) rotate(-45)">&lt;32</text>
<line x1="325.80" y1="531.90" x2="325.80" y2="534.50" stroke="#222" stroke-width="0.9"/>
<text x="0" y="0" font-size="6.2" text-anchor="end" fill="#222" transform="translate(326.00,540.50) rotate(-45)">32-36</text>
<line x1="338.30" y1="531.90" x2="338.30" y2="534.50" stroke="#222" stroke-width="0.9"/>
<text x="0" y="0" font-size="6.2" text-anchor="end" fill="#222" transform="translate(338.50,540.50) rotate(-45)">I</text>
<line x1="351.00" y1="531.90" x2="351.00" y2="534.50" stroke="#222" stroke-width="0.9"/>
<text x="0" y="0" font-size="6.2" text-anchor="end" fill="#222" transform="translate(351.20,540.50) rotate(-45)">28d-2a</text>
<line x1="363.30" y1="531.90" x2="363.30" y2="534.50" stroke="#222" stroke-width="0.9"/>
<text x="0" y="0" font-size="6.2" text-anchor="end" fill="#222" transform="translate(363.50,540.50) rotate(-45)">2-13a</text>
<line x1="376.00" y1="531.90" x2="376.00" y2="534.50" stroke="#222" stroke-width="0.9"/>
<text x="0" y="0" font-size="6.2" text-anchor="end" fill="#222" transform="translate(376.20,540.50) rotate(-45)">&gt;13a</text>
<text x="399.50" y="447.60" font-size="10.5" text-anchor="start" font-weight="bold" fill="#111"  style="stroke-width:0.04px">P</text>
<text x="473.30" y="447.80" font-size="7.4" text-anchor="middle" font-weight="normal" fill="#222" textLength="51.0" lengthAdjust="spacingAndGlyphs"  style="stroke-width:0.04px">U46619 [2 µM]</text>
<line x1="433.70" y1="452.50" x2="433.70" y2="532.50" stroke="#333" stroke-width="1.35"/>
<line x1="431.10" y1="531.90" x2="433.70" y2="531.90" stroke="#222" stroke-width="0.9"/>
<text x="427.10" y="534.00" font-size="6.2" text-anchor="end" font-weight="normal" fill="#222" >0</text>
<line x1="431.10" y1="498.80" x2="433.70" y2="498.80" stroke="#222" stroke-width="0.9"/>
<text x="427.10" y="500.90" font-size="6.2" text-anchor="end" font-weight="normal" fill="#222" >50</text>
<line x1="431.10" y1="465.70" x2="433.70" y2="465.70" stroke="#222" stroke-width="0.9"/>
<text x="427.10" y="467.80" font-size="6.2" text-anchor="end" font-weight="normal" fill="#222" >100</text>
<text x="0" y="0" font-size="6.8" text-anchor="middle" fill="#222" textLength="76.0" lengthAdjust="spacingAndGlyphs" style="stroke-width:0.2px" transform="translate(411.90,492.80) rotate(-90)">PLTs in respective quadrant [%]</text>
<rect x="438.00" y="484.90" width="8.0" height="47.00" fill="#d3d3d3"/>
<rect x="438.00" y="479.93" width="8.0" height="4.96" fill="#2a852a"/>
<rect x="438.00" y="474.97" width="8.0" height="4.97" fill="#3421a0"/>
<rect x="438.00" y="465.70" width="8.0" height="9.27" fill="#f3e71e"/>
<rect x="450.60" y="488.21" width="8.0" height="43.69" fill="#d3d3d3"/>
<rect x="450.60" y="481.59" width="8.0" height="6.62" fill="#2a852a"/>
<rect x="450.60" y="471.99" width="8.0" height="9.60" fill="#3421a0"/>
<rect x="450.60" y="465.70" width="8.0" height="6.29" fill="#f3e71e"/>
<rect x="463.30" y="480.26" width="8.0" height="51.64" fill="#d3d3d3"/>
<rect x="463.30" y="476.29" width="8.0" height="3.97" fill="#2a852a"/>
<rect x="463.30" y="471.00" width="8.0" height="5.30" fill="#3421a0"/>
<rect x="463.30" y="465.70" width="8.0" height="5.30" fill="#f3e71e"/>
<rect x="476.00" y="518.66" width="8.0" height="13.24" fill="#d3d3d3"/>
<rect x="476.00" y="485.89" width="8.0" height="32.77" fill="#2a852a"/>
<rect x="476.00" y="482.58" width="8.0" height="3.31" fill="#3421a0"/>
<rect x="476.00" y="465.70" width="8.0" height="16.88" fill="#f3e71e"/>
<rect x="488.30" y="527.93" width="8.0" height="3.97" fill="#d3d3d3"/>
<rect x="488.30" y="486.22" width="8.0" height="41.71" fill="#2a852a"/>
<rect x="488.30" y="484.90" width="8.0" height="1.32" fill="#3421a0"/>
<rect x="488.30" y="465.70" width="8.0" height="19.20" fill="#f3e71e"/>
<rect x="501.00" y="519.32" width="8.0" height="12.58" fill="#d3d3d3"/>
<rect x="501.00" y="495.82" width="8.0" height="23.50" fill="#2a852a"/>
<rect x="501.00" y="494.83" width="8.0" height="0.99" fill="#3421a0"/>
<rect x="501.00" y="465.70" width="8.0" height="29.13" fill="#f3e71e"/>
<line x1="442.00" y1="460.07" x2="442.00" y2="490.52" stroke="#1a1a1a" stroke-width="0.8"/>
<line x1="439.70" y1="460.07" x2="444.30" y2="460.07" stroke="#1a1a1a" stroke-width="0.8"/>
<line x1="439.70" y1="469.67" x2="444.30" y2="469.67" stroke="#1a1a1a" stroke-width="0.8"/>
<line x1="439.70" y1="473.64" x2="444.30" y2="473.64" stroke="#1a1a1a" stroke-width="0.8"/>
<line x1="439.70" y1="478.94" x2="444.30" y2="478.94" stroke="#1a1a1a" stroke-width="0.8"/>
<line x1="439.70" y1="482.91" x2="444.30" y2="482.91" stroke="#1a1a1a" stroke-width="0.8"/>
<line x1="439.70" y1="490.52" x2="444.30" y2="490.52" stroke="#1a1a1a" stroke-width="0.8"/>
<line x1="454.60" y1="462.06" x2="454.60" y2="494.83" stroke="#1a1a1a" stroke-width="0.8"/>
<line x1="452.30" y1="462.06" x2="456.90" y2="462.06" stroke="#1a1a1a" stroke-width="0.8"/>
<line x1="452.30" y1="469.67" x2="456.90" y2="469.67" stroke="#1a1a1a" stroke-width="0.8"/>
<line x1="452.30" y1="472.98" x2="456.90" y2="472.98" stroke="#1a1a1a" stroke-width="0.8"/>
<line x1="452.30" y1="484.24" x2="456.90" y2="484.24" stroke="#1a1a1a" stroke-width="0.8"/>
<line x1="452.30" y1="488.21" x2="456.90" y2="488.21" stroke="#1a1a1a" stroke-width="0.8"/>
<line x1="452.30" y1="494.83" x2="456.90" y2="494.83" stroke="#1a1a1a" stroke-width="0.8"/>
<line x1="467.30" y1="462.39" x2="467.30" y2="488.54" stroke="#1a1a1a" stroke-width="0.8"/>
<line x1="465.00" y1="462.39" x2="469.60" y2="462.39" stroke="#1a1a1a" stroke-width="0.8"/>
<line x1="465.00" y1="468.35" x2="469.60" y2="468.35" stroke="#1a1a1a" stroke-width="0.8"/>
<line x1="465.00" y1="471.66" x2="469.60" y2="471.66" stroke="#1a1a1a" stroke-width="0.8"/>
<line x1="465.00" y1="476.29" x2="469.60" y2="476.29" stroke="#1a1a1a" stroke-width="0.8"/>
<line x1="465.00" y1="480.26" x2="469.60" y2="480.26" stroke="#1a1a1a" stroke-width="0.8"/>
<line x1="465.00" y1="488.54" x2="469.60" y2="488.54" stroke="#1a1a1a" stroke-width="0.8"/>
<line x1="480.00" y1="456.10" x2="480.00" y2="531.90" stroke="#1a1a1a" stroke-width="0.8"/>
<line x1="477.70" y1="456.10" x2="482.30" y2="456.10" stroke="#1a1a1a" stroke-width="0.8"/>
<line x1="477.70" y1="468.35" x2="482.30" y2="468.35" stroke="#1a1a1a" stroke-width="0.8"/>
<line x1="477.70" y1="475.63" x2="482.30" y2="475.63" stroke="#1a1a1a" stroke-width="0.8"/>
<line x1="477.70" y1="483.57" x2="482.30" y2="483.57" stroke="#1a1a1a" stroke-width="0.8"/>
<line x1="477.70" y1="505.42" x2="482.30" y2="505.42" stroke="#1a1a1a" stroke-width="0.8"/>
<line x1="477.70" y1="531.90" x2="482.30" y2="531.90" stroke="#1a1a1a" stroke-width="0.8"/>
<line x1="492.30" y1="460.07" x2="492.30" y2="529.25" stroke="#1a1a1a" stroke-width="0.8"/>
<line x1="490.00" y1="460.07" x2="494.60" y2="460.07" stroke="#1a1a1a" stroke-width="0.8"/>
<line x1="490.00" y1="468.35" x2="494.60" y2="468.35" stroke="#1a1a1a" stroke-width="0.8"/>
<line x1="490.00" y1="480.26" x2="494.60" y2="480.26" stroke="#1a1a1a" stroke-width="0.8"/>
<line x1="490.00" y1="485.56" x2="494.60" y2="485.56" stroke="#1a1a1a" stroke-width="0.8"/>
<line x1="490.00" y1="526.60" x2="494.60" y2="526.60" stroke="#1a1a1a" stroke-width="0.8"/>
<line x1="490.00" y1="529.25" x2="494.60" y2="529.25" stroke="#1a1a1a" stroke-width="0.8"/>
<line x1="505.00" y1="454.11" x2="505.00" y2="531.90" stroke="#1a1a1a" stroke-width="0.8"/>
<line x1="502.70" y1="454.11" x2="507.30" y2="454.11" stroke="#1a1a1a" stroke-width="0.8"/>
<line x1="502.70" y1="477.62" x2="507.30" y2="477.62" stroke="#1a1a1a" stroke-width="0.8"/>
<line x1="502.70" y1="482.91" x2="507.30" y2="482.91" stroke="#1a1a1a" stroke-width="0.8"/>
<line x1="502.70" y1="494.83" x2="507.30" y2="494.83" stroke="#1a1a1a" stroke-width="0.8"/>
<line x1="502.70" y1="506.74" x2="507.30" y2="506.74" stroke="#1a1a1a" stroke-width="0.8"/>
<line x1="502.70" y1="509.39" x2="507.30" y2="509.39" stroke="#1a1a1a" stroke-width="0.8"/>
<line x1="502.70" y1="531.90" x2="507.30" y2="531.90" stroke="#1a1a1a" stroke-width="0.8"/>
<line x1="433.10" y1="531.90" x2="512.00" y2="531.90" stroke="#333" stroke-width="1.3"/>
<line x1="442.00" y1="531.90" x2="442.00" y2="534.50" stroke="#222" stroke-width="0.9"/>
<text x="0" y="0" font-size="6.2" text-anchor="end" fill="#222" transform="translate(442.20,540.50) rotate(-45)">&lt;32</text>
<line x1="454.60" y1="531.90" x2="454.60" y2="534.50" stroke="#222" stroke-width="0.9"/>
<text x="0" y="0" font-size="6.2" text-anchor="end" fill="#222" transform="translate(454.80,540.50) rotate(-45)">32-36</text>
<line x1="467.30" y1="531.90" x2="467.30" y2="534.50" stroke="#222" stroke-width="0.9"/>
<text x="0" y="0" font-size="6.2" text-anchor="end" fill="#222" transform="translate(467.50,540.50) rotate(-45)">I</text>
<line x1="480.00" y1="531.90" x2="480.00" y2="534.50" stroke="#222" stroke-width="0.9"/>
<text x="0" y="0" font-size="6.2" text-anchor="end" fill="#222" transform="translate(480.20,540.50) rotate(-45)">28d-2a</text>
<line x1="492.30" y1="531.90" x2="492.30" y2="534.50" stroke="#222" stroke-width="0.9"/>
<text x="0" y="0" font-size="6.2" text-anchor="end" fill="#222" transform="translate(492.50,540.50) rotate(-45)">2-13a</text>
<line x1="505.00" y1="531.90" x2="505.00" y2="534.50" stroke="#222" stroke-width="0.9"/>
<text x="0" y="0" font-size="6.2" text-anchor="end" fill="#222" transform="translate(505.20,540.50) rotate(-45)">&gt;13a</text>
<rect x="0.5" y="0.5" width="519" height="561" fill="none" stroke="#555" stroke-width="1.2"/>
</svg>
</body></html>
